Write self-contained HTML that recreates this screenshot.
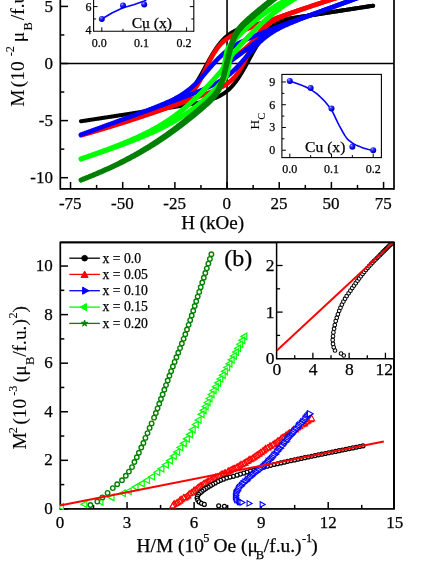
<!DOCTYPE html>
<html><head><meta charset="utf-8"><title>figure</title>
<style>
html,body{margin:0;padding:0;background:#fff;}
body{width:436px;height:564px;overflow:hidden;}
svg{display:block;will-change:transform;font-family:"Liberation Serif",serif;}
text{stroke:#000;stroke-width:0.25px;}
.rot text{stroke-width:0.08px;}
</style></head><body>
<svg width="436" height="564" viewBox="0 0 436 564">
<rect x="0" y="0" width="436" height="564" fill="#fff"/>
<defs>
<clipPath id="clipTop"><rect x="60.3" y="-5" width="333.7" height="193.9"/></clipPath>
<clipPath id="clipBot"><rect x="59.45" y="242.4" width="334.55" height="267.35"/></clipPath>
<clipPath id="clipIns"><rect x="276.6" y="242.4" width="117.4" height="116.3"/></clipPath>
<radialGradient id="sph" cx="0.35" cy="0.3" r="0.75"><stop offset="0" stop-color="#b8b8ff"/><stop offset="0.25" stop-color="#3a3aff"/><stop offset="0.7" stop-color="#0000e0"/><stop offset="1" stop-color="#000090"/></radialGradient>
</defs>
<line x1="60.3" y1="63.5" x2="394" y2="63.5" stroke="#000" stroke-width="1.6" />
<line x1="227.05" y1="-2" x2="227.05" y2="188.9" stroke="#000" stroke-width="1.6" />
<g clip-path="url(#clipTop)">
<path d="M227.05 63.5 L227.57 63.1 L228.09 62.7 L228.62 62.3 L229.14 61.9 L229.66 61.5 L230.18 61.1 L230.7 60.7 L231.22 60.3 L231.75 59.9 L232.27 59.5 L232.79 59.1 L233.31 58.7 L233.83 58.3 L234.35 57.9 L234.88 57.5 L235.4 57.1 L235.92 56.7 L236.44 56.31 L236.96 55.91 L237.49 55.51 L238.01 55.11 L238.53 54.71 L239.05 54.31 L239.57 53.91 L240.09 53.51 L240.62 53.11 L241.14 52.71 L241.66 52.31 L242.18 51.91 L242.7 51.51 L243.22 51.11 L243.75 50.71 L244.27 50.3 L244.79 49.9 L245.31 49.5 L245.83 49.1 L246.35 48.7 L246.88 48.3 L247.4 47.9 L247.92 47.49 L248.44 47.09 L248.96 46.68 L249.49 46.28 L250.01 45.87 L250.53 45.46 L251.05 45.05 L251.57 44.64 L252.09 44.22 L252.62 43.8 L253.14 43.38 L253.66 42.96 L254.18 42.52 L254.7 42.09 L255.22 41.65 L255.75 41.2 L256.27 40.75 L256.79 40.29 L257.31 39.83 L257.83 39.36 L258.36 38.88 L258.88 38.4 L259.4 37.91 L259.92 37.42 L260.44 36.92 L260.96 36.42 L261.49 35.92 L262.01 35.41 L262.53 34.91 L263.05 34.4 L263.57 33.9 L264.09 33.4 L264.62 32.9 L265.14 32.41 L265.66 31.92 L266.18 31.44 L266.7 30.97 L267.22 30.5 L267.75 30.04 L268.27 29.58 L268.79 29.14 L269.31 28.7 L269.83 28.27 L270.36 27.84 L270.88 27.43 L271.4 27.02 L271.92 26.62 L272.44 26.23 L272.96 25.85 L273.49 25.47 L274.01 25.1 L274.53 24.73 L275.05 24.37 L275.57 24.02 L276.09 23.67 L276.62 23.32 L277.14 22.98 L277.66 22.64 L278.18 22.31 L278.7 21.98 L279.23 21.65 L279.75 21.32 L280.27 20.99 L280.79 20.67 L281.31 20.34 L281.83 20.02 L282.36 19.7 L282.88 19.59 L283.4 19.5 L283.92 19.42 L284.44 19.34 L284.96 19.26 L285.49 19.18 L286.01 19.1 L286.53 19.01 L287.05 18.93 L287.57 18.85 L288.09 18.77 L288.62 18.69 L289.14 18.61 L289.66 18.53 L290.18 18.45 L290.7 18.37 L291.23 18.28 L291.75 18.2 L292.27 18.12 L292.79 18.04 L293.31 17.96 L293.83 17.88 L294.36 17.8 L294.88 17.72 L295.4 17.64 L295.92 17.56 L296.44 17.48 L296.96 17.4 L297.49 17.32 L298.01 17.24 L298.53 17.16 L299.05 17.08 L299.57 16.99 L300.1 16.91 L300.62 16.83 L301.14 16.75 L301.66 16.67 L302.18 16.59 L302.7 16.51 L303.23 16.43 L303.75 16.35 L304.27 16.27 L304.79 16.19 L305.31 16.11 L305.83 16.03 L306.36 15.95 L306.88 15.87 L307.4 15.79 L307.92 15.71 L308.44 15.63 L308.96 15.55 L309.49 15.47 L310.01 15.39 L310.53 15.31 L311.05 15.23 L311.57 15.15 L312.1 15.07 L312.62 14.99 L313.14 14.91 L313.66 14.83 L314.18 14.75 L314.7 14.67 L315.23 14.59 L315.75 14.51 L316.27 14.43 L316.79 14.35 L317.31 14.27 L317.83 14.19 L318.36 14.11 L318.88 14.03 L319.4 13.95 L319.92 13.87 L320.44 13.79 L320.97 13.71 L321.49 13.63 L322.01 13.55 L322.53 13.47 L323.05 13.39 L323.57 13.31 L324.1 13.23 L324.62 13.15 L325.14 13.07 L325.66 12.99 L326.18 12.91 L326.7 12.83 L327.23 12.75 L327.75 12.67 L328.27 12.59 L328.79 12.51 L329.31 12.43 L329.83 12.35 L330.36 12.27 L330.88 12.19 L331.4 12.11 L331.92 12.03 L332.44 11.95 L332.97 11.87 L333.49 11.79 L334.01 11.71 L334.53 11.63 L335.05 11.55 L335.57 11.47 L336.1 11.39 L336.62 11.31 L337.14 11.23 L337.66 11.15 L338.18 11.07 L338.7 10.99 L339.23 10.91 L339.75 10.83 L340.27 10.75 L340.79 10.67 L341.31 10.59 L341.84 10.51 L342.36 10.43 L342.88 10.35 L343.4 10.27 L343.92 10.19 L344.44 10.11 L344.97 10.03 L345.49 9.95 L346.01 9.87 L346.53 9.79 L347.05 9.71 L347.57 9.63 L348.1 9.55 L348.62 9.47 L349.14 9.39 L349.66 9.31 L350.18 9.23 L350.7 9.15 L351.23 9.07 L351.75 8.99 L352.27 8.91 L352.79 8.83 L353.31 8.75 L353.84 8.67 L354.36 8.59 L354.88 8.51 L355.4 8.43 L355.92 8.35 L356.44 8.27 L356.97 8.19 L357.49 8.11 L358.01 8.03 L358.53 7.95 L359.05 7.87 L359.57 7.79 L360.1 7.71 L360.62 7.63 L361.14 7.55 L361.66 7.47 L362.18 7.39 L362.71 7.31 L363.23 7.23 L363.75 7.15 L364.27 7.07 L364.79 6.99 L365.31 6.91 L365.84 6.83 L366.36 6.75 L366.88 6.67 L367.4 6.59 L367.92 6.51 L368.44 6.43 L368.97 6.35 L369.49 6.27 L370.01 6.19 L370.53 6.11 L371.05 6.03 L371.57 5.95 L372.1 5.87 L372.62 5.79 L373.14 5.71" fill="none" stroke="#000000" stroke-width="4" stroke-linejoin="round" stroke-linecap="round"/>
<path d="M80.96 121.28 L81.48 121.2 L82 121.12 L82.53 121.04 L83.05 120.96 L83.57 120.88 L84.09 120.8 L84.61 120.72 L85.13 120.64 L85.66 120.57 L86.18 120.49 L86.7 120.41 L87.22 120.33 L87.74 120.25 L88.26 120.17 L88.79 120.09 L89.31 120.01 L89.83 119.93 L90.35 119.85 L90.87 119.77 L91.4 119.69 L91.92 119.61 L92.44 119.53 L92.96 119.45 L93.48 119.37 L94 119.29 L94.53 119.21 L95.05 119.13 L95.57 119.04 L96.09 118.96 L96.61 118.88 L97.13 118.8 L97.66 118.72 L98.18 118.64 L98.7 118.56 L99.22 118.48 L99.74 118.4 L100.26 118.32 L100.79 118.24 L101.31 118.16 L101.83 118.08 L102.35 118 L102.87 117.92 L103.4 117.84 L103.92 117.76 L104.44 117.68 L104.96 117.6 L105.48 117.52 L106 117.44 L106.53 117.36 L107.05 117.28 L107.57 117.2 L108.09 117.12 L108.61 117.04 L109.13 116.96 L109.66 116.88 L110.18 116.8 L110.7 116.72 L111.22 116.64 L111.74 116.56 L112.27 116.48 L112.79 116.4 L113.31 116.32 L113.83 116.24 L114.35 116.16 L114.87 116.08 L115.4 116 L115.92 115.92 L116.44 115.84 L116.96 115.75 L117.48 115.67 L118 115.59 L118.53 115.51 L119.05 115.43 L119.57 115.35 L120.09 115.27 L120.61 115.19 L121.13 115.11 L121.66 115.03 L122.18 114.95 L122.7 114.86 L123.22 114.78 L123.74 114.7 L124.27 114.62 L124.79 114.54 L125.31 114.46 L125.83 114.38 L126.35 114.29 L126.87 114.21 L127.4 114.13 L127.92 114.05 L128.44 113.97 L128.96 113.88 L129.48 113.8 L130 113.72 L130.53 113.64 L131.05 113.55 L131.57 113.47 L132.09 113.39 L132.61 113.3 L133.13 113.22 L133.66 113.14 L134.18 113.05 L134.7 112.97 L135.22 112.89 L135.74 112.8 L136.27 112.72 L136.79 112.63 L137.31 112.55 L137.83 112.46 L138.35 112.38 L138.87 112.29 L139.4 112.2 L139.92 112.12 L140.44 112.03 L140.96 111.94 L141.48 111.86 L142 111.77 L142.53 111.68 L143.05 111.59 L143.57 111.5 L144.09 111.41 L144.61 111.32 L145.14 111.23 L145.66 111.14 L146.18 111.05 L146.7 110.96 L147.22 110.86 L147.74 110.77 L148.27 110.68 L148.79 110.58 L149.31 110.49 L149.83 110.39 L150.35 110.29 L150.87 110.19 L151.4 110.09 L151.92 109.99 L152.44 109.89 L152.96 109.79 L153.48 109.69 L154 109.58 L154.53 109.47 L155.05 109.37 L155.57 109.26 L156.09 109.15 L156.61 109.04 L157.14 108.92 L157.66 108.81 L158.18 108.69 L158.7 108.57 L159.22 108.45 L159.74 108.33 L160.27 108.2 L160.79 108.08 L161.31 107.95 L161.83 107.82 L162.35 107.68 L162.87 107.55 L163.4 107.41 L163.92 107.26 L164.44 107.12 L164.96 106.97 L165.48 106.82 L166.01 106.66 L166.53 106.5 L167.05 106.34 L167.57 106.17 L168.09 106 L168.61 105.82 L169.14 105.64 L169.66 105.45 L170.18 105.26 L170.7 105.07 L171.22 104.86 L171.74 104.66 L172.27 104.44 L172.79 104.22 L173.31 103.99 L173.83 103.76 L174.35 103.52 L174.88 103.27 L175.4 103.02 L175.92 102.75 L176.44 102.48 L176.96 102.2 L177.48 101.91 L178.01 101.61 L178.53 101.3 L179.05 100.98 L179.57 100.65 L180.09 100.31 L180.61 99.96 L181.14 99.6 L181.66 99.23 L182.18 98.84 L182.7 98.44 L183.22 98.03 L183.74 97.6 L184.27 97.16 L184.79 96.71 L185.31 96.24 L185.83 95.76 L186.35 95.26 L186.88 94.75 L187.4 94.22 L187.92 93.68 L188.44 93.12 L188.96 92.54 L189.48 91.95 L190.01 91.34 L190.53 90.71 L191.05 90.07 L191.57 89.41 L192.09 88.73 L192.61 88.04 L193.14 87.33 L193.66 86.6 L194.18 85.85 L194.7 85.09 L195.22 84.32 L195.75 83.52 L196.27 82.71 L196.79 81.89 L197.31 81.05 L197.83 80.2 L198.35 79.33 L198.88 78.45 L199.4 77.56 L199.92 76.66 L200.44 75.75 L200.96 74.82 L201.48 73.89 L202.01 72.95 L202.53 72.01 L203.05 71.06 L203.57 70.1 L204.09 69.14 L204.61 68.18 L205.14 67.21 L205.66 66.25 L206.18 65.28 L206.7 64.32 L207.22 63.36 L207.75 62.4 L208.27 61.45 L208.79 60.51 L209.31 59.57 L209.83 58.64 L210.35 57.72 L210.88 56.81 L211.4 55.91 L211.92 55.02 L212.44 54.14 L212.96 53.28 L213.48 52.43 L214.01 51.6 L214.53 50.77 L215.05 49.97 L215.57 49.18 L216.09 48.4 L216.62 47.65 L217.14 46.9 L217.66 46.18 L218.18 45.47 L218.7 44.78 L219.22 44.11 L219.75 43.45 L220.27 42.81 L220.79 42.19 L221.31 41.58 L221.83 40.99 L222.35 40.42 L222.88 39.86 L223.4 39.32 L223.92 38.79 L224.44 38.29 L224.96 37.79 L225.48 37.31 L226.01 36.85 L226.53 36.4 L227.05 35.96 L227.57 35.54 L228.09 35.13 L228.62 34.73 L229.14 34.35 L229.66 33.98 L230.18 33.62 L230.7 33.27 L231.22 32.93 L231.75 32.6 L232.27 32.29 L232.79 31.98 L233.31 31.68 L233.83 31.39 L234.35 31.11 L234.88 30.84 L235.4 30.58 L235.92 30.33 L236.44 30.08 L236.96 29.84 L237.49 29.61 L238.01 29.38 L238.53 29.17 L239.05 28.95 L239.57 28.75 L240.09 28.55 L240.62 28.35 L241.14 28.16 L241.66 27.98 L242.18 27.8 L242.7 27.62 L243.22 27.45 L243.75 27.28 L244.27 27.12 L244.79 26.96 L245.31 26.8 L245.83 26.65 L246.35 26.5 L246.88 26.36 L247.4 26.22 L247.92 26.08 L248.44 25.94 L248.96 25.81 L249.49 25.68 L250.01 25.55 L250.53 25.42 L251.05 25.3 L251.57 25.17 L252.09 25.05 L252.62 24.94 L253.14 24.82 L253.66 24.71 L254.18 24.59 L254.7 24.48 L255.22 24.37 L255.75 24.26 L256.27 24.16 L256.79 24.05 L257.31 23.94 L257.83 23.84 L258.36 23.74 L258.88 23.64 L259.4 23.54 L259.92 23.44 L260.44 23.34 L260.96 23.24 L261.49 23.15 L262.01 23.05 L262.53 22.96 L263.05 22.86 L263.57 22.77 L264.09 22.68 L264.62 22.58 L265.14 22.49 L265.66 22.4 L266.18 22.31 L266.7 22.22 L267.22 22.13 L267.75 22.04 L268.27 21.95 L268.79 21.86 L269.31 21.78 L269.83 21.69 L270.36 21.6 L270.88 21.52 L271.4 21.43 L271.92 21.34 L272.44 21.26 L272.96 21.17 L273.49 21.09 L274.01 21 L274.53 20.92 L275.05 20.83 L275.57 20.75 L276.09 20.66 L276.62 20.58 L277.14 20.5 L277.66 20.41 L278.18 20.33 L278.7 20.25 L279.23 20.16 L279.75 20.08 L280.27 20 L280.79 19.92 L281.31 19.83 L281.83 19.75 L282.36 19.67 L282.88 19.59 L283.4 19.5 L283.92 19.42 L284.44 19.34 L284.96 19.26 L285.49 19.18 L286.01 19.1 L286.53 19.01 L287.05 18.93 L287.57 18.85 L288.09 18.77 L288.62 18.69 L289.14 18.61 L289.66 18.53 L290.18 18.45 L290.7 18.37 L291.23 18.28 L291.75 18.2 L292.27 18.12 L292.79 18.04 L293.31 17.96 L293.83 17.88 L294.36 17.8 L294.88 17.72 L295.4 17.64 L295.92 17.56 L296.44 17.48 L296.96 17.4 L297.49 17.32 L298.01 17.24 L298.53 17.16 L299.05 17.08 L299.57 16.99 L300.1 16.91 L300.62 16.83 L301.14 16.75 L301.66 16.67 L302.18 16.59 L302.7 16.51 L303.23 16.43 L303.75 16.35 L304.27 16.27 L304.79 16.19 L305.31 16.11 L305.83 16.03 L306.36 15.95 L306.88 15.87 L307.4 15.79 L307.92 15.71 L308.44 15.63 L308.96 15.55 L309.49 15.47 L310.01 15.39 L310.53 15.31 L311.05 15.23 L311.57 15.15 L312.1 15.07 L312.62 14.99 L313.14 14.91 L313.66 14.83 L314.18 14.75 L314.7 14.67 L315.23 14.59 L315.75 14.51 L316.27 14.43 L316.79 14.35 L317.31 14.27 L317.83 14.19 L318.36 14.11 L318.88 14.03 L319.4 13.95 L319.92 13.87 L320.44 13.79 L320.97 13.71 L321.49 13.63 L322.01 13.55 L322.53 13.47 L323.05 13.39 L323.57 13.31 L324.1 13.23 L324.62 13.15 L325.14 13.07 L325.66 12.99 L326.18 12.91 L326.7 12.83 L327.23 12.75 L327.75 12.67 L328.27 12.59 L328.79 12.51 L329.31 12.43 L329.83 12.35 L330.36 12.27 L330.88 12.19 L331.4 12.11 L331.92 12.03 L332.44 11.95 L332.97 11.87 L333.49 11.79 L334.01 11.71 L334.53 11.63 L335.05 11.55 L335.57 11.47 L336.1 11.39 L336.62 11.31 L337.14 11.23 L337.66 11.15 L338.18 11.07 L338.7 10.99 L339.23 10.91 L339.75 10.83 L340.27 10.75 L340.79 10.67 L341.31 10.59 L341.84 10.51 L342.36 10.43 L342.88 10.35 L343.4 10.27 L343.92 10.19 L344.44 10.11 L344.97 10.03 L345.49 9.95 L346.01 9.87 L346.53 9.79 L347.05 9.71 L347.57 9.63 L348.1 9.55 L348.62 9.47 L349.14 9.39 L349.66 9.31 L350.18 9.23 L350.7 9.15 L351.23 9.07 L351.75 8.99 L352.27 8.91 L352.79 8.83 L353.31 8.75 L353.84 8.67 L354.36 8.59 L354.88 8.51 L355.4 8.43 L355.92 8.35 L356.44 8.27 L356.97 8.19 L357.49 8.11 L358.01 8.03 L358.53 7.95 L359.05 7.87 L359.57 7.79 L360.1 7.71 L360.62 7.63 L361.14 7.55 L361.66 7.47 L362.18 7.39 L362.71 7.31 L363.23 7.23 L363.75 7.15 L364.27 7.07 L364.79 6.99 L365.31 6.91 L365.84 6.83 L366.36 6.75 L366.88 6.67 L367.4 6.59 L367.92 6.51 L368.44 6.43 L368.97 6.35 L369.49 6.27 L370.01 6.19 L370.53 6.11 L371.05 6.03 L371.57 5.95 L372.1 5.87 L372.62 5.79 L373.14 5.71 L373.14 5.72 L372.62 5.8 L372.1 5.88 L371.57 5.96 L371.05 6.04 L370.53 6.12 L370.01 6.2 L369.49 6.28 L368.97 6.36 L368.44 6.43 L367.92 6.51 L367.4 6.59 L366.88 6.67 L366.36 6.75 L365.84 6.83 L365.31 6.91 L364.79 6.99 L364.27 7.07 L363.75 7.15 L363.23 7.23 L362.71 7.31 L362.18 7.39 L361.66 7.47 L361.14 7.55 L360.62 7.63 L360.1 7.71 L359.57 7.79 L359.05 7.87 L358.53 7.96 L358.01 8.04 L357.49 8.12 L356.97 8.2 L356.44 8.28 L355.92 8.36 L355.4 8.44 L354.88 8.52 L354.36 8.6 L353.84 8.68 L353.31 8.76 L352.79 8.84 L352.27 8.92 L351.75 9 L351.23 9.08 L350.7 9.16 L350.18 9.24 L349.66 9.32 L349.14 9.4 L348.62 9.48 L348.1 9.56 L347.57 9.64 L347.05 9.72 L346.53 9.8 L346.01 9.88 L345.49 9.96 L344.97 10.04 L344.44 10.12 L343.92 10.2 L343.4 10.28 L342.88 10.36 L342.36 10.44 L341.84 10.52 L341.31 10.6 L340.79 10.68 L340.27 10.76 L339.75 10.84 L339.23 10.92 L338.7 11 L338.18 11.08 L337.66 11.16 L337.14 11.25 L336.62 11.33 L336.1 11.41 L335.57 11.49 L335.05 11.57 L334.53 11.65 L334.01 11.73 L333.49 11.81 L332.97 11.89 L332.44 11.97 L331.92 12.05 L331.4 12.14 L330.88 12.22 L330.36 12.3 L329.83 12.38 L329.31 12.46 L328.79 12.54 L328.27 12.62 L327.75 12.71 L327.23 12.79 L326.7 12.87 L326.18 12.95 L325.66 13.03 L325.14 13.12 L324.62 13.2 L324.1 13.28 L323.57 13.36 L323.05 13.45 L322.53 13.53 L322.01 13.61 L321.49 13.7 L320.97 13.78 L320.44 13.86 L319.92 13.95 L319.4 14.03 L318.88 14.11 L318.36 14.2 L317.83 14.28 L317.31 14.37 L316.79 14.45 L316.27 14.54 L315.75 14.62 L315.23 14.71 L314.7 14.8 L314.18 14.88 L313.66 14.97 L313.14 15.06 L312.62 15.14 L312.1 15.23 L311.57 15.32 L311.05 15.41 L310.53 15.5 L310.01 15.59 L309.49 15.68 L308.96 15.77 L308.44 15.86 L307.92 15.95 L307.4 16.04 L306.88 16.14 L306.36 16.23 L305.83 16.32 L305.31 16.42 L304.79 16.51 L304.27 16.61 L303.75 16.71 L303.23 16.81 L302.7 16.91 L302.18 17.01 L301.66 17.11 L301.14 17.21 L300.62 17.31 L300.1 17.42 L299.57 17.53 L299.05 17.63 L298.53 17.74 L298.01 17.85 L297.49 17.96 L296.96 18.08 L296.44 18.19 L295.92 18.31 L295.4 18.43 L294.88 18.55 L294.36 18.67 L293.83 18.8 L293.31 18.92 L292.79 19.05 L292.27 19.18 L291.75 19.32 L291.23 19.45 L290.7 19.59 L290.18 19.74 L289.66 19.88 L289.14 20.03 L288.62 20.18 L288.09 20.34 L287.57 20.5 L287.05 20.66 L286.53 20.83 L286.01 21 L285.49 21.18 L284.96 21.36 L284.44 21.55 L283.92 21.74 L283.4 21.93 L282.88 22.14 L282.36 22.34 L281.83 22.56 L281.31 22.78 L280.79 23.01 L280.27 23.24 L279.75 23.48 L279.23 23.73 L278.7 23.98 L278.18 24.25 L277.66 24.52 L277.14 24.8 L276.62 25.09 L276.09 25.39 L275.57 25.7 L275.05 26.02 L274.53 26.35 L274.01 26.69 L273.49 27.04 L272.96 27.4 L272.44 27.77 L271.92 28.16 L271.4 28.56 L270.88 28.97 L270.36 29.4 L269.83 29.84 L269.31 30.29 L268.79 30.76 L268.27 31.24 L267.75 31.74 L267.22 32.25 L266.7 32.78 L266.18 33.32 L265.66 33.88 L265.14 34.46 L264.62 35.05 L264.09 35.66 L263.57 36.29 L263.05 36.93 L262.53 37.59 L262.01 38.27 L261.49 38.96 L260.96 39.67 L260.44 40.4 L259.92 41.15 L259.4 41.91 L258.88 42.68 L258.36 43.48 L257.83 44.29 L257.31 45.11 L256.79 45.95 L256.27 46.8 L255.75 47.67 L255.22 48.55 L254.7 49.44 L254.18 50.34 L253.66 51.25 L253.14 52.18 L252.62 53.11 L252.09 54.05 L251.57 54.99 L251.05 55.94 L250.53 56.9 L250.01 57.86 L249.49 58.82 L248.96 59.79 L248.44 60.75 L247.92 61.72 L247.4 62.68 L246.88 63.64 L246.35 64.6 L245.83 65.55 L245.31 66.49 L244.79 67.43 L244.27 68.36 L243.75 69.28 L243.22 70.19 L242.7 71.09 L242.18 71.98 L241.66 72.86 L241.14 73.72 L240.62 74.57 L240.09 75.4 L239.57 76.23 L239.05 77.03 L238.53 77.82 L238.01 78.6 L237.49 79.35 L236.96 80.1 L236.44 80.82 L235.92 81.53 L235.4 82.22 L234.88 82.89 L234.35 83.55 L233.83 84.19 L233.31 84.81 L232.79 85.42 L232.27 86.01 L231.75 86.58 L231.22 87.14 L230.7 87.68 L230.18 88.21 L229.66 88.71 L229.14 89.21 L228.62 89.69 L228.09 90.15 L227.57 90.6 L227.05 91.04 L226.53 91.46 L226.01 91.87 L225.48 92.27 L224.96 92.65 L224.44 93.02 L223.92 93.38 L223.4 93.73 L222.88 94.07 L222.35 94.4 L221.83 94.71 L221.31 95.02 L220.79 95.32 L220.27 95.61 L219.75 95.89 L219.22 96.16 L218.7 96.42 L218.18 96.67 L217.66 96.92 L217.14 97.16 L216.62 97.39 L216.09 97.62 L215.57 97.83 L215.05 98.05 L214.53 98.25 L214.01 98.45 L213.48 98.65 L212.96 98.84 L212.44 99.02 L211.92 99.2 L211.4 99.38 L210.88 99.55 L210.35 99.72 L209.83 99.88 L209.31 100.04 L208.79 100.2 L208.27 100.35 L207.75 100.5 L207.22 100.64 L206.7 100.78 L206.18 100.92 L205.66 101.06 L205.14 101.19 L204.61 101.32 L204.09 101.45 L203.57 101.58 L203.05 101.7 L202.53 101.83 L202.01 101.95 L201.48 102.06 L200.96 102.18 L200.44 102.29 L199.92 102.41 L199.4 102.52 L198.88 102.63 L198.35 102.74 L197.83 102.84 L197.31 102.95 L196.79 103.06 L196.27 103.16 L195.75 103.26 L195.22 103.36 L194.7 103.46 L194.18 103.56 L193.66 103.66 L193.14 103.76 L192.61 103.85 L192.09 103.95 L191.57 104.04 L191.05 104.14 L190.53 104.23 L190.01 104.32 L189.48 104.42 L188.96 104.51 L188.44 104.6 L187.92 104.69 L187.4 104.78 L186.88 104.87 L186.35 104.96 L185.83 105.05 L185.31 105.14 L184.79 105.22 L184.27 105.31 L183.74 105.4 L183.22 105.48 L182.7 105.57 L182.18 105.66 L181.66 105.74 L181.14 105.83 L180.61 105.91 L180.09 106 L179.57 106.08 L179.05 106.17 L178.53 106.25 L178.01 106.34 L177.48 106.42 L176.96 106.5 L176.44 106.59 L175.92 106.67 L175.4 106.75 L174.88 106.84 L174.35 106.92 L173.83 107 L173.31 107.08 L172.79 107.17 L172.27 107.25 L171.74 107.33 L171.22 107.41 L170.7 107.5 L170.18 107.58 L169.66 107.66 L169.14 107.74 L168.61 107.82 L168.09 107.9 L167.57 107.99 L167.05 108.07 L166.53 108.15 L166.01 108.23 L165.48 108.31 L164.96 108.39 L164.44 108.47 L163.92 108.55 L163.4 108.63 L162.87 108.72 L162.35 108.8 L161.83 108.88 L161.31 108.96 L160.79 109.04 L160.27 109.12 L159.74 109.2 L159.22 109.28 L158.7 109.36 L158.18 109.44 L157.66 109.52 L157.14 109.6 L156.61 109.68 L156.09 109.76 L155.57 109.84 L155.05 109.92 L154.53 110.01 L154 110.09 L153.48 110.17 L152.96 110.25 L152.44 110.33 L151.92 110.41 L151.4 110.49 L150.87 110.57 L150.35 110.65 L149.83 110.73 L149.31 110.81 L148.79 110.89 L148.27 110.97 L147.74 111.05 L147.22 111.13 L146.7 111.21 L146.18 111.29 L145.66 111.37 L145.14 111.45 L144.61 111.53 L144.09 111.61 L143.57 111.69 L143.05 111.77 L142.53 111.85 L142 111.93 L141.48 112.01 L140.96 112.09 L140.44 112.17 L139.92 112.25 L139.4 112.33 L138.87 112.41 L138.35 112.49 L137.83 112.57 L137.31 112.65 L136.79 112.73 L136.27 112.81 L135.74 112.89 L135.22 112.97 L134.7 113.05 L134.18 113.13 L133.66 113.21 L133.13 113.29 L132.61 113.37 L132.09 113.45 L131.57 113.53 L131.05 113.61 L130.53 113.69 L130 113.77 L129.48 113.85 L128.96 113.93 L128.44 114.01 L127.92 114.09 L127.4 114.17 L126.87 114.25 L126.35 114.33 L125.83 114.41 L125.31 114.49 L124.79 114.57 L124.27 114.65 L123.74 114.73 L123.22 114.81 L122.7 114.89 L122.18 114.97 L121.66 115.05 L121.13 115.13 L120.61 115.21 L120.09 115.29 L119.57 115.37 L119.05 115.45 L118.53 115.53 L118 115.61 L117.48 115.69 L116.96 115.77 L116.44 115.85 L115.92 115.93 L115.4 116.01 L114.87 116.09 L114.35 116.17 L113.83 116.25 L113.31 116.33 L112.79 116.41 L112.27 116.49 L111.74 116.57 L111.22 116.65 L110.7 116.73 L110.18 116.81 L109.66 116.89 L109.13 116.97 L108.61 117.05 L108.09 117.13 L107.57 117.21 L107.05 117.29 L106.53 117.37 L106 117.45 L105.48 117.53 L104.96 117.61 L104.44 117.69 L103.92 117.77 L103.4 117.85 L102.87 117.93 L102.35 118.01 L101.83 118.09 L101.31 118.17 L100.79 118.25 L100.26 118.33 L99.74 118.41 L99.22 118.49 L98.7 118.57 L98.18 118.65 L97.66 118.73 L97.13 118.81 L96.61 118.89 L96.09 118.97 L95.57 119.05 L95.05 119.13 L94.53 119.21 L94 119.29 L93.48 119.37 L92.96 119.45 L92.44 119.53 L91.92 119.61 L91.4 119.69 L90.87 119.77 L90.35 119.85 L89.83 119.93 L89.31 120.01 L88.79 120.09 L88.26 120.17 L87.74 120.25 L87.22 120.33 L86.7 120.41 L86.18 120.49 L85.66 120.57 L85.13 120.65 L84.61 120.73 L84.09 120.81 L83.57 120.89 L83.05 120.97 L82.53 121.05 L82 121.13 L81.48 121.21 L80.96 121.29" fill="none" stroke="#000000" stroke-width="4" stroke-linejoin="round" stroke-linecap="round"/>
<path d="M227.05 63.5 L227.57 63.07 L228.09 62.64 L228.62 62.22 L229.14 61.79 L229.66 61.36 L230.18 60.93 L230.7 60.5 L231.22 60.07 L231.75 59.65 L232.27 59.22 L232.79 58.79 L233.31 58.36 L233.83 57.93 L234.35 57.5 L234.88 57.08 L235.4 56.65 L235.92 56.22 L236.44 55.79 L236.96 55.36 L237.49 54.93 L238.01 54.5 L238.53 54.08 L239.05 53.65 L239.57 53.22 L240.09 52.79 L240.62 52.36 L241.14 51.93 L241.66 51.5 L242.18 51.07 L242.7 50.64 L243.22 50.2 L243.75 49.77 L244.27 49.33 L244.79 48.9 L245.31 48.46 L245.83 48.02 L246.35 47.57 L246.88 47.12 L247.4 46.67 L247.92 46.21 L248.44 45.74 L248.96 45.26 L249.49 44.77 L250.01 44.26 L250.53 43.74 L251.05 43.2 L251.57 42.64 L252.09 42.07 L252.62 41.47 L253.14 40.85 L253.66 40.21 L254.18 39.55 L254.7 38.88 L255.22 38.19 L255.75 37.5 L256.27 36.8 L256.79 36.1 L257.31 35.4 L257.83 34.71 L258.36 34.02 L258.88 33.35 L259.4 32.68 L259.92 32.03 L260.44 31.4 L260.96 30.78 L261.49 30.18 L262.01 29.59 L262.53 29.02 L263.05 28.47 L263.57 27.93 L264.09 27.41 L264.62 26.91 L265.14 26.42 L265.66 25.95 L266.18 25.49 L266.7 25.04 L267.22 24.61 L267.75 24.2 L268.27 23.79 L268.79 23.4 L269.31 23.01 L269.83 22.64 L270.36 22.28 L270.88 21.92 L271.4 21.57 L271.92 21.23 L272.44 20.9 L272.96 20.58 L273.49 20.26 L274.01 19.94 L274.53 19.63 L275.05 19.33 L275.57 19.03 L276.09 18.73 L276.62 18.43 L277.14 18.14 L277.66 17.85 L278.18 17.56 L278.7 17.35 L279.23 17.16 L279.75 16.98 L280.27 16.79 L280.79 16.61 L281.31 16.42 L281.83 16.24 L282.36 16.06 L282.88 15.87 L283.4 15.69 L283.92 15.51 L284.44 15.32 L284.96 15.14 L285.49 14.96 L286.01 14.77 L286.53 14.59 L287.05 14.41 L287.57 14.23 L288.09 14.04 L288.62 13.86 L289.14 13.68 L289.66 13.5 L290.18 13.32 L290.7 13.14 L291.23 12.95 L291.75 12.77 L292.27 12.59 L292.79 12.41 L293.31 12.23 L293.83 12.05 L294.36 11.87 L294.88 11.69 L295.4 11.51 L295.92 11.33 L296.44 11.15 L296.96 10.97 L297.49 10.79 L298.01 10.61 L298.53 10.44 L299.05 10.26 L299.57 10.08 L300.1 9.9 L300.62 9.72 L301.14 9.55 L301.66 9.37 L302.18 9.19 L302.7 9.01 L303.23 8.84 L303.75 8.66 L304.27 8.48 L304.79 8.31 L305.31 8.13 L305.83 7.95 L306.36 7.78 L306.88 7.6 L307.4 7.43 L307.92 7.25 L308.44 7.08 L308.96 6.9 L309.49 6.73 L310.01 6.55 L310.53 6.38 L311.05 6.2 L311.57 6.03 L312.1 5.85 L312.62 5.68 L313.14 5.51 L313.66 5.33 L314.18 5.16 L314.7 4.99 L315.23 4.82 L315.75 4.64 L316.27 4.47 L316.79 4.3 L317.31 4.13 L317.83 3.96 L318.36 3.79 L318.88 3.61 L319.4 3.44 L319.92 3.27 L320.44 3.1 L320.97 2.93 L321.49 2.76 L322.01 2.59 L322.53 2.42 L323.05 2.25 L323.57 2.08 L324.1 1.91 L324.62 1.75 L325.14 1.58 L325.66 1.41 L326.18 1.24 L326.7 1.07 L327.23 0.91 L327.75 0.74 L328.27 0.57 L328.79 0.4 L329.31 0.24 L329.83 0.07 L330.36 -0.1 L330.88 -0.26 L331.4 -0.43 L331.92 -0.59 L332.44 -0.76 L332.97 -0.92 L333.49 -1.09 L334.01 -1.25 L334.53 -1.42 L335.05 -1.58 L335.57 -1.75 L336.1 -1.91 L336.62 -2.07 L337.14 -2.24 L337.66 -2.4 L338.18 -2.56 L338.7 -2.73 L339.23 -2.89 L339.75 -3.05 L340.27 -3.21 L340.79 -3.37 L341.31 -3.54 L341.84 -3.7 L342.36 -3.86 L342.88 -4.02 L343.4 -4.18 L343.92 -4.34 L344.44 -4.5 L344.97 -4.66 L345.49 -4.82 L346.01 -4.98 L346.53 -5.14 L347.05 -5.3 L347.57 -5.46 L348.1 -5.61 L348.62 -5.77 L349.14 -5.93 L349.66 -6.09 L350.18 -6.24 L350.7 -6.4 L351.23 -6.56 L351.75 -6.72 L352.27 -6.87 L352.79 -7.03 L353.31 -7.18 L353.84 -7.34 L354.36 -7.5 L354.88 -7.65 L355.4 -7.81 L355.92 -7.96 L356.44 -8.12 L356.97 -8.27 L357.49 -8.42 L358.01 -8.58 L358.53 -8.73 L359.05 -8.89 L359.57 -9.04 L360.1 -9.19 L360.62 -9.34 L361.14 -9.5 L361.66 -9.65 L362.18 -9.8 L362.71 -9.95 L363.23 -10.1 L363.75 -10.26 L364.27 -10.41 L364.79 -10.56 L365.31 -10.71 L365.84 -10.86 L366.36 -11.01 L366.88 -11.16 L367.4 -11.31 L367.92 -11.46 L368.44 -11.6 L368.97 -11.75 L369.49 -11.9 L370.01 -12.05 L370.53 -12.2 L371.05 -12.35 L371.57 -12.49 L372.1 -12.64 L372.62 -12.79 L373.14 -12.93" fill="none" stroke="#ff0000" stroke-width="4.6" stroke-linejoin="round" stroke-linecap="round"/>
<path d="M80.96 135.37 L81.48 135.22 L82 135.07 L82.53 134.93 L83.05 134.78 L83.57 134.63 L84.09 134.48 L84.61 134.33 L85.13 134.19 L85.66 134.04 L86.18 133.89 L86.7 133.74 L87.22 133.59 L87.74 133.44 L88.26 133.29 L88.79 133.14 L89.31 132.99 L89.83 132.84 L90.35 132.69 L90.87 132.54 L91.4 132.38 L91.92 132.23 L92.44 132.08 L92.96 131.93 L93.48 131.78 L94 131.62 L94.53 131.47 L95.05 131.32 L95.57 131.16 L96.09 131.01 L96.61 130.86 L97.13 130.7 L97.66 130.55 L98.18 130.39 L98.7 130.24 L99.22 130.08 L99.74 129.93 L100.26 129.77 L100.79 129.62 L101.31 129.46 L101.83 129.3 L102.35 129.15 L102.87 128.99 L103.4 128.83 L103.92 128.68 L104.44 128.52 L104.96 128.36 L105.48 128.2 L106 128.05 L106.53 127.89 L107.05 127.73 L107.57 127.57 L108.09 127.41 L108.61 127.25 L109.13 127.09 L109.66 126.93 L110.18 126.77 L110.7 126.61 L111.22 126.45 L111.74 126.29 L112.27 126.13 L112.79 125.97 L113.31 125.81 L113.83 125.64 L114.35 125.48 L114.87 125.32 L115.4 125.16 L115.92 124.99 L116.44 124.83 L116.96 124.67 L117.48 124.51 L118 124.34 L118.53 124.18 L119.05 124.01 L119.57 123.85 L120.09 123.68 L120.61 123.52 L121.13 123.36 L121.66 123.19 L122.18 123.02 L122.7 122.86 L123.22 122.69 L123.74 122.53 L124.27 122.36 L124.79 122.19 L125.31 122.03 L125.83 121.86 L126.35 121.69 L126.87 121.53 L127.4 121.36 L127.92 121.19 L128.44 121.02 L128.96 120.85 L129.48 120.68 L130 120.52 L130.53 120.35 L131.05 120.18 L131.57 120.01 L132.09 119.84 L132.61 119.67 L133.13 119.5 L133.66 119.33 L134.18 119.16 L134.7 118.99 L135.22 118.81 L135.74 118.64 L136.27 118.47 L136.79 118.3 L137.31 118.13 L137.83 117.96 L138.35 117.78 L138.87 117.61 L139.4 117.44 L139.92 117.26 L140.44 117.09 L140.96 116.92 L141.48 116.74 L142 116.57 L142.53 116.39 L143.05 116.22 L143.57 116.05 L144.09 115.87 L144.61 115.69 L145.14 115.52 L145.66 115.34 L146.18 115.17 L146.7 114.99 L147.22 114.81 L147.74 114.64 L148.27 114.46 L148.79 114.28 L149.31 114.1 L149.83 113.93 L150.35 113.75 L150.87 113.57 L151.4 113.39 L151.92 113.21 L152.44 113.03 L152.96 112.85 L153.48 112.67 L154 112.49 L154.53 112.31 L155.05 112.13 L155.57 111.94 L156.09 111.76 L156.61 111.58 L157.14 111.39 L157.66 111.21 L158.18 111.03 L158.7 110.84 L159.22 110.65 L159.74 110.47 L160.27 110.28 L160.79 110.09 L161.31 109.91 L161.83 109.72 L162.35 109.53 L162.87 109.34 L163.4 109.14 L163.92 108.95 L164.44 108.76 L164.96 108.56 L165.48 108.37 L166.01 108.17 L166.53 107.97 L167.05 107.77 L167.57 107.57 L168.09 107.37 L168.61 107.16 L169.14 106.96 L169.66 106.75 L170.18 106.54 L170.7 106.33 L171.22 106.12 L171.74 105.9 L172.27 105.68 L172.79 105.46 L173.31 105.23 L173.83 105.01 L174.35 104.78 L174.88 104.54 L175.4 104.3 L175.92 104.06 L176.44 103.82 L176.96 103.57 L177.48 103.31 L178.01 103.05 L178.53 102.79 L179.05 102.51 L179.57 102.24 L180.09 101.95 L180.61 101.66 L181.14 101.36 L181.66 101.06 L182.18 100.74 L182.7 100.42 L183.22 100.08 L183.74 99.74 L184.27 99.39 L184.79 99.02 L185.31 98.64 L185.83 98.25 L186.35 97.85 L186.88 97.44 L187.4 97 L187.92 96.56 L188.44 96.1 L188.96 95.62 L189.48 95.12 L190.01 94.6 L190.53 94.07 L191.05 93.52 L191.57 92.94 L192.09 92.35 L192.61 91.73 L193.14 91.09 L193.66 90.42 L194.18 89.74 L194.7 89.03 L195.22 88.29 L195.75 87.53 L196.27 86.75 L196.79 85.94 L197.31 85.1 L197.83 84.24 L198.35 83.36 L198.88 82.45 L199.4 81.53 L199.92 80.58 L200.44 79.6 L200.96 78.61 L201.48 77.61 L202.01 76.58 L202.53 75.54 L203.05 74.49 L203.57 73.42 L204.09 72.35 L204.61 71.27 L205.14 70.18 L205.66 69.1 L206.18 68.01 L206.7 66.92 L207.22 65.84 L207.75 64.77 L208.27 63.7 L208.79 62.65 L209.31 61.61 L209.83 60.58 L210.35 59.57 L210.88 58.58 L211.4 57.6 L211.92 56.65 L212.44 55.72 L212.96 54.81 L213.48 53.92 L214.01 53.06 L214.53 52.22 L215.05 51.41 L215.57 50.62 L216.09 49.85 L216.62 49.11 L217.14 48.4 L217.66 47.71 L218.18 47.04 L218.7 46.39 L219.22 45.77 L219.75 45.17 L220.27 44.59 L220.79 44.03 L221.31 43.49 L221.83 42.97 L222.35 42.47 L222.88 41.98 L223.4 41.52 L223.92 41.06 L224.44 40.63 L224.96 40.21 L225.48 39.8 L226.01 39.4 L226.53 39.02 L227.05 38.65 L227.57 38.29 L228.09 37.94 L228.62 37.6 L229.14 37.27 L229.66 36.95 L230.18 36.64 L230.7 36.33 L231.22 36.03 L231.75 35.74 L232.27 35.46 L232.79 35.18 L233.31 34.91 L233.83 34.64 L234.35 34.38 L234.88 34.12 L235.4 33.87 L235.92 33.62 L236.44 33.38 L236.96 33.13 L237.49 32.9 L238.01 32.66 L238.53 32.43 L239.05 32.2 L239.57 31.97 L240.09 31.75 L240.62 31.53 L241.14 31.31 L241.66 31.09 L242.18 30.87 L242.7 30.66 L243.22 30.45 L243.75 30.24 L244.27 30.03 L244.79 29.82 L245.31 29.61 L245.83 29.41 L246.35 29.2 L246.88 29 L247.4 28.79 L247.92 28.59 L248.44 28.39 L248.96 28.19 L249.49 27.99 L250.01 27.79 L250.53 27.59 L251.05 27.4 L251.57 27.2 L252.09 27 L252.62 26.81 L253.14 26.61 L253.66 26.42 L254.18 26.22 L254.7 26.03 L255.22 25.83 L255.75 25.64 L256.27 25.45 L256.79 25.25 L257.31 25.06 L257.83 24.87 L258.36 24.68 L258.88 24.48 L259.4 24.29 L259.92 24.1 L260.44 23.91 L260.96 23.72 L261.49 23.53 L262.01 23.34 L262.53 23.15 L263.05 22.96 L263.57 22.77 L264.09 22.58 L264.62 22.39 L265.14 22.2 L265.66 22.01 L266.18 21.83 L266.7 21.64 L267.22 21.45 L267.75 21.26 L268.27 21.07 L268.79 20.89 L269.31 20.7 L269.83 20.51 L270.36 20.32 L270.88 20.14 L271.4 19.95 L271.92 19.76 L272.44 19.58 L272.96 19.39 L273.49 19.2 L274.01 19.02 L274.53 18.83 L275.05 18.64 L275.57 18.46 L276.09 18.27 L276.62 18.09 L277.14 17.9 L277.66 17.72 L278.18 17.53 L278.7 17.35 L279.23 17.16 L279.75 16.98 L280.27 16.79 L280.79 16.61 L281.31 16.42 L281.83 16.24 L282.36 16.06 L282.88 15.87 L283.4 15.69 L283.92 15.51 L284.44 15.32 L284.96 15.14 L285.49 14.96 L286.01 14.77 L286.53 14.59 L287.05 14.41 L287.57 14.23 L288.09 14.04 L288.62 13.86 L289.14 13.68 L289.66 13.5 L290.18 13.32 L290.7 13.14 L291.23 12.95 L291.75 12.77 L292.27 12.59 L292.79 12.41 L293.31 12.23 L293.83 12.05 L294.36 11.87 L294.88 11.69 L295.4 11.51 L295.92 11.33 L296.44 11.15 L296.96 10.97 L297.49 10.79 L298.01 10.61 L298.53 10.44 L299.05 10.26 L299.57 10.08 L300.1 9.9 L300.62 9.72 L301.14 9.55 L301.66 9.37 L302.18 9.19 L302.7 9.01 L303.23 8.84 L303.75 8.66 L304.27 8.48 L304.79 8.31 L305.31 8.13 L305.83 7.95 L306.36 7.78 L306.88 7.6 L307.4 7.43 L307.92 7.25 L308.44 7.08 L308.96 6.9 L309.49 6.73 L310.01 6.55 L310.53 6.38 L311.05 6.2 L311.57 6.03 L312.1 5.85 L312.62 5.68 L313.14 5.51 L313.66 5.33 L314.18 5.16 L314.7 4.99 L315.23 4.82 L315.75 4.64 L316.27 4.47 L316.79 4.3 L317.31 4.13 L317.83 3.96 L318.36 3.79 L318.88 3.61 L319.4 3.44 L319.92 3.27 L320.44 3.1 L320.97 2.93 L321.49 2.76 L322.01 2.59 L322.53 2.42 L323.05 2.25 L323.57 2.08 L324.1 1.91 L324.62 1.75 L325.14 1.58 L325.66 1.41 L326.18 1.24 L326.7 1.07 L327.23 0.91 L327.75 0.74 L328.27 0.57 L328.79 0.4 L329.31 0.24 L329.83 0.07 L330.36 -0.1 L330.88 -0.26 L331.4 -0.43 L331.92 -0.59 L332.44 -0.76 L332.97 -0.92 L333.49 -1.09 L334.01 -1.25 L334.53 -1.42 L335.05 -1.58 L335.57 -1.75 L336.1 -1.91 L336.62 -2.07 L337.14 -2.24 L337.66 -2.4 L338.18 -2.56 L338.7 -2.73 L339.23 -2.89 L339.75 -3.05 L340.27 -3.21 L340.79 -3.37 L341.31 -3.54 L341.84 -3.7 L342.36 -3.86 L342.88 -4.02 L343.4 -4.18 L343.92 -4.34 L344.44 -4.5 L344.97 -4.66 L345.49 -4.82 L346.01 -4.98 L346.53 -5.14 L347.05 -5.3 L347.57 -5.46 L348.1 -5.61 L348.62 -5.77 L349.14 -5.93 L349.66 -6.09 L350.18 -6.24 L350.7 -6.4 L351.23 -6.56 L351.75 -6.72 L352.27 -6.87 L352.79 -7.03 L353.31 -7.18 L353.84 -7.34 L354.36 -7.5 L354.88 -7.65 L355.4 -7.81 L355.92 -7.96 L356.44 -8.12 L356.97 -8.27 L357.49 -8.42 L358.01 -8.58 L358.53 -8.73 L359.05 -8.89 L359.57 -9.04 L360.1 -9.19 L360.62 -9.34 L361.14 -9.5 L361.66 -9.65 L362.18 -9.8 L362.71 -9.95 L363.23 -10.1 L363.75 -10.26 L364.27 -10.41 L364.79 -10.56 L365.31 -10.71 L365.84 -10.86 L366.36 -11.01 L366.88 -11.16 L367.4 -11.31 L367.92 -11.46 L368.44 -11.6 L368.97 -11.75 L369.49 -11.9 L370.01 -12.05 L370.53 -12.2 L371.05 -12.35 L371.57 -12.49 L372.1 -12.64 L372.62 -12.79 L373.14 -12.93 L373.14 -12.93 L372.62 -12.79 L372.1 -12.64 L371.57 -12.49 L371.05 -12.35 L370.53 -12.2 L370.01 -12.05 L369.49 -11.9 L368.97 -11.75 L368.44 -11.6 L367.92 -11.46 L367.4 -11.31 L366.88 -11.16 L366.36 -11.01 L365.84 -10.86 L365.31 -10.71 L364.79 -10.56 L364.27 -10.41 L363.75 -10.25 L363.23 -10.1 L362.71 -9.95 L362.18 -9.8 L361.66 -9.65 L361.14 -9.5 L360.62 -9.34 L360.1 -9.19 L359.57 -9.04 L359.05 -8.89 L358.53 -8.73 L358.01 -8.58 L357.49 -8.42 L356.97 -8.27 L356.44 -8.12 L355.92 -7.96 L355.4 -7.81 L354.88 -7.65 L354.36 -7.5 L353.84 -7.34 L353.31 -7.18 L352.79 -7.03 L352.27 -6.87 L351.75 -6.72 L351.23 -6.56 L350.7 -6.4 L350.18 -6.24 L349.66 -6.09 L349.14 -5.93 L348.62 -5.77 L348.1 -5.61 L347.57 -5.46 L347.05 -5.3 L346.53 -5.14 L346.01 -4.98 L345.49 -4.82 L344.97 -4.66 L344.44 -4.5 L343.92 -4.34 L343.4 -4.18 L342.88 -4.02 L342.36 -3.86 L341.84 -3.7 L341.31 -3.54 L340.79 -3.37 L340.27 -3.21 L339.75 -3.05 L339.23 -2.89 L338.7 -2.73 L338.18 -2.56 L337.66 -2.4 L337.14 -2.24 L336.62 -2.07 L336.1 -1.91 L335.57 -1.75 L335.05 -1.58 L334.53 -1.42 L334.01 -1.25 L333.49 -1.09 L332.97 -0.92 L332.44 -0.76 L331.92 -0.59 L331.4 -0.43 L330.88 -0.26 L330.36 -0.09 L329.83 0.07 L329.31 0.24 L328.79 0.4 L328.27 0.57 L327.75 0.74 L327.23 0.91 L326.7 1.07 L326.18 1.24 L325.66 1.41 L325.14 1.58 L324.62 1.75 L324.1 1.92 L323.57 2.09 L323.05 2.25 L322.53 2.42 L322.01 2.59 L321.49 2.76 L320.97 2.93 L320.44 3.1 L319.92 3.28 L319.4 3.45 L318.88 3.62 L318.36 3.79 L317.83 3.96 L317.31 4.13 L316.79 4.3 L316.27 4.48 L315.75 4.65 L315.23 4.82 L314.7 4.99 L314.18 5.17 L313.66 5.34 L313.14 5.51 L312.62 5.69 L312.1 5.86 L311.57 6.04 L311.05 6.21 L310.53 6.39 L310.01 6.56 L309.49 6.74 L308.96 6.91 L308.44 7.09 L307.92 7.26 L307.4 7.44 L306.88 7.62 L306.36 7.8 L305.83 7.97 L305.31 8.15 L304.79 8.33 L304.27 8.51 L303.75 8.68 L303.23 8.86 L302.7 9.04 L302.18 9.22 L301.66 9.4 L301.14 9.58 L300.62 9.76 L300.1 9.94 L299.57 10.12 L299.05 10.31 L298.53 10.49 L298.01 10.67 L297.49 10.85 L296.96 11.04 L296.44 11.22 L295.92 11.41 L295.4 11.59 L294.88 11.78 L294.36 11.96 L293.83 12.15 L293.31 12.34 L292.79 12.53 L292.27 12.72 L291.75 12.91 L291.23 13.1 L290.7 13.29 L290.18 13.48 L289.66 13.67 L289.14 13.87 L288.62 14.07 L288.09 14.26 L287.57 14.46 L287.05 14.66 L286.53 14.86 L286.01 15.06 L285.49 15.27 L284.96 15.47 L284.44 15.68 L283.92 15.89 L283.4 16.1 L282.88 16.32 L282.36 16.53 L281.83 16.75 L281.31 16.97 L280.79 17.2 L280.27 17.42 L279.75 17.66 L279.23 17.89 L278.7 18.13 L278.18 18.37 L277.66 18.61 L277.14 18.87 L276.62 19.12 L276.09 19.38 L275.57 19.65 L275.05 19.92 L274.53 20.2 L274.01 20.48 L273.49 20.77 L272.96 21.07 L272.44 21.38 L271.92 21.69 L271.4 22.02 L270.88 22.35 L270.36 22.69 L269.83 23.05 L269.31 23.41 L268.79 23.79 L268.27 24.18 L267.75 24.58 L267.22 25 L266.7 25.43 L266.18 25.87 L265.66 26.34 L265.14 26.82 L264.62 27.31 L264.09 27.83 L263.57 28.36 L263.05 28.92 L262.53 29.49 L262.01 30.09 L261.49 30.7 L260.96 31.34 L260.44 32.01 L259.92 32.7 L259.4 33.41 L258.88 34.14 L258.36 34.9 L257.83 35.69 L257.31 36.5 L256.79 37.33 L256.27 38.19 L255.75 39.07 L255.22 39.98 L254.7 40.91 L254.18 41.86 L253.66 42.83 L253.14 43.82 L252.62 44.83 L252.09 45.85 L251.57 46.89 L251.05 47.94 L250.53 49.01 L250.01 50.08 L249.49 51.16 L248.96 52.25 L248.44 53.33 L247.92 54.42 L247.4 55.51 L246.88 56.59 L246.35 57.66 L245.83 58.73 L245.31 59.78 L244.79 60.83 L244.27 61.85 L243.75 62.86 L243.22 63.86 L242.7 64.83 L242.18 65.78 L241.66 66.72 L241.14 67.63 L240.62 68.51 L240.09 69.37 L239.57 70.21 L239.05 71.03 L238.53 71.81 L238.01 72.58 L237.49 73.32 L236.96 74.03 L236.44 74.73 L235.92 75.39 L235.4 76.04 L234.88 76.66 L234.35 77.26 L233.83 77.84 L233.31 78.4 L232.79 78.94 L232.27 79.46 L231.75 79.96 L231.22 80.45 L230.7 80.92 L230.18 81.37 L229.66 81.8 L229.14 82.23 L228.62 82.63 L228.09 83.03 L227.57 83.41 L227.05 83.78 L226.53 84.14 L226.01 84.49 L225.48 84.83 L224.96 85.16 L224.44 85.48 L223.92 85.79 L223.4 86.1 L222.88 86.4 L222.35 86.69 L221.83 86.97 L221.31 87.25 L220.79 87.52 L220.27 87.79 L219.75 88.05 L219.22 88.31 L218.7 88.56 L218.18 88.81 L217.66 89.06 L217.14 89.3 L216.62 89.54 L216.09 89.77 L215.57 90 L215.05 90.23 L214.53 90.46 L214.01 90.68 L213.48 90.9 L212.96 91.12 L212.44 91.34 L211.92 91.56 L211.4 91.77 L210.88 91.98 L210.35 92.2 L209.83 92.41 L209.31 92.61 L208.79 92.82 L208.27 93.03 L207.75 93.23 L207.22 93.44 L206.7 93.64 L206.18 93.84 L205.66 94.04 L205.14 94.24 L204.61 94.44 L204.09 94.64 L203.57 94.84 L203.05 95.04 L202.53 95.23 L202.01 95.43 L201.48 95.63 L200.96 95.82 L200.44 96.02 L199.92 96.21 L199.4 96.41 L198.88 96.6 L198.35 96.79 L197.83 96.99 L197.31 97.18 L196.79 97.37 L196.27 97.56 L195.75 97.76 L195.22 97.95 L194.7 98.14 L194.18 98.33 L193.66 98.52 L193.14 98.71 L192.61 98.9 L192.09 99.09 L191.57 99.28 L191.05 99.47 L190.53 99.66 L190.01 99.85 L189.48 100.04 L188.96 100.23 L188.44 100.42 L187.92 100.61 L187.4 100.79 L186.88 100.98 L186.35 101.17 L185.83 101.36 L185.31 101.55 L184.79 101.73 L184.27 101.92 L183.74 102.11 L183.22 102.3 L182.7 102.48 L182.18 102.67 L181.66 102.86 L181.14 103.04 L180.61 103.23 L180.09 103.42 L179.57 103.6 L179.05 103.79 L178.53 103.97 L178.01 104.16 L177.48 104.35 L176.96 104.53 L176.44 104.72 L175.92 104.9 L175.4 105.09 L174.88 105.27 L174.35 105.46 L173.83 105.64 L173.31 105.82 L172.79 106.01 L172.27 106.19 L171.74 106.38 L171.22 106.56 L170.7 106.74 L170.18 106.93 L169.66 107.11 L169.14 107.29 L168.61 107.48 L168.09 107.66 L167.57 107.84 L167.05 108.02 L166.53 108.21 L166.01 108.39 L165.48 108.57 L164.96 108.75 L164.44 108.93 L163.92 109.12 L163.4 109.3 L162.87 109.48 L162.35 109.66 L161.83 109.84 L161.31 110.02 L160.79 110.2 L160.27 110.38 L159.74 110.56 L159.22 110.74 L158.7 110.92 L158.18 111.1 L157.66 111.28 L157.14 111.46 L156.61 111.64 L156.09 111.82 L155.57 112 L155.05 112.17 L154.53 112.35 L154 112.53 L153.48 112.71 L152.96 112.89 L152.44 113.06 L151.92 113.24 L151.4 113.42 L150.87 113.6 L150.35 113.77 L149.83 113.95 L149.31 114.13 L148.79 114.3 L148.27 114.48 L147.74 114.65 L147.22 114.83 L146.7 115.01 L146.18 115.18 L145.66 115.36 L145.14 115.53 L144.61 115.71 L144.09 115.88 L143.57 116.06 L143.05 116.23 L142.53 116.4 L142 116.58 L141.48 116.75 L140.96 116.92 L140.44 117.1 L139.92 117.27 L139.4 117.44 L138.87 117.62 L138.35 117.79 L137.83 117.96 L137.31 118.13 L136.79 118.3 L136.27 118.48 L135.74 118.65 L135.22 118.82 L134.7 118.99 L134.18 119.16 L133.66 119.33 L133.13 119.5 L132.61 119.67 L132.09 119.84 L131.57 120.01 L131.05 120.18 L130.53 120.35 L130 120.52 L129.48 120.69 L128.96 120.85 L128.44 121.02 L127.92 121.19 L127.4 121.36 L126.87 121.53 L126.35 121.69 L125.83 121.86 L125.31 122.03 L124.79 122.19 L124.27 122.36 L123.74 122.53 L123.22 122.69 L122.7 122.86 L122.18 123.03 L121.66 123.19 L121.13 123.36 L120.61 123.52 L120.09 123.69 L119.57 123.85 L119.05 124.01 L118.53 124.18 L118 124.34 L117.48 124.51 L116.96 124.67 L116.44 124.83 L115.92 124.99 L115.4 125.16 L114.87 125.32 L114.35 125.48 L113.83 125.64 L113.31 125.81 L112.79 125.97 L112.27 126.13 L111.74 126.29 L111.22 126.45 L110.7 126.61 L110.18 126.77 L109.66 126.93 L109.13 127.09 L108.61 127.25 L108.09 127.41 L107.57 127.57 L107.05 127.73 L106.53 127.89 L106 128.05 L105.48 128.2 L104.96 128.36 L104.44 128.52 L103.92 128.68 L103.4 128.83 L102.87 128.99 L102.35 129.15 L101.83 129.3 L101.31 129.46 L100.79 129.62 L100.26 129.77 L99.74 129.93 L99.22 130.08 L98.7 130.24 L98.18 130.39 L97.66 130.55 L97.13 130.7 L96.61 130.86 L96.09 131.01 L95.57 131.16 L95.05 131.32 L94.53 131.47 L94 131.62 L93.48 131.78 L92.96 131.93 L92.44 132.08 L91.92 132.23 L91.4 132.38 L90.87 132.54 L90.35 132.69 L89.83 132.84 L89.31 132.99 L88.79 133.14 L88.26 133.29 L87.74 133.44 L87.22 133.59 L86.7 133.74 L86.18 133.89 L85.66 134.04 L85.13 134.19 L84.61 134.33 L84.09 134.48 L83.57 134.63 L83.05 134.78 L82.53 134.93 L82 135.07 L81.48 135.22 L80.96 135.37" fill="none" stroke="#ff0000" stroke-width="4.6" stroke-linejoin="round" stroke-linecap="round"/>
<path d="M227.05 63.5 L227.57 63.13 L228.09 62.76 L228.62 62.39 L229.14 62.01 L229.66 61.64 L230.18 61.27 L230.7 60.9 L231.22 60.52 L231.75 60.15 L232.27 59.78 L232.79 59.41 L233.31 59.03 L233.83 58.66 L234.35 58.29 L234.88 57.91 L235.4 57.54 L235.92 57.17 L236.44 56.79 L236.96 56.42 L237.49 56.04 L238.01 55.67 L238.53 55.29 L239.05 54.91 L239.57 54.54 L240.09 54.16 L240.62 53.78 L241.14 53.4 L241.66 53.02 L242.18 52.64 L242.7 52.26 L243.22 51.88 L243.75 51.5 L244.27 51.11 L244.79 50.73 L245.31 50.34 L245.83 49.95 L246.35 49.56 L246.88 49.17 L247.4 48.78 L247.92 48.38 L248.44 47.99 L248.96 47.59 L249.49 47.19 L250.01 46.79 L250.53 46.38 L251.05 45.98 L251.57 45.57 L252.09 45.16 L252.62 44.75 L253.14 44.34 L253.66 43.93 L254.18 43.52 L254.7 43.1 L255.22 42.68 L255.75 42.27 L256.27 41.85 L256.79 41.43 L257.31 41.02 L257.83 40.6 L258.36 40.18 L258.88 39.77 L259.4 39.35 L259.92 38.94 L260.44 38.53 L260.96 38.11 L261.49 37.71 L262.01 37.3 L262.53 36.89 L263.05 36.49 L263.57 36.09 L264.09 35.7 L264.62 35.3 L265.14 34.91 L265.66 34.52 L266.18 34.14 L266.7 33.75 L267.22 33.37 L267.75 32.99 L268.27 32.62 L268.79 32.25 L269.31 31.88 L269.83 31.51 L270.36 31.15 L270.88 30.79 L271.4 30.43 L271.92 30.07 L272.44 29.72 L272.96 29.36 L273.49 29.01 L274.01 28.67 L274.53 28.32 L275.05 28.07 L275.57 27.88 L276.09 27.69 L276.62 27.49 L277.14 27.3 L277.66 27.11 L278.18 26.91 L278.7 26.72 L279.23 26.53 L279.75 26.34 L280.27 26.14 L280.79 25.95 L281.31 25.76 L281.83 25.57 L282.36 25.38 L282.88 25.18 L283.4 24.99 L283.92 24.8 L284.44 24.61 L284.96 24.42 L285.49 24.23 L286.01 24.03 L286.53 23.84 L287.05 23.65 L287.57 23.46 L288.09 23.27 L288.62 23.08 L289.14 22.89 L289.66 22.7 L290.18 22.51 L290.7 22.31 L291.23 22.12 L291.75 21.93 L292.27 21.74 L292.79 21.55 L293.31 21.36 L293.83 21.17 L294.36 20.98 L294.88 20.79 L295.4 20.6 L295.92 20.41 L296.44 20.22 L296.96 20.03 L297.49 19.84 L298.01 19.65 L298.53 19.46 L299.05 19.27 L299.57 19.08 L300.1 18.89 L300.62 18.7 L301.14 18.5 L301.66 18.31 L302.18 18.12 L302.7 17.93 L303.23 17.74 L303.75 17.55 L304.27 17.36 L304.79 17.17 L305.31 16.98 L305.83 16.79 L306.36 16.6 L306.88 16.41 L307.4 16.22 L307.92 16.03 L308.44 15.84 L308.96 15.65 L309.49 15.46 L310.01 15.27 L310.53 15.08 L311.05 14.89 L311.57 14.7 L312.1 14.51 L312.62 14.32 L313.14 14.13 L313.66 13.94 L314.18 13.75 L314.7 13.56 L315.23 13.37 L315.75 13.18 L316.27 12.99 L316.79 12.8 L317.31 12.61 L317.83 12.42 L318.36 12.23 L318.88 12.04 L319.4 11.85 L319.92 11.66 L320.44 11.47 L320.97 11.28 L321.49 11.09 L322.01 10.9 L322.53 10.71 L323.05 10.52 L323.57 10.33 L324.1 10.14 L324.62 9.95 L325.14 9.76 L325.66 9.57 L326.18 9.38 L326.7 9.19 L327.23 9 L327.75 8.81 L328.27 8.62 L328.79 8.43 L329.31 8.24 L329.83 8.06 L330.36 7.87 L330.88 7.68 L331.4 7.49 L331.92 7.3 L332.44 7.11 L332.97 6.92 L333.49 6.73 L334.01 6.54 L334.53 6.35 L335.05 6.16 L335.57 5.97 L336.1 5.78 L336.62 5.59 L337.14 5.4 L337.66 5.21 L338.18 5.02 L338.7 4.83 L339.23 4.64 L339.75 4.45 L340.27 4.26 L340.79 4.07 L341.31 3.88 L341.84 3.69 L342.36 3.5 L342.88 3.31 L343.4 3.12 L343.92 2.93 L344.44 2.74 L344.97 2.55 L345.49 2.36 L346.01 2.17 L346.53 1.98 L347.05 1.79 L347.57 1.6 L348.1 1.41 L348.62 1.22 L349.14 1.03 L349.66 0.84 L350.18 0.65 L350.7 0.46 L351.23 0.27 L351.75 0.08 L352.27 -0.11 L352.79 -0.3 L353.31 -0.49 L353.84 -0.68 L354.36 -0.87 L354.88 -1.06 L355.4 -1.25 L355.92 -1.44 L356.44 -1.63 L356.97 -1.82 L357.49 -2.01 L358.01 -2.2 L358.53 -2.39 L359.05 -2.58 L359.57 -2.77 L360.1 -2.96 L360.62 -3.15 L361.14 -3.34 L361.66 -3.53 L362.18 -3.72 L362.71 -3.91 L363.23 -4.1 L363.75 -4.29 L364.27 -4.48 L364.79 -4.67 L365.31 -4.86 L365.84 -5.05 L366.36 -5.24 L366.88 -5.43 L367.4 -5.62 L367.92 -5.81 L368.44 -5.99 L368.97 -6.18 L369.49 -6.37 L370.01 -6.56 L370.53 -6.75 L371.05 -6.94 L371.57 -7.13 L372.1 -7.32 L372.62 -7.51 L373.14 -7.7" fill="none" stroke="#0000ff" stroke-width="4.6" stroke-linejoin="round" stroke-linecap="round"/>
<path d="M80.96 134.7 L81.48 134.51 L82 134.32 L82.53 134.13 L83.05 133.94 L83.57 133.75 L84.09 133.56 L84.61 133.37 L85.13 133.18 L85.66 132.99 L86.18 132.8 L86.7 132.61 L87.22 132.42 L87.74 132.23 L88.26 132.04 L88.79 131.85 L89.31 131.67 L89.83 131.48 L90.35 131.29 L90.87 131.1 L91.4 130.91 L91.92 130.72 L92.44 130.53 L92.96 130.34 L93.48 130.15 L94 129.96 L94.53 129.77 L95.05 129.58 L95.57 129.39 L96.09 129.2 L96.61 129.01 L97.13 128.82 L97.66 128.63 L98.18 128.44 L98.7 128.25 L99.22 128.06 L99.74 127.87 L100.26 127.68 L100.79 127.49 L101.31 127.3 L101.83 127.11 L102.35 126.92 L102.87 126.73 L103.4 126.54 L103.92 126.35 L104.44 126.16 L104.96 125.97 L105.48 125.78 L106 125.59 L106.53 125.4 L107.05 125.21 L107.57 125.02 L108.09 124.83 L108.61 124.64 L109.13 124.45 L109.66 124.26 L110.18 124.07 L110.7 123.88 L111.22 123.69 L111.74 123.5 L112.27 123.31 L112.79 123.11 L113.31 122.92 L113.83 122.73 L114.35 122.54 L114.87 122.35 L115.4 122.16 L115.92 121.97 L116.44 121.78 L116.96 121.59 L117.48 121.4 L118 121.21 L118.53 121.02 L119.05 120.83 L119.57 120.64 L120.09 120.45 L120.61 120.26 L121.13 120.07 L121.66 119.88 L122.18 119.69 L122.7 119.5 L123.22 119.31 L123.74 119.12 L124.27 118.92 L124.79 118.73 L125.31 118.54 L125.83 118.35 L126.35 118.16 L126.87 117.97 L127.4 117.78 L127.92 117.59 L128.44 117.4 L128.96 117.2 L129.48 117.01 L130 116.82 L130.53 116.63 L131.05 116.44 L131.57 116.25 L132.09 116.06 L132.61 115.86 L133.13 115.67 L133.66 115.48 L134.18 115.29 L134.7 115.09 L135.22 114.9 L135.74 114.71 L136.27 114.52 L136.79 114.32 L137.31 114.13 L137.83 113.94 L138.35 113.75 L138.87 113.55 L139.4 113.36 L139.92 113.16 L140.44 112.97 L140.96 112.78 L141.48 112.58 L142 112.39 L142.53 112.19 L143.05 112 L143.57 111.8 L144.09 111.61 L144.61 111.41 L145.14 111.22 L145.66 111.02 L146.18 110.82 L146.7 110.63 L147.22 110.43 L147.74 110.23 L148.27 110.03 L148.79 109.83 L149.31 109.64 L149.83 109.44 L150.35 109.24 L150.87 109.04 L151.4 108.84 L151.92 108.63 L152.44 108.43 L152.96 108.23 L153.48 108.03 L154 107.82 L154.53 107.62 L155.05 107.42 L155.57 107.21 L156.09 107 L156.61 106.8 L157.14 106.59 L157.66 106.38 L158.18 106.17 L158.7 105.96 L159.22 105.75 L159.74 105.54 L160.27 105.32 L160.79 105.11 L161.31 104.89 L161.83 104.68 L162.35 104.46 L162.87 104.24 L163.4 104.02 L163.92 103.8 L164.44 103.57 L164.96 103.35 L165.48 103.12 L166.01 102.89 L166.53 102.66 L167.05 102.43 L167.57 102.2 L168.09 101.96 L168.61 101.73 L169.14 101.49 L169.66 101.24 L170.18 101 L170.7 100.75 L171.22 100.5 L171.74 100.25 L172.27 100 L172.79 99.74 L173.31 99.48 L173.83 99.21 L174.35 98.95 L174.88 98.68 L175.4 98.4 L175.92 98.12 L176.44 97.84 L176.96 97.56 L177.48 97.27 L178.01 96.98 L178.53 96.68 L179.05 96.38 L179.57 96.07 L180.09 95.76 L180.61 95.44 L181.14 95.12 L181.66 94.8 L182.18 94.47 L182.7 94.13 L183.22 93.79 L183.74 93.44 L184.27 93.09 L184.79 92.73 L185.31 92.36 L185.83 91.99 L186.35 91.61 L186.88 91.22 L187.4 90.83 L187.92 90.43 L188.44 90.02 L188.96 89.61 L189.48 89.19 L190.01 88.76 L190.53 88.33 L191.05 87.88 L191.57 87.43 L192.09 86.97 L192.61 86.51 L193.14 86.04 L193.66 85.56 L194.18 85.07 L194.7 84.57 L195.22 84.07 L195.75 83.56 L196.27 83.04 L196.79 82.51 L197.31 81.98 L197.83 81.44 L198.35 80.9 L198.88 80.35 L199.4 79.79 L199.92 79.22 L200.44 78.65 L200.96 78.08 L201.48 77.5 L202.01 76.91 L202.53 76.32 L203.05 75.73 L203.57 75.13 L204.09 74.53 L204.61 73.93 L205.14 73.32 L205.66 72.71 L206.18 72.11 L206.7 71.49 L207.22 70.88 L207.75 70.27 L208.27 69.66 L208.79 69.05 L209.31 68.44 L209.83 67.83 L210.35 67.23 L210.88 66.63 L211.4 66.02 L211.92 65.43 L212.44 64.84 L212.96 64.25 L213.48 63.66 L214.01 63.08 L214.53 62.51 L215.05 61.94 L215.57 61.38 L216.09 60.82 L216.62 60.27 L217.14 59.72 L217.66 59.19 L218.18 58.66 L218.7 58.13 L219.22 57.62 L219.75 57.11 L220.27 56.61 L220.79 56.11 L221.31 55.63 L221.83 55.15 L222.35 54.67 L222.88 54.21 L223.4 53.75 L223.92 53.31 L224.44 52.86 L224.96 52.43 L225.48 52 L226.01 51.58 L226.53 51.17 L227.05 50.77 L227.57 50.37 L228.09 49.98 L228.62 49.59 L229.14 49.22 L229.66 48.84 L230.18 48.48 L230.7 48.12 L231.22 47.77 L231.75 47.42 L232.27 47.08 L232.79 46.74 L233.31 46.41 L233.83 46.09 L234.35 45.77 L234.88 45.45 L235.4 45.14 L235.92 44.84 L236.44 44.54 L236.96 44.24 L237.49 43.95 L238.01 43.66 L238.53 43.38 L239.05 43.1 L239.57 42.82 L240.09 42.55 L240.62 42.28 L241.14 42.01 L241.66 41.75 L242.18 41.49 L242.7 41.23 L243.22 40.98 L243.75 40.72 L244.27 40.48 L244.79 40.23 L245.31 39.99 L245.83 39.74 L246.35 39.5 L246.88 39.27 L247.4 39.03 L247.92 38.8 L248.44 38.57 L248.96 38.34 L249.49 38.11 L250.01 37.88 L250.53 37.66 L251.05 37.43 L251.57 37.21 L252.09 36.99 L252.62 36.77 L253.14 36.56 L253.66 36.34 L254.18 36.12 L254.7 35.91 L255.22 35.7 L255.75 35.48 L256.27 35.27 L256.79 35.06 L257.31 34.85 L257.83 34.65 L258.36 34.44 L258.88 34.23 L259.4 34.03 L259.92 33.82 L260.44 33.62 L260.96 33.41 L261.49 33.21 L262.01 33.01 L262.53 32.8 L263.05 32.6 L263.57 32.4 L264.09 32.2 L264.62 32 L265.14 31.8 L265.66 31.6 L266.18 31.4 L266.7 31.2 L267.22 31.01 L267.75 30.81 L268.27 30.61 L268.79 30.42 L269.31 30.22 L269.83 30.02 L270.36 29.83 L270.88 29.63 L271.4 29.44 L271.92 29.24 L272.44 29.05 L272.96 28.85 L273.49 28.66 L274.01 28.46 L274.53 28.27 L275.05 28.07 L275.57 27.88 L276.09 27.69 L276.62 27.49 L277.14 27.3 L277.66 27.11 L278.18 26.91 L278.7 26.72 L279.23 26.53 L279.75 26.34 L280.27 26.14 L280.79 25.95 L281.31 25.76 L281.83 25.57 L282.36 25.38 L282.88 25.18 L283.4 24.99 L283.92 24.8 L284.44 24.61 L284.96 24.42 L285.49 24.23 L286.01 24.03 L286.53 23.84 L287.05 23.65 L287.57 23.46 L288.09 23.27 L288.62 23.08 L289.14 22.89 L289.66 22.7 L290.18 22.51 L290.7 22.31 L291.23 22.12 L291.75 21.93 L292.27 21.74 L292.79 21.55 L293.31 21.36 L293.83 21.17 L294.36 20.98 L294.88 20.79 L295.4 20.6 L295.92 20.41 L296.44 20.22 L296.96 20.03 L297.49 19.84 L298.01 19.65 L298.53 19.46 L299.05 19.27 L299.57 19.08 L300.1 18.89 L300.62 18.7 L301.14 18.5 L301.66 18.31 L302.18 18.12 L302.7 17.93 L303.23 17.74 L303.75 17.55 L304.27 17.36 L304.79 17.17 L305.31 16.98 L305.83 16.79 L306.36 16.6 L306.88 16.41 L307.4 16.22 L307.92 16.03 L308.44 15.84 L308.96 15.65 L309.49 15.46 L310.01 15.27 L310.53 15.08 L311.05 14.89 L311.57 14.7 L312.1 14.51 L312.62 14.32 L313.14 14.13 L313.66 13.94 L314.18 13.75 L314.7 13.56 L315.23 13.37 L315.75 13.18 L316.27 12.99 L316.79 12.8 L317.31 12.61 L317.83 12.42 L318.36 12.23 L318.88 12.04 L319.4 11.85 L319.92 11.66 L320.44 11.47 L320.97 11.28 L321.49 11.09 L322.01 10.9 L322.53 10.71 L323.05 10.52 L323.57 10.33 L324.1 10.14 L324.62 9.95 L325.14 9.76 L325.66 9.57 L326.18 9.38 L326.7 9.19 L327.23 9 L327.75 8.81 L328.27 8.62 L328.79 8.43 L329.31 8.24 L329.83 8.06 L330.36 7.87 L330.88 7.68 L331.4 7.49 L331.92 7.3 L332.44 7.11 L332.97 6.92 L333.49 6.73 L334.01 6.54 L334.53 6.35 L335.05 6.16 L335.57 5.97 L336.1 5.78 L336.62 5.59 L337.14 5.4 L337.66 5.21 L338.18 5.02 L338.7 4.83 L339.23 4.64 L339.75 4.45 L340.27 4.26 L340.79 4.07 L341.31 3.88 L341.84 3.69 L342.36 3.5 L342.88 3.31 L343.4 3.12 L343.92 2.93 L344.44 2.74 L344.97 2.55 L345.49 2.36 L346.01 2.17 L346.53 1.98 L347.05 1.79 L347.57 1.6 L348.1 1.41 L348.62 1.22 L349.14 1.03 L349.66 0.84 L350.18 0.65 L350.7 0.46 L351.23 0.27 L351.75 0.08 L352.27 -0.11 L352.79 -0.3 L353.31 -0.49 L353.84 -0.68 L354.36 -0.87 L354.88 -1.06 L355.4 -1.25 L355.92 -1.44 L356.44 -1.63 L356.97 -1.82 L357.49 -2.01 L358.01 -2.2 L358.53 -2.39 L359.05 -2.58 L359.57 -2.77 L360.1 -2.96 L360.62 -3.15 L361.14 -3.34 L361.66 -3.53 L362.18 -3.72 L362.71 -3.91 L363.23 -4.1 L363.75 -4.29 L364.27 -4.48 L364.79 -4.67 L365.31 -4.86 L365.84 -5.05 L366.36 -5.24 L366.88 -5.43 L367.4 -5.62 L367.92 -5.81 L368.44 -5.99 L368.97 -6.18 L369.49 -6.37 L370.01 -6.56 L370.53 -6.75 L371.05 -6.94 L371.57 -7.13 L372.1 -7.32 L372.62 -7.51 L373.14 -7.7 L373.14 -7.7 L372.62 -7.51 L372.1 -7.32 L371.57 -7.13 L371.05 -6.94 L370.53 -6.75 L370.01 -6.56 L369.49 -6.37 L368.97 -6.18 L368.44 -5.99 L367.92 -5.8 L367.4 -5.61 L366.88 -5.42 L366.36 -5.23 L365.84 -5.04 L365.31 -4.85 L364.79 -4.67 L364.27 -4.48 L363.75 -4.29 L363.23 -4.1 L362.71 -3.91 L362.18 -3.72 L361.66 -3.53 L361.14 -3.34 L360.62 -3.15 L360.1 -2.96 L359.57 -2.77 L359.05 -2.58 L358.53 -2.39 L358.01 -2.2 L357.49 -2.01 L356.97 -1.82 L356.44 -1.63 L355.92 -1.44 L355.4 -1.25 L354.88 -1.06 L354.36 -0.87 L353.84 -0.68 L353.31 -0.49 L352.79 -0.3 L352.27 -0.11 L351.75 0.08 L351.23 0.27 L350.7 0.46 L350.18 0.65 L349.66 0.84 L349.14 1.03 L348.62 1.22 L348.1 1.41 L347.57 1.6 L347.05 1.79 L346.53 1.98 L346.01 2.17 L345.49 2.36 L344.97 2.55 L344.44 2.74 L343.92 2.93 L343.4 3.12 L342.88 3.31 L342.36 3.5 L341.84 3.69 L341.31 3.89 L340.79 4.08 L340.27 4.27 L339.75 4.46 L339.23 4.65 L338.7 4.84 L338.18 5.03 L337.66 5.22 L337.14 5.41 L336.62 5.6 L336.1 5.79 L335.57 5.98 L335.05 6.17 L334.53 6.36 L334.01 6.55 L333.49 6.74 L332.97 6.93 L332.44 7.12 L331.92 7.31 L331.4 7.5 L330.88 7.69 L330.36 7.88 L329.83 8.08 L329.31 8.27 L328.79 8.46 L328.27 8.65 L327.75 8.84 L327.23 9.03 L326.7 9.22 L326.18 9.41 L325.66 9.6 L325.14 9.8 L324.62 9.99 L324.1 10.18 L323.57 10.37 L323.05 10.56 L322.53 10.75 L322.01 10.94 L321.49 11.14 L320.97 11.33 L320.44 11.52 L319.92 11.71 L319.4 11.91 L318.88 12.1 L318.36 12.29 L317.83 12.48 L317.31 12.68 L316.79 12.87 L316.27 13.06 L315.75 13.25 L315.23 13.45 L314.7 13.64 L314.18 13.84 L313.66 14.03 L313.14 14.22 L312.62 14.42 L312.1 14.61 L311.57 14.81 L311.05 15 L310.53 15.2 L310.01 15.39 L309.49 15.59 L308.96 15.78 L308.44 15.98 L307.92 16.18 L307.4 16.37 L306.88 16.57 L306.36 16.77 L305.83 16.97 L305.31 17.17 L304.79 17.36 L304.27 17.56 L303.75 17.76 L303.23 17.96 L302.7 18.16 L302.18 18.37 L301.66 18.57 L301.14 18.77 L300.62 18.97 L300.1 19.18 L299.57 19.38 L299.05 19.58 L298.53 19.79 L298.01 20 L297.49 20.2 L296.96 20.41 L296.44 20.62 L295.92 20.83 L295.4 21.04 L294.88 21.25 L294.36 21.46 L293.83 21.68 L293.31 21.89 L292.79 22.11 L292.27 22.32 L291.75 22.54 L291.23 22.76 L290.7 22.98 L290.18 23.2 L289.66 23.43 L289.14 23.65 L288.62 23.88 L288.09 24.11 L287.57 24.34 L287.05 24.57 L286.53 24.8 L286.01 25.04 L285.49 25.27 L284.96 25.51 L284.44 25.76 L283.92 26 L283.4 26.25 L282.88 26.5 L282.36 26.75 L281.83 27 L281.31 27.26 L280.79 27.52 L280.27 27.79 L279.75 28.05 L279.23 28.32 L278.7 28.6 L278.18 28.88 L277.66 29.16 L277.14 29.44 L276.62 29.73 L276.09 30.02 L275.57 30.32 L275.05 30.62 L274.53 30.93 L274.01 31.24 L273.49 31.56 L272.96 31.88 L272.44 32.2 L271.92 32.53 L271.4 32.87 L270.88 33.21 L270.36 33.56 L269.83 33.91 L269.31 34.27 L268.79 34.64 L268.27 35.01 L267.75 35.39 L267.22 35.78 L266.7 36.17 L266.18 36.57 L265.66 36.98 L265.14 37.39 L264.62 37.81 L264.09 38.24 L263.57 38.67 L263.05 39.12 L262.53 39.57 L262.01 40.03 L261.49 40.49 L260.96 40.96 L260.44 41.44 L259.92 41.93 L259.4 42.43 L258.88 42.93 L258.36 43.44 L257.83 43.96 L257.31 44.49 L256.79 45.02 L256.27 45.56 L255.75 46.1 L255.22 46.65 L254.7 47.21 L254.18 47.78 L253.66 48.35 L253.14 48.92 L252.62 49.5 L252.09 50.09 L251.57 50.68 L251.05 51.27 L250.53 51.87 L250.01 52.47 L249.49 53.07 L248.96 53.68 L248.44 54.29 L247.92 54.89 L247.4 55.51 L246.88 56.12 L246.35 56.73 L245.83 57.34 L245.31 57.95 L244.79 58.56 L244.27 59.17 L243.75 59.77 L243.22 60.37 L242.7 60.98 L242.18 61.57 L241.66 62.16 L241.14 62.75 L240.62 63.34 L240.09 63.92 L239.57 64.49 L239.05 65.06 L238.53 65.62 L238.01 66.18 L237.49 66.73 L236.96 67.28 L236.44 67.81 L235.92 68.34 L235.4 68.87 L234.88 69.38 L234.35 69.89 L233.83 70.39 L233.31 70.89 L232.79 71.37 L232.27 71.85 L231.75 72.33 L231.22 72.79 L230.7 73.25 L230.18 73.69 L229.66 74.14 L229.14 74.57 L228.62 75 L228.09 75.42 L227.57 75.83 L227.05 76.23 L226.53 76.63 L226.01 77.02 L225.48 77.41 L224.96 77.78 L224.44 78.16 L223.92 78.52 L223.4 78.88 L222.88 79.23 L222.35 79.58 L221.83 79.92 L221.31 80.26 L220.79 80.59 L220.27 80.91 L219.75 81.23 L219.22 81.55 L218.7 81.86 L218.18 82.16 L217.66 82.46 L217.14 82.76 L216.62 83.05 L216.09 83.34 L215.57 83.62 L215.05 83.9 L214.53 84.18 L214.01 84.45 L213.48 84.72 L212.96 84.99 L212.44 85.25 L211.92 85.51 L211.4 85.77 L210.88 86.02 L210.35 86.28 L209.83 86.52 L209.31 86.77 L208.79 87.01 L208.27 87.26 L207.75 87.5 L207.22 87.73 L206.7 87.97 L206.18 88.2 L205.66 88.43 L205.14 88.66 L204.61 88.89 L204.09 89.12 L203.57 89.34 L203.05 89.57 L202.53 89.79 L202.01 90.01 L201.48 90.23 L200.96 90.44 L200.44 90.66 L199.92 90.88 L199.4 91.09 L198.88 91.3 L198.35 91.52 L197.83 91.73 L197.31 91.94 L196.79 92.15 L196.27 92.35 L195.75 92.56 L195.22 92.77 L194.7 92.97 L194.18 93.18 L193.66 93.38 L193.14 93.59 L192.61 93.79 L192.09 93.99 L191.57 94.2 L191.05 94.4 L190.53 94.6 L190.01 94.8 L189.48 95 L188.96 95.2 L188.44 95.4 L187.92 95.6 L187.4 95.8 L186.88 95.99 L186.35 96.19 L185.83 96.39 L185.31 96.58 L184.79 96.78 L184.27 96.98 L183.74 97.17 L183.22 97.37 L182.7 97.56 L182.18 97.76 L181.66 97.95 L181.14 98.15 L180.61 98.34 L180.09 98.54 L179.57 98.73 L179.05 98.93 L178.53 99.12 L178.01 99.31 L177.48 99.51 L176.96 99.7 L176.44 99.89 L175.92 100.09 L175.4 100.28 L174.88 100.47 L174.35 100.66 L173.83 100.86 L173.31 101.05 L172.79 101.24 L172.27 101.43 L171.74 101.62 L171.22 101.82 L170.7 102.01 L170.18 102.2 L169.66 102.39 L169.14 102.58 L168.61 102.77 L168.09 102.97 L167.57 103.16 L167.05 103.35 L166.53 103.54 L166.01 103.73 L165.48 103.92 L164.96 104.11 L164.44 104.3 L163.92 104.49 L163.4 104.69 L162.87 104.88 L162.35 105.07 L161.83 105.26 L161.31 105.45 L160.79 105.64 L160.27 105.83 L159.74 106.02 L159.22 106.21 L158.7 106.4 L158.18 106.59 L157.66 106.78 L157.14 106.97 L156.61 107.16 L156.09 107.35 L155.57 107.54 L155.05 107.73 L154.53 107.92 L154 108.11 L153.48 108.3 L152.96 108.5 L152.44 108.69 L151.92 108.88 L151.4 109.07 L150.87 109.26 L150.35 109.45 L149.83 109.64 L149.31 109.83 L148.79 110.02 L148.27 110.21 L147.74 110.4 L147.22 110.59 L146.7 110.78 L146.18 110.97 L145.66 111.16 L145.14 111.35 L144.61 111.54 L144.09 111.73 L143.57 111.92 L143.05 112.11 L142.53 112.3 L142 112.49 L141.48 112.68 L140.96 112.87 L140.44 113.06 L139.92 113.25 L139.4 113.44 L138.87 113.63 L138.35 113.82 L137.83 114.01 L137.31 114.2 L136.79 114.39 L136.27 114.58 L135.74 114.77 L135.22 114.96 L134.7 115.15 L134.18 115.34 L133.66 115.53 L133.13 115.72 L132.61 115.91 L132.09 116.1 L131.57 116.29 L131.05 116.48 L130.53 116.67 L130 116.86 L129.48 117.05 L128.96 117.24 L128.44 117.43 L127.92 117.62 L127.4 117.81 L126.87 118 L126.35 118.19 L125.83 118.38 L125.31 118.57 L124.79 118.76 L124.27 118.94 L123.74 119.13 L123.22 119.32 L122.7 119.51 L122.18 119.7 L121.66 119.89 L121.13 120.08 L120.61 120.27 L120.09 120.46 L119.57 120.65 L119.05 120.84 L118.53 121.03 L118 121.22 L117.48 121.41 L116.96 121.6 L116.44 121.79 L115.92 121.98 L115.4 122.17 L114.87 122.36 L114.35 122.55 L113.83 122.74 L113.31 122.93 L112.79 123.12 L112.27 123.31 L111.74 123.5 L111.22 123.69 L110.7 123.88 L110.18 124.07 L109.66 124.26 L109.13 124.45 L108.61 124.64 L108.09 124.83 L107.57 125.02 L107.05 125.21 L106.53 125.4 L106 125.59 L105.48 125.78 L104.96 125.97 L104.44 126.16 L103.92 126.35 L103.4 126.54 L102.87 126.73 L102.35 126.92 L101.83 127.11 L101.31 127.3 L100.79 127.49 L100.26 127.68 L99.74 127.87 L99.22 128.06 L98.7 128.25 L98.18 128.44 L97.66 128.63 L97.13 128.82 L96.61 129.01 L96.09 129.2 L95.57 129.39 L95.05 129.58 L94.53 129.77 L94 129.96 L93.48 130.15 L92.96 130.34 L92.44 130.53 L91.92 130.72 L91.4 130.91 L90.87 131.1 L90.35 131.29 L89.83 131.48 L89.31 131.67 L88.79 131.86 L88.26 132.05 L87.74 132.24 L87.22 132.43 L86.7 132.62 L86.18 132.81 L85.66 132.99 L85.13 133.18 L84.61 133.37 L84.09 133.56 L83.57 133.75 L83.05 133.94 L82.53 134.13 L82 134.32 L81.48 134.51 L80.96 134.7" fill="none" stroke="#0000ff" stroke-width="4.6" stroke-linejoin="round" stroke-linecap="round"/>
<path d="M80.96 158.86 L81.48 158.68 L82 158.5 L82.53 158.32 L83.05 158.14 L83.57 157.96 L84.09 157.78 L84.61 157.6 L85.13 157.42 L85.66 157.23 L86.18 157.05 L86.7 156.87 L87.22 156.69 L87.74 156.51 L88.26 156.32 L88.79 156.14 L89.31 155.96 L89.83 155.77 L90.35 155.59 L90.87 155.41 L91.4 155.22 L91.92 155.04 L92.44 154.85 L92.96 154.67 L93.48 154.48 L94 154.3 L94.53 154.11 L95.05 153.93 L95.57 153.74 L96.09 153.55 L96.61 153.37 L97.13 153.18 L97.66 152.99 L98.18 152.81 L98.7 152.62 L99.22 152.43 L99.74 152.24 L100.26 152.05 L100.79 151.86 L101.31 151.67 L101.83 151.48 L102.35 151.29 L102.87 151.1 L103.4 150.91 L103.92 150.72 L104.44 150.53 L104.96 150.34 L105.48 150.14 L106 149.95 L106.53 149.76 L107.05 149.56 L107.57 149.37 L108.09 149.17 L108.61 148.98 L109.13 148.78 L109.66 148.59 L110.18 148.39 L110.7 148.19 L111.22 147.99 L111.74 147.8 L112.27 147.6 L112.79 147.4 L113.31 147.2 L113.83 147 L114.35 146.8 L114.87 146.6 L115.4 146.4 L115.92 146.19 L116.44 145.99 L116.96 145.79 L117.48 145.58 L118 145.38 L118.53 145.17 L119.05 144.97 L119.57 144.76 L120.09 144.55 L120.61 144.34 L121.13 144.13 L121.66 143.92 L122.18 143.71 L122.7 143.5 L123.22 143.29 L123.74 143.08 L124.27 142.87 L124.79 142.65 L125.31 142.44 L125.83 142.22 L126.35 142 L126.87 141.79 L127.4 141.57 L127.92 141.35 L128.44 141.13 L128.96 140.91 L129.48 140.69 L130 140.46 L130.53 140.24 L131.05 140.02 L131.57 139.79 L132.09 139.56 L132.61 139.34 L133.13 139.11 L133.66 138.88 L134.18 138.65 L134.7 138.42 L135.22 138.18 L135.74 137.95 L136.27 137.72 L136.79 137.48 L137.31 137.24 L137.83 137 L138.35 136.76 L138.87 136.52 L139.4 136.28 L139.92 136.04 L140.44 135.79 L140.96 135.55 L141.48 135.3 L142 135.05 L142.53 134.8 L143.05 134.55 L143.57 134.3 L144.09 134.04 L144.61 133.79 L145.14 133.53 L145.66 133.27 L146.18 133.01 L146.7 132.75 L147.22 132.48 L147.74 132.22 L148.27 131.95 L148.79 131.68 L149.31 131.41 L149.83 131.14 L150.35 130.87 L150.87 130.59 L151.4 130.32 L151.92 130.04 L152.44 129.76 L152.96 129.48 L153.48 129.19 L154 128.91 L154.53 128.62 L155.05 128.33 L155.57 128.04 L156.09 127.75 L156.61 127.45 L157.14 127.15 L157.66 126.85 L158.18 126.55 L158.7 126.25 L159.22 125.94 L159.74 125.63 L160.27 125.32 L160.79 125.01 L161.31 124.7 L161.83 124.38 L162.35 124.06 L162.87 123.74 L163.4 123.42 L163.92 123.09 L164.44 122.76 L164.96 122.43 L165.48 122.1 L166.01 121.76 L166.53 121.43 L167.05 121.09 L167.57 120.74 L168.09 120.4 L168.61 120.05 L169.14 119.7 L169.66 119.35 L170.18 118.99 L170.7 118.63 L171.22 118.27 L171.74 117.91 L172.27 117.54 L172.79 117.17 L173.31 116.8 L173.83 116.42 L174.35 116.05 L174.88 115.67 L175.4 115.28 L175.92 114.9 L176.44 114.51 L176.96 114.12 L177.48 113.73 L178.01 113.33 L178.53 112.93 L179.05 112.53 L179.57 112.12 L180.09 111.71 L180.61 111.3 L181.14 110.88 L181.66 110.47 L182.18 110.05 L182.7 109.62 L183.22 109.2 L183.74 108.77 L184.27 108.34 L184.79 107.9 L185.31 107.46 L185.83 107.02 L186.35 106.58 L186.88 106.13 L187.4 105.68 L187.92 105.23 L188.44 104.77 L188.96 104.32 L189.48 103.85 L190.01 103.39 L190.53 102.92 L191.05 102.45 L191.57 101.98 L192.09 101.5 L192.61 101.02 L193.14 100.54 L193.66 100.06 L194.18 99.57 L194.7 99.08 L195.22 98.59 L195.75 98.09 L196.27 97.59 L196.79 97.09 L197.31 96.59 L197.83 96.08 L198.35 95.58 L198.88 95.06 L199.4 94.55 L199.92 94.03 L200.44 93.52 L200.96 92.99 L201.48 92.47 L202.01 91.94 L202.53 91.41 L203.05 90.88 L203.57 90.35 L204.09 89.81 L204.61 89.28 L205.14 88.74 L205.66 88.19 L206.18 87.65 L206.7 87.1 L207.22 86.55 L207.75 86 L208.27 85.45 L208.79 84.89 L209.31 84.33 L209.83 83.77 L210.35 83.21 L210.88 82.65 L211.4 82.08 L211.92 81.51 L212.44 80.94 L212.96 80.37 L213.48 79.8 L214.01 79.22 L214.53 78.65 L215.05 78.07 L215.57 77.48 L216.09 76.9 L216.62 76.31 L217.14 75.73 L217.66 75.14 L218.18 74.55 L218.7 73.95 L219.22 73.36 L219.75 72.76 L220.27 72.15 L220.79 71.53 L221.31 70.9 L221.83 70.23 L222.35 69.49 L222.88 68.63 L223.4 67.54 L223.92 66.09 L224.44 64.07 L224.96 61.41 L225.48 58.27 L226.01 55.14 L226.53 52.48 L227.05 50.47 L227.57 49.01 L228.09 47.93 L228.62 47.08 L229.14 46.34 L229.66 45.68 L230.18 45.05 L230.7 44.44 L231.22 43.85 L231.75 43.26 L232.27 42.68 L232.79 42.1 L233.31 41.52 L233.83 40.95 L234.35 40.38 L234.88 39.82 L235.4 39.26 L235.92 38.7 L236.44 38.15 L236.96 37.6 L237.49 37.05 L238.01 36.51 L238.53 35.97 L239.05 35.43 L239.57 34.9 L240.09 34.37 L240.62 33.85 L241.14 33.33 L241.66 32.81 L242.18 32.3 L242.7 31.79 L243.22 31.28 L243.75 30.78 L244.27 30.28 L244.79 29.79 L245.31 29.3 L245.83 28.81 L246.35 28.32 L246.88 27.84 L247.4 27.36 L247.92 26.89 L248.44 26.41 L248.96 25.95 L249.49 25.48 L250.01 25.02 L250.53 24.56 L251.05 24.11 L251.57 23.65 L252.09 23.2 L252.62 22.76 L253.14 22.32 L253.66 21.88 L254.18 21.44 L254.7 21.01 L255.22 20.58 L255.75 20.15 L256.27 19.73 L256.79 19.31 L257.31 18.89 L257.83 18.47 L258.36 18.06 L258.88 17.65 L259.4 17.25 L259.92 16.85 L260.44 16.45 L260.96 16.05 L261.49 15.66 L262.01 15.27 L262.53 14.88 L263.05 14.49 L263.57 14.11 L264.09 13.73 L264.62 13.35 L265.14 12.98 L265.66 12.61 L266.18 12.24 L266.7 11.87 L267.22 11.51 L267.75 11.15 L268.27 10.79 L268.79 10.44 L269.31 10.09 L269.83 9.74 L270.36 9.39 L270.88 9.05 L271.4 8.7 L271.92 8.36 L272.44 8.03 L272.96 7.69 L273.49 7.36 L274.01 7.03 L274.53 6.7 L275.05 6.38 L275.57 6.05 L276.09 5.73 L276.62 5.42 L277.14 5.1 L277.66 4.79 L278.18 4.48 L278.7 4.17 L279.23 3.86 L279.75 3.55 L280.27 3.25 L280.79 2.95 L281.31 2.65 L281.83 2.36 L282.36 2.06 L282.88 1.77 L283.4 1.48 L283.92 1.19 L284.44 0.9 L284.96 0.62 L285.49 0.33 L286.01 0.05 L286.53 -0.23 L287.05 -0.51 L287.57 -0.78 L288.09 -1.06 L288.62 -1.33 L289.14 -1.6 L289.66 -1.87 L290.18 -2.14 L290.7 -2.4 L291.23 -2.67 L291.75 -2.93 L292.27 -3.19 L292.79 -3.45 L293.31 -3.71 L293.83 -3.96 L294.36 -4.22 L294.88 -4.47 L295.4 -4.73 L295.92 -4.98 L296.44 -5.23 L296.96 -5.47 L297.49 -5.72 L298.01 -5.97 L298.53 -6.21 L299.05 -6.45 L299.57 -6.7 L300.1 -6.94 L300.62 -7.18 L301.14 -7.41 L301.66 -7.65 L302.18 -7.89 L302.7 -8.12 L303.23 -8.35 L303.75 -8.59 L304.27 -8.82 L304.79 -9.05 L305.31 -9.28 L305.83 -9.5 L306.36 -9.73 L306.88 -9.96 L307.4 -10.18 L307.92 -10.41 L308.44 -10.63 L308.96 -10.85 L309.49 -11.07 L310.01 -11.29 L310.53 -11.51 L311.05 -11.73 L311.57 -11.95 L312.1 -12.17 L312.62 -12.38 L313.14 -12.6 L313.66 -12.81 L314.18 -13.03 L314.7 -13.24 L315.23 -13.45 L315.75 -13.66 L316.27 -13.87 L316.79 -14.08 L317.31 -14.29 L317.83 -14.5 L318.36 -14.71 L318.88 -14.92 L319.4 -15.12 L319.92 -15.33 L320.44 -15.54 L320.97 -15.74 L321.49 -15.94 L322.01 -16.15 L322.53 -16.35 L323.05 -16.55 L323.57 -16.75 L324.1 -16.96 L324.62 -17.16 L325.14 -17.36 L325.66 -17.56 L326.18 -17.75 L326.7 -17.95 L327.23 -18.15 L327.75 -18.35 L328.27 -18.54 L328.79 -18.74 L329.31 -18.94 L329.83 -19.13 L330.36 -19.33 L330.88 -19.52 L331.4 -19.72 L331.92 -19.91 L332.44 -20.1 L332.97 -20.3 L333.49 -20.49 L334.01 -20.68 L334.53 -20.87 L335.05 -21.06 L335.57 -21.25 L336.1 -21.45 L336.62 -21.64 L337.14 -21.83 L337.66 -22.02 L338.18 -22.2 L338.7 -22.39 L339.23 -22.58 L339.75 -22.77 L340.27 -22.96 L340.79 -23.15 L341.31 -23.33 L341.84 -23.52 L342.36 -23.71 L342.88 -23.89 L343.4 -24.08 L343.92 -24.26 L344.44 -24.45 L344.97 -24.63 L345.49 -24.82 L346.01 -25 L346.53 -25.19 L347.05 -25.37 L347.57 -25.56 L348.1 -25.74 L348.62 -25.92 L349.14 -26.11 L349.66 -26.29 L350.18 -26.47 L350.7 -26.66 L351.23 -26.84 L351.75 -27.02 L352.27 -27.2 L352.79 -27.38 L353.31 -27.57 L353.84 -27.75 L354.36 -27.93 L354.88 -28.11 L355.4 -28.29 L355.92 -28.47 L356.44 -28.65 L356.97 -28.83 L357.49 -29.01 L358.01 -29.19 L358.53 -29.37 L359.05 -29.55 L359.57 -29.73 L360.1 -29.91 L360.62 -30.09 L361.14 -30.27 L361.66 -30.45 L362.18 -30.62 L362.71 -30.8 L363.23 -30.98 L363.75 -31.16 L364.27 -31.34 L364.79 -31.52 L365.31 -31.69 L365.84 -31.87 L366.36 -32.05 L366.88 -32.23 L367.4 -32.4 L367.92 -32.58 L368.44 -32.76 L368.97 -32.94 L369.49 -33.11 L370.01 -33.29 L370.53 -33.47 L371.05 -33.64 L371.57 -33.82 L372.1 -34 L372.62 -34.17 L373.14 -34.35 L373.14 -34.15 L372.62 -33.97 L372.1 -33.79 L371.57 -33.61 L371.05 -33.43 L370.53 -33.24 L370.01 -33.06 L369.49 -32.88 L368.97 -32.7 L368.44 -32.52 L367.92 -32.34 L367.4 -32.16 L366.88 -31.97 L366.36 -31.79 L365.84 -31.61 L365.31 -31.42 L364.79 -31.24 L364.27 -31.06 L363.75 -30.87 L363.23 -30.69 L362.71 -30.51 L362.18 -30.32 L361.66 -30.14 L361.14 -29.95 L360.62 -29.77 L360.1 -29.58 L359.57 -29.4 L359.05 -29.21 L358.53 -29.03 L358.01 -28.84 L357.49 -28.65 L356.97 -28.47 L356.44 -28.28 L355.92 -28.09 L355.4 -27.9 L354.88 -27.71 L354.36 -27.53 L353.84 -27.34 L353.31 -27.15 L352.79 -26.96 L352.27 -26.77 L351.75 -26.58 L351.23 -26.39 L350.7 -26.2 L350.18 -26 L349.66 -25.81 L349.14 -25.62 L348.62 -25.43 L348.1 -25.23 L347.57 -25.04 L347.05 -24.85 L346.53 -24.65 L346.01 -24.46 L345.49 -24.26 L344.97 -24.07 L344.44 -23.87 L343.92 -23.67 L343.4 -23.48 L342.88 -23.28 L342.36 -23.08 L341.84 -22.88 L341.31 -22.68 L340.79 -22.48 L340.27 -22.28 L339.75 -22.08 L339.23 -21.88 L338.7 -21.68 L338.18 -21.48 L337.66 -21.27 L337.14 -21.07 L336.62 -20.87 L336.1 -20.66 L335.57 -20.46 L335.05 -20.25 L334.53 -20.04 L334.01 -19.83 L333.49 -19.63 L332.97 -19.42 L332.44 -19.21 L331.92 -19 L331.4 -18.79 L330.88 -18.58 L330.36 -18.36 L329.83 -18.15 L329.31 -17.94 L328.79 -17.72 L328.27 -17.5 L327.75 -17.29 L327.23 -17.07 L326.7 -16.85 L326.18 -16.63 L325.66 -16.41 L325.14 -16.19 L324.62 -15.97 L324.1 -15.75 L323.57 -15.53 L323.05 -15.3 L322.53 -15.08 L322.01 -14.85 L321.49 -14.62 L320.97 -14.39 L320.44 -14.16 L319.92 -13.93 L319.4 -13.7 L318.88 -13.47 L318.36 -13.23 L317.83 -13 L317.31 -12.76 L316.79 -12.53 L316.27 -12.29 L315.75 -12.05 L315.23 -11.81 L314.7 -11.56 L314.18 -11.32 L313.66 -11.08 L313.14 -10.83 L312.62 -10.58 L312.1 -10.33 L311.57 -10.08 L311.05 -9.83 L310.53 -9.58 L310.01 -9.32 L309.49 -9.07 L308.96 -8.81 L308.44 -8.55 L307.92 -8.29 L307.4 -8.03 L306.88 -7.77 L306.36 -7.5 L305.83 -7.24 L305.31 -6.97 L304.79 -6.7 L304.27 -6.43 L303.75 -6.15 L303.23 -5.88 L302.7 -5.6 L302.18 -5.32 L301.66 -5.04 L301.14 -4.76 L300.62 -4.48 L300.1 -4.19 L299.57 -3.9 L299.05 -3.61 L298.53 -3.32 L298.01 -3.03 L297.49 -2.73 L296.96 -2.44 L296.44 -2.14 L295.92 -1.84 L295.4 -1.53 L294.88 -1.23 L294.36 -0.92 L293.83 -0.61 L293.31 -0.3 L292.79 0.02 L292.27 0.33 L291.75 0.65 L291.23 0.98 L290.7 1.3 L290.18 1.62 L289.66 1.95 L289.14 2.28 L288.62 2.62 L288.09 2.95 L287.57 3.29 L287.05 3.63 L286.53 3.97 L286.01 4.32 L285.49 4.67 L284.96 5.02 L284.44 5.37 L283.92 5.73 L283.4 6.08 L282.88 6.45 L282.36 6.81 L281.83 7.18 L281.31 7.54 L280.79 7.92 L280.27 8.29 L279.75 8.67 L279.23 9.05 L278.7 9.43 L278.18 9.82 L277.66 10.21 L277.14 10.6 L276.62 10.99 L276.09 11.39 L275.57 11.79 L275.05 12.19 L274.53 12.6 L274.01 13.01 L273.49 13.42 L272.96 13.83 L272.44 14.25 L271.92 14.67 L271.4 15.09 L270.88 15.52 L270.36 15.95 L269.83 16.38 L269.31 16.81 L268.79 17.25 L268.27 17.69 L267.75 18.14 L267.22 18.58 L266.7 19.03 L266.18 19.49 L265.66 19.94 L265.14 20.4 L264.62 20.86 L264.09 21.33 L263.57 21.79 L263.05 22.26 L262.53 22.74 L262.01 23.21 L261.49 23.69 L260.96 24.17 L260.44 24.66 L259.92 25.14 L259.4 25.63 L258.88 26.13 L258.36 26.62 L257.83 27.12 L257.31 27.62 L256.79 28.13 L256.27 28.63 L255.75 29.14 L255.22 29.65 L254.7 30.17 L254.18 30.68 L253.66 31.2 L253.14 31.72 L252.62 32.25 L252.09 32.77 L251.57 33.3 L251.05 33.83 L250.53 34.37 L250.01 34.9 L249.49 35.44 L248.96 35.98 L248.44 36.52 L247.92 37.07 L247.4 37.61 L246.88 38.16 L246.35 38.72 L245.83 39.27 L245.31 39.82 L244.79 40.38 L244.27 40.94 L243.75 41.5 L243.22 42.07 L242.7 42.63 L242.18 43.2 L241.66 43.77 L241.14 44.34 L240.62 44.92 L240.09 45.49 L239.57 46.07 L239.05 46.65 L238.53 47.23 L238.01 47.82 L237.49 48.4 L236.96 48.99 L236.44 49.58 L235.92 50.17 L235.4 50.76 L234.88 51.36 L234.35 51.96 L233.83 52.57 L233.31 53.18 L232.79 53.82 L232.27 54.49 L231.75 55.23 L231.22 56.09 L230.7 57.17 L230.18 58.63 L229.66 60.64 L229.14 63.31 L228.62 66.44 L228.09 69.58 L227.57 72.24 L227.05 74.25 L226.53 75.7 L226.01 76.78 L225.48 77.64 L224.96 78.37 L224.44 79.04 L223.92 79.67 L223.4 80.27 L222.88 80.87 L222.35 81.46 L221.83 82.04 L221.31 82.62 L220.79 83.19 L220.27 83.77 L219.75 84.33 L219.22 84.9 L218.7 85.46 L218.18 86.02 L217.66 86.57 L217.14 87.12 L216.62 87.67 L216.09 88.21 L215.57 88.75 L215.05 89.28 L214.53 89.81 L214.01 90.34 L213.48 90.87 L212.96 91.39 L212.44 91.9 L211.92 92.42 L211.4 92.93 L210.88 93.43 L210.35 93.93 L209.83 94.43 L209.31 94.93 L208.79 95.42 L208.27 95.91 L207.75 96.39 L207.22 96.88 L206.7 97.35 L206.18 97.83 L205.66 98.3 L205.14 98.77 L204.61 99.23 L204.09 99.7 L203.57 100.16 L203.05 100.61 L202.53 101.06 L202.01 101.51 L201.48 101.96 L200.96 102.4 L200.44 102.84 L199.92 103.28 L199.4 103.71 L198.88 104.14 L198.35 104.56 L197.83 104.99 L197.31 105.41 L196.79 105.83 L196.27 106.24 L195.75 106.65 L195.22 107.06 L194.7 107.47 L194.18 107.87 L193.66 108.27 L193.14 108.67 L192.61 109.06 L192.09 109.45 L191.57 109.84 L191.05 110.22 L190.53 110.61 L190.01 110.99 L189.48 111.36 L188.96 111.74 L188.44 112.11 L187.92 112.48 L187.4 112.84 L186.88 113.2 L186.35 113.56 L185.83 113.92 L185.31 114.28 L184.79 114.63 L184.27 114.98 L183.74 115.33 L183.22 115.67 L182.7 116.01 L182.18 116.35 L181.66 116.69 L181.14 117.02 L180.61 117.36 L180.09 117.69 L179.57 118.01 L179.05 118.34 L178.53 118.66 L178.01 118.98 L177.48 119.3 L176.96 119.62 L176.44 119.93 L175.92 120.24 L175.4 120.55 L174.88 120.86 L174.35 121.16 L173.83 121.46 L173.31 121.77 L172.79 122.06 L172.27 122.36 L171.74 122.66 L171.22 122.95 L170.7 123.24 L170.18 123.53 L169.66 123.81 L169.14 124.1 L168.61 124.38 L168.09 124.66 L167.57 124.94 L167.05 125.22 L166.53 125.5 L166.01 125.77 L165.48 126.04 L164.96 126.32 L164.44 126.58 L163.92 126.85 L163.4 127.12 L162.87 127.38 L162.35 127.64 L161.83 127.91 L161.31 128.17 L160.79 128.42 L160.27 128.68 L159.74 128.94 L159.22 129.19 L158.7 129.44 L158.18 129.69 L157.66 129.94 L157.14 130.19 L156.61 130.44 L156.09 130.68 L155.57 130.93 L155.05 131.17 L154.53 131.41 L154 131.65 L153.48 131.89 L152.96 132.13 L152.44 132.37 L151.92 132.6 L151.4 132.84 L150.87 133.07 L150.35 133.3 L149.83 133.53 L149.31 133.76 L148.79 133.99 L148.27 134.22 L147.74 134.45 L147.22 134.67 L146.7 134.9 L146.18 135.12 L145.66 135.35 L145.14 135.57 L144.61 135.79 L144.09 136.01 L143.57 136.23 L143.05 136.45 L142.53 136.67 L142 136.88 L141.48 137.1 L140.96 137.32 L140.44 137.53 L139.92 137.74 L139.4 137.96 L138.87 138.17 L138.35 138.38 L137.83 138.59 L137.31 138.8 L136.79 139.01 L136.27 139.22 L135.74 139.43 L135.22 139.63 L134.7 139.84 L134.18 140.05 L133.66 140.25 L133.13 140.46 L132.61 140.66 L132.09 140.86 L131.57 141.07 L131.05 141.27 L130.53 141.47 L130 141.67 L129.48 141.87 L128.96 142.07 L128.44 142.27 L127.92 142.47 L127.4 142.67 L126.87 142.87 L126.35 143.06 L125.83 143.26 L125.31 143.46 L124.79 143.65 L124.27 143.85 L123.74 144.04 L123.22 144.24 L122.7 144.43 L122.18 144.63 L121.66 144.82 L121.13 145.01 L120.61 145.2 L120.09 145.4 L119.57 145.59 L119.05 145.78 L118.53 145.97 L118 146.16 L117.48 146.35 L116.96 146.54 L116.44 146.73 L115.92 146.92 L115.4 147.11 L114.87 147.3 L114.35 147.49 L113.83 147.67 L113.31 147.86 L112.79 148.05 L112.27 148.24 L111.74 148.42 L111.22 148.61 L110.7 148.79 L110.18 148.98 L109.66 149.17 L109.13 149.35 L108.61 149.54 L108.09 149.72 L107.57 149.9 L107.05 150.09 L106.53 150.27 L106 150.46 L105.48 150.64 L104.96 150.82 L104.44 151.01 L103.92 151.19 L103.4 151.37 L102.87 151.55 L102.35 151.74 L101.83 151.92 L101.31 152.1 L100.79 152.28 L100.26 152.46 L99.74 152.64 L99.22 152.83 L98.7 153.01 L98.18 153.19 L97.66 153.37 L97.13 153.55 L96.61 153.73 L96.09 153.91 L95.57 154.09 L95.05 154.27 L94.53 154.45 L94 154.63 L93.48 154.8 L92.96 154.98 L92.44 155.16 L91.92 155.34 L91.4 155.52 L90.87 155.7 L90.35 155.88 L89.83 156.05 L89.31 156.23 L88.79 156.41 L88.26 156.59 L87.74 156.77 L87.22 156.94 L86.7 157.12 L86.18 157.3 L85.66 157.47 L85.13 157.65 L84.61 157.83 L84.09 158.01 L83.57 158.18 L83.05 158.36 L82.53 158.54 L82 158.71 L81.48 158.89 L80.96 159.06" fill="none" stroke="#00ff00" stroke-width="5" stroke-linejoin="round" stroke-linecap="round"/>
<path d="M80.96 179.81 L81.48 179.6 L82 179.39 L82.53 179.19 L83.05 178.98 L83.57 178.77 L84.09 178.57 L84.61 178.36 L85.13 178.15 L85.66 177.94 L86.18 177.73 L86.7 177.52 L87.22 177.31 L87.74 177.09 L88.26 176.88 L88.79 176.67 L89.31 176.45 L89.83 176.24 L90.35 176.02 L90.87 175.81 L91.4 175.59 L91.92 175.37 L92.44 175.15 L92.96 174.94 L93.48 174.72 L94 174.5 L94.53 174.28 L95.05 174.05 L95.57 173.83 L96.09 173.61 L96.61 173.38 L97.13 173.16 L97.66 172.93 L98.18 172.71 L98.7 172.48 L99.22 172.25 L99.74 172.03 L100.26 171.8 L100.79 171.57 L101.31 171.34 L101.83 171.1 L102.35 170.87 L102.87 170.64 L103.4 170.41 L103.92 170.17 L104.44 169.94 L104.96 169.7 L105.48 169.46 L106 169.22 L106.53 168.99 L107.05 168.75 L107.57 168.51 L108.09 168.26 L108.61 168.02 L109.13 167.78 L109.66 167.54 L110.18 167.29 L110.7 167.04 L111.22 166.8 L111.74 166.55 L112.27 166.3 L112.79 166.05 L113.31 165.8 L113.83 165.55 L114.35 165.3 L114.87 165.05 L115.4 164.79 L115.92 164.54 L116.44 164.28 L116.96 164.03 L117.48 163.77 L118 163.51 L118.53 163.25 L119.05 162.99 L119.57 162.73 L120.09 162.46 L120.61 162.2 L121.13 161.94 L121.66 161.67 L122.18 161.4 L122.7 161.14 L123.22 160.87 L123.74 160.6 L124.27 160.33 L124.79 160.05 L125.31 159.78 L125.83 159.51 L126.35 159.23 L126.87 158.96 L127.4 158.68 L127.92 158.4 L128.44 158.12 L128.96 157.84 L129.48 157.56 L130 157.28 L130.53 156.99 L131.05 156.71 L131.57 156.42 L132.09 156.13 L132.61 155.84 L133.13 155.55 L133.66 155.26 L134.18 154.97 L134.7 154.68 L135.22 154.39 L135.74 154.09 L136.27 153.79 L136.79 153.5 L137.31 153.2 L137.83 152.9 L138.35 152.6 L138.87 152.29 L139.4 151.99 L139.92 151.68 L140.44 151.38 L140.96 151.07 L141.48 150.76 L142 150.45 L142.53 150.14 L143.05 149.83 L143.57 149.52 L144.09 149.2 L144.61 148.89 L145.14 148.57 L145.66 148.25 L146.18 147.93 L146.7 147.61 L147.22 147.29 L147.74 146.96 L148.27 146.64 L148.79 146.31 L149.31 145.99 L149.83 145.66 L150.35 145.33 L150.87 145 L151.4 144.66 L151.92 144.33 L152.44 144 L152.96 143.66 L153.48 143.32 L154 142.98 L154.53 142.64 L155.05 142.3 L155.57 141.96 L156.09 141.61 L156.61 141.27 L157.14 140.92 L157.66 140.57 L158.18 140.23 L158.7 139.87 L159.22 139.52 L159.74 139.17 L160.27 138.81 L160.79 138.46 L161.31 138.1 L161.83 137.74 L162.35 137.38 L162.87 137.02 L163.4 136.66 L163.92 136.3 L164.44 135.93 L164.96 135.56 L165.48 135.2 L166.01 134.83 L166.53 134.46 L167.05 134.09 L167.57 133.71 L168.09 133.34 L168.61 132.96 L169.14 132.59 L169.66 132.21 L170.18 131.83 L170.7 131.45 L171.22 131.07 L171.74 130.68 L172.27 130.3 L172.79 129.91 L173.31 129.53 L173.83 129.14 L174.35 128.75 L174.88 128.36 L175.4 127.96 L175.92 127.57 L176.44 127.18 L176.96 126.78 L177.48 126.38 L178.01 125.98 L178.53 125.58 L179.05 125.18 L179.57 124.78 L180.09 124.38 L180.61 123.97 L181.14 123.57 L181.66 123.16 L182.18 122.75 L182.7 122.34 L183.22 121.93 L183.74 121.52 L184.27 121.11 L184.79 120.69 L185.31 120.28 L185.83 119.86 L186.35 119.45 L186.88 119.03 L187.4 118.61 L187.92 118.19 L188.44 117.76 L188.96 117.34 L189.48 116.92 L190.01 116.49 L190.53 116.07 L191.05 115.64 L191.57 115.21 L192.09 114.78 L192.61 114.35 L193.14 113.92 L193.66 113.48 L194.18 113.05 L194.7 112.61 L195.22 112.18 L195.75 111.74 L196.27 111.3 L196.79 110.86 L197.31 110.42 L197.83 109.98 L198.35 109.53 L198.88 109.09 L199.4 108.64 L199.92 108.2 L200.44 107.75 L200.96 107.3 L201.48 106.85 L202.01 106.39 L202.53 105.94 L203.05 105.48 L203.57 105.02 L204.09 104.56 L204.61 104.1 L205.14 103.63 L205.66 103.16 L206.18 102.69 L206.7 102.21 L207.22 101.74 L207.75 101.25 L208.27 100.76 L208.79 100.27 L209.31 99.77 L209.83 99.26 L210.35 98.75 L210.88 98.22 L211.4 97.69 L211.92 97.14 L212.44 96.58 L212.96 96 L213.48 95.41 L214.01 94.8 L214.53 94.16 L215.05 93.5 L215.57 92.8 L216.09 92.07 L216.62 91.3 L217.14 90.49 L217.66 89.63 L218.18 88.71 L218.7 87.73 L219.22 86.68 L219.75 85.55 L220.27 84.34 L220.79 83.04 L221.31 81.64 L221.83 80.14 L222.35 78.54 L222.88 76.83 L223.4 75.01 L223.92 73.1 L224.44 71.09 L224.96 68.99 L225.48 66.83 L226.01 64.62 L226.53 62.37 L227.05 60.11 L227.57 57.85 L228.09 55.63 L228.62 53.46 L229.14 51.35 L229.66 49.32 L230.18 47.39 L230.7 45.55 L231.22 43.82 L231.75 42.2 L232.27 40.68 L232.79 39.26 L233.31 37.94 L233.83 36.71 L234.35 35.57 L234.88 34.5 L235.4 33.51 L235.92 32.58 L236.44 31.7 L236.96 30.88 L237.49 30.11 L238.01 29.37 L238.53 28.67 L239.05 28 L239.57 27.36 L240.09 26.75 L240.62 26.15 L241.14 25.57 L241.66 25.01 L242.18 24.47 L242.7 23.93 L243.22 23.41 L243.75 22.9 L244.27 22.39 L244.79 21.89 L245.31 21.4 L245.83 20.92 L246.35 20.43 L246.88 19.96 L247.4 19.49 L247.92 19.02 L248.44 18.55 L248.96 18.09 L249.49 17.63 L250.01 17.18 L250.53 16.72 L251.05 16.27 L251.57 15.82 L252.09 15.37 L252.62 14.93 L253.14 14.48 L253.66 14.04 L254.18 13.6 L254.7 13.16 L255.22 12.72 L255.75 12.28 L256.27 11.84 L256.79 11.41 L257.31 10.98 L257.83 10.54 L258.36 10.11 L258.88 9.68 L259.4 9.25 L259.92 8.83 L260.44 8.4 L260.96 7.98 L261.49 7.55 L262.01 7.13 L262.53 6.71 L263.05 6.29 L263.57 5.87 L264.09 5.45 L264.62 5.03 L265.14 4.62 L265.66 4.2 L266.18 3.79 L266.7 3.38 L267.22 2.97 L267.75 2.56 L268.27 2.15 L268.79 1.74 L269.31 1.34 L269.83 0.93 L270.36 0.53 L270.88 0.13 L271.4 -0.27 L271.92 -0.67 L272.44 -1.07 L272.96 -1.47 L273.49 -1.87 L274.01 -2.26 L274.53 -2.65 L275.05 -3.05 L275.57 -3.44 L276.09 -3.83 L276.62 -4.21 L277.14 -4.6 L277.66 -4.99 L278.18 -5.37 L278.7 -5.76 L279.23 -6.14 L279.75 -6.52 L280.27 -6.9 L280.79 -7.28 L281.31 -7.65 L281.83 -8.03 L282.36 -8.4 L282.88 -8.78 L283.4 -9.15 L283.92 -9.52 L284.44 -9.89 L284.96 -10.25 L285.49 -10.62 L286.01 -10.99 L286.53 -11.35 L287.05 -11.71 L287.57 -12.07 L288.09 -12.43 L288.62 -12.79 L289.14 -13.15 L289.66 -13.5 L290.18 -13.86 L290.7 -14.21 L291.23 -14.56 L291.75 -14.92 L292.27 -15.26 L292.79 -15.61 L293.31 -15.96 L293.83 -16.3 L294.36 -16.65 L294.88 -16.99 L295.4 -17.33 L295.92 -17.67 L296.44 -18.01 L296.96 -18.35 L297.49 -18.69 L298.01 -19.02 L298.53 -19.35 L299.05 -19.69 L299.57 -20.02 L300.1 -20.35 L300.62 -20.68 L301.14 -21 L301.66 -21.33 L302.18 -21.65 L302.7 -21.98 L303.23 -22.3 L303.75 -22.62 L304.27 -22.94 L304.79 -23.26 L305.31 -23.58 L305.83 -23.89 L306.36 -24.21 L306.88 -24.52 L307.4 -24.83 L307.92 -25.14 L308.44 -25.45 L308.96 -25.76 L309.49 -26.07 L310.01 -26.37 L310.53 -26.68 L311.05 -26.98 L311.57 -27.29 L312.1 -27.59 L312.62 -27.89 L313.14 -28.19 L313.66 -28.48 L314.18 -28.78 L314.7 -29.08 L315.23 -29.37 L315.75 -29.66 L316.27 -29.95 L316.79 -30.25 L317.31 -30.53 L317.83 -30.82 L318.36 -31.11 L318.88 -31.4 L319.4 -31.68 L319.92 -31.97 L320.44 -32.25 L320.97 -32.53 L321.49 -32.81 L322.01 -33.09 L322.53 -33.37 L323.05 -33.65 L323.57 -33.92 L324.1 -34.2 L324.62 -34.47 L325.14 -34.74 L325.66 -35.02 L326.18 -35.29 L326.7 -35.56 L327.23 -35.83 L327.75 -36.09 L328.27 -36.36 L328.79 -36.63 L329.31 -36.89 L329.83 -37.15 L330.36 -37.42 L330.88 -37.68 L331.4 -37.94 L331.92 -38.2 L332.44 -38.46 L332.97 -38.72 L333.49 -38.97 L334.01 -39.23 L334.53 -39.48 L335.05 -39.74 L335.57 -39.99 L336.1 -40.24 L336.62 -40.49 L337.14 -40.74 L337.66 -40.99 L338.18 -41.24 L338.7 -41.49 L339.23 -41.73 L339.75 -41.98 L340.27 -42.23 L340.79 -42.47 L341.31 -42.71 L341.84 -42.95 L342.36 -43.2 L342.88 -43.44 L343.4 -43.68 L343.92 -43.91 L344.44 -44.15 L344.97 -44.39 L345.49 -44.63 L346.01 -44.86 L346.53 -45.1 L347.05 -45.33 L347.57 -45.56 L348.1 -45.79 L348.62 -46.03 L349.14 -46.26 L349.66 -46.49 L350.18 -46.72 L350.7 -46.94 L351.23 -47.17 L351.75 -47.4 L352.27 -47.62 L352.79 -47.85 L353.31 -48.07 L353.84 -48.3 L354.36 -48.52 L354.88 -48.74 L355.4 -48.97 L355.92 -49.19 L356.44 -49.41 L356.97 -49.63 L357.49 -49.84 L358.01 -50.06 L358.53 -50.28 L359.05 -50.5 L359.57 -50.71 L360.1 -50.93 L360.62 -51.14 L361.14 -51.36 L361.66 -51.57 L362.18 -51.78 L362.71 -52 L363.23 -52.21 L363.75 -52.42 L364.27 -52.63 L364.79 -52.84 L365.31 -53.05 L365.84 -53.26 L366.36 -53.46 L366.88 -53.67 L367.4 -53.88 L367.92 -54.08 L368.44 -54.29 L368.97 -54.5 L369.49 -54.7 L370.01 -54.9 L370.53 -55.11 L371.05 -55.31 L371.57 -55.51 L372.1 -55.71 L372.62 -55.91 L373.14 -56.11 L373.14 -55.66 L372.62 -55.46 L372.1 -55.25 L371.57 -55.04 L371.05 -54.84 L370.53 -54.63 L370.01 -54.42 L369.49 -54.21 L368.97 -54 L368.44 -53.79 L367.92 -53.58 L367.4 -53.37 L366.88 -53.16 L366.36 -52.95 L365.84 -52.74 L365.31 -52.52 L364.79 -52.31 L364.27 -52.09 L363.75 -51.88 L363.23 -51.66 L362.71 -51.45 L362.18 -51.23 L361.66 -51.01 L361.14 -50.79 L360.62 -50.57 L360.1 -50.35 L359.57 -50.13 L359.05 -49.91 L358.53 -49.69 L358.01 -49.46 L357.49 -49.24 L356.97 -49.01 L356.44 -48.79 L355.92 -48.56 L355.4 -48.34 L354.88 -48.11 L354.36 -47.88 L353.84 -47.65 L353.31 -47.42 L352.79 -47.19 L352.27 -46.96 L351.75 -46.73 L351.23 -46.49 L350.7 -46.26 L350.18 -46.03 L349.66 -45.79 L349.14 -45.55 L348.62 -45.32 L348.1 -45.08 L347.57 -44.84 L347.05 -44.6 L346.53 -44.36 L346.01 -44.12 L345.49 -43.88 L344.97 -43.63 L344.44 -43.39 L343.92 -43.15 L343.4 -42.9 L342.88 -42.65 L342.36 -42.41 L341.84 -42.16 L341.31 -41.91 L340.79 -41.66 L340.27 -41.41 L339.75 -41.15 L339.23 -40.9 L338.7 -40.65 L338.18 -40.39 L337.66 -40.14 L337.14 -39.88 L336.62 -39.62 L336.1 -39.36 L335.57 -39.1 L335.05 -38.84 L334.53 -38.58 L334.01 -38.32 L333.49 -38.06 L332.97 -37.79 L332.44 -37.52 L331.92 -37.26 L331.4 -36.99 L330.88 -36.72 L330.36 -36.45 L329.83 -36.18 L329.31 -35.91 L328.79 -35.64 L328.27 -35.36 L327.75 -35.09 L327.23 -34.81 L326.7 -34.53 L326.18 -34.25 L325.66 -33.98 L325.14 -33.69 L324.62 -33.41 L324.1 -33.13 L323.57 -32.85 L323.05 -32.56 L322.53 -32.28 L322.01 -31.99 L321.49 -31.7 L320.97 -31.41 L320.44 -31.12 L319.92 -30.83 L319.4 -30.53 L318.88 -30.24 L318.36 -29.94 L317.83 -29.65 L317.31 -29.35 L316.79 -29.05 L316.27 -28.75 L315.75 -28.45 L315.23 -28.15 L314.7 -27.84 L314.18 -27.54 L313.66 -27.23 L313.14 -26.93 L312.62 -26.62 L312.1 -26.31 L311.57 -26 L311.05 -25.68 L310.53 -25.37 L310.01 -25.06 L309.49 -24.74 L308.96 -24.42 L308.44 -24.11 L307.92 -23.79 L307.4 -23.46 L306.88 -23.14 L306.36 -22.82 L305.83 -22.49 L305.31 -22.17 L304.79 -21.84 L304.27 -21.51 L303.75 -21.18 L303.23 -20.85 L302.7 -20.52 L302.18 -20.19 L301.66 -19.85 L301.14 -19.51 L300.62 -19.18 L300.1 -18.84 L299.57 -18.5 L299.05 -18.16 L298.53 -17.81 L298.01 -17.47 L297.49 -17.12 L296.96 -16.78 L296.44 -16.43 L295.92 -16.08 L295.4 -15.73 L294.88 -15.38 L294.36 -15.02 L293.83 -14.67 L293.31 -14.31 L292.79 -13.96 L292.27 -13.6 L291.75 -13.24 L291.23 -12.88 L290.7 -12.51 L290.18 -12.15 L289.66 -11.79 L289.14 -11.42 L288.62 -11.05 L288.09 -10.68 L287.57 -10.31 L287.05 -9.94 L286.53 -9.57 L286.01 -9.19 L285.49 -8.82 L284.96 -8.44 L284.44 -8.06 L283.92 -7.68 L283.4 -7.3 L282.88 -6.92 L282.36 -6.54 L281.83 -6.15 L281.31 -5.77 L280.79 -5.38 L280.27 -4.99 L279.75 -4.6 L279.23 -4.21 L278.7 -3.82 L278.18 -3.43 L277.66 -3.03 L277.14 -2.63 L276.62 -2.24 L276.09 -1.84 L275.57 -1.44 L275.05 -1.04 L274.53 -0.64 L274.01 -0.23 L273.49 0.17 L272.96 0.58 L272.44 0.98 L271.92 1.39 L271.4 1.8 L270.88 2.21 L270.36 2.62 L269.83 3.04 L269.31 3.45 L268.79 3.87 L268.27 4.28 L267.75 4.7 L267.22 5.12 L266.7 5.54 L266.18 5.96 L265.66 6.38 L265.14 6.8 L264.62 7.23 L264.09 7.65 L263.57 8.08 L263.05 8.51 L262.53 8.94 L262.01 9.37 L261.49 9.8 L260.96 10.23 L260.44 10.66 L259.92 11.1 L259.4 11.53 L258.88 11.97 L258.36 12.41 L257.83 12.84 L257.31 13.28 L256.79 13.72 L256.27 14.17 L255.75 14.61 L255.22 15.06 L254.7 15.5 L254.18 15.95 L253.66 16.4 L253.14 16.85 L252.62 17.3 L252.09 17.75 L251.57 18.21 L251.05 18.66 L250.53 19.12 L250.01 19.58 L249.49 20.05 L248.96 20.51 L248.44 20.98 L247.92 21.45 L247.4 21.93 L246.88 22.41 L246.35 22.89 L245.83 23.38 L245.31 23.88 L244.79 24.38 L244.27 24.88 L243.75 25.4 L243.22 25.92 L242.7 26.46 L242.18 27 L241.66 27.56 L241.14 28.14 L240.62 28.73 L240.09 29.35 L239.57 29.99 L239.05 30.65 L238.53 31.34 L238.01 32.07 L237.49 32.84 L236.96 33.65 L236.44 34.52 L235.92 35.44 L235.4 36.42 L234.88 37.47 L234.35 38.6 L233.83 39.81 L233.31 41.11 L232.79 42.51 L232.27 44.01 L231.75 45.61 L231.22 47.32 L230.7 49.13 L230.18 51.05 L229.66 53.06 L229.14 55.15 L228.62 57.31 L228.09 59.53 L227.57 61.78 L227.05 64.04 L226.53 66.29 L226.01 68.51 L225.48 70.69 L224.96 72.8 L224.44 74.82 L223.92 76.76 L223.4 78.59 L222.88 80.32 L222.35 81.95 L221.83 83.47 L221.31 84.89 L220.79 86.21 L220.27 87.44 L219.75 88.58 L219.22 89.64 L218.7 90.64 L218.18 91.57 L217.66 92.44 L217.14 93.26 L216.62 94.04 L216.09 94.77 L215.57 95.47 L215.05 96.14 L214.53 96.78 L214.01 97.4 L213.48 97.99 L212.96 98.57 L212.44 99.13 L211.92 99.68 L211.4 100.21 L210.88 100.74 L210.35 101.25 L209.83 101.75 L209.31 102.25 L208.79 102.74 L208.27 103.23 L207.75 103.71 L207.22 104.19 L206.7 104.66 L206.18 105.13 L205.66 105.59 L205.14 106.05 L204.61 106.51 L204.09 106.97 L203.57 107.42 L203.05 107.87 L202.53 108.32 L202.01 108.77 L201.48 109.22 L200.96 109.66 L200.44 110.11 L199.92 110.55 L199.4 110.99 L198.88 111.43 L198.35 111.86 L197.83 112.3 L197.31 112.74 L196.79 113.17 L196.27 113.6 L195.75 114.03 L195.22 114.46 L194.7 114.89 L194.18 115.32 L193.66 115.74 L193.14 116.17 L192.61 116.59 L192.09 117.02 L191.57 117.44 L191.05 117.86 L190.53 118.28 L190.01 118.69 L189.48 119.11 L188.96 119.53 L188.44 119.94 L187.92 120.35 L187.4 120.77 L186.88 121.18 L186.35 121.59 L185.83 121.99 L185.31 122.4 L184.79 122.81 L184.27 123.21 L183.74 123.62 L183.22 124.02 L182.7 124.42 L182.18 124.82 L181.66 125.22 L181.14 125.61 L180.61 126.01 L180.09 126.4 L179.57 126.8 L179.05 127.19 L178.53 127.58 L178.01 127.97 L177.48 128.36 L176.96 128.75 L176.44 129.13 L175.92 129.52 L175.4 129.9 L174.88 130.28 L174.35 130.66 L173.83 131.04 L173.31 131.42 L172.79 131.8 L172.27 132.17 L171.74 132.55 L171.22 132.92 L170.7 133.29 L170.18 133.66 L169.66 134.03 L169.14 134.4 L168.61 134.77 L168.09 135.13 L167.57 135.49 L167.05 135.86 L166.53 136.22 L166.01 136.58 L165.48 136.94 L164.96 137.29 L164.44 137.65 L163.92 138 L163.4 138.36 L162.87 138.71 L162.35 139.06 L161.83 139.41 L161.31 139.76 L160.79 140.1 L160.27 140.45 L159.74 140.79 L159.22 141.14 L158.7 141.48 L158.18 141.82 L157.66 142.16 L157.14 142.49 L156.61 142.83 L156.09 143.17 L155.57 143.5 L155.05 143.83 L154.53 144.16 L154 144.49 L153.48 144.82 L152.96 145.15 L152.44 145.47 L151.92 145.8 L151.4 146.12 L150.87 146.45 L150.35 146.77 L149.83 147.09 L149.31 147.4 L148.79 147.72 L148.27 148.04 L147.74 148.35 L147.22 148.67 L146.7 148.98 L146.18 149.29 L145.66 149.6 L145.14 149.91 L144.61 150.21 L144.09 150.52 L143.57 150.82 L143.05 151.13 L142.53 151.43 L142 151.73 L141.48 152.03 L140.96 152.33 L140.44 152.63 L139.92 152.93 L139.4 153.22 L138.87 153.51 L138.35 153.81 L137.83 154.1 L137.31 154.39 L136.79 154.68 L136.27 154.97 L135.74 155.26 L135.22 155.54 L134.7 155.83 L134.18 156.11 L133.66 156.39 L133.13 156.67 L132.61 156.96 L132.09 157.23 L131.57 157.51 L131.05 157.79 L130.53 158.07 L130 158.34 L129.48 158.62 L128.96 158.89 L128.44 159.16 L127.92 159.43 L127.4 159.7 L126.87 159.97 L126.35 160.24 L125.83 160.5 L125.31 160.77 L124.79 161.04 L124.27 161.3 L123.74 161.56 L123.22 161.82 L122.7 162.08 L122.18 162.34 L121.66 162.6 L121.13 162.86 L120.61 163.12 L120.09 163.37 L119.57 163.63 L119.05 163.88 L118.53 164.13 L118 164.39 L117.48 164.64 L116.96 164.89 L116.44 165.14 L115.92 165.39 L115.4 165.63 L114.87 165.88 L114.35 166.13 L113.83 166.37 L113.31 166.61 L112.79 166.86 L112.27 167.1 L111.74 167.34 L111.22 167.58 L110.7 167.82 L110.18 168.06 L109.66 168.3 L109.13 168.53 L108.61 168.77 L108.09 169.01 L107.57 169.24 L107.05 169.47 L106.53 169.71 L106 169.94 L105.48 170.17 L104.96 170.4 L104.44 170.63 L103.92 170.86 L103.4 171.09 L102.87 171.32 L102.35 171.54 L101.83 171.77 L101.31 171.99 L100.79 172.22 L100.26 172.44 L99.74 172.67 L99.22 172.89 L98.7 173.11 L98.18 173.33 L97.66 173.55 L97.13 173.77 L96.61 173.99 L96.09 174.21 L95.57 174.43 L95.05 174.64 L94.53 174.86 L94 175.07 L93.48 175.29 L92.96 175.5 L92.44 175.72 L91.92 175.93 L91.4 176.14 L90.87 176.35 L90.35 176.56 L89.83 176.77 L89.31 176.98 L88.79 177.19 L88.26 177.4 L87.74 177.61 L87.22 177.82 L86.7 178.02 L86.18 178.23 L85.66 178.44 L85.13 178.64 L84.61 178.84 L84.09 179.05 L83.57 179.25 L83.05 179.45 L82.53 179.66 L82 179.86 L81.48 180.06 L80.96 180.26" fill="none" stroke="#008000" stroke-width="4.7" stroke-linejoin="round" stroke-linecap="round"/>
</g>
<line x1="60.3" y1="-2" x2="60.3" y2="189.7" stroke="#000" stroke-width="1.7" />
<line x1="394" y1="-2" x2="394" y2="189.7" stroke="#000" stroke-width="1.7" />
<line x1="60.3" y1="188.9" x2="394" y2="188.9" stroke="#000" stroke-width="1.7" />
<line x1="60.3" y1="6.4" x2="68" y2="6.4" stroke="#000" stroke-width="1.5" />
<text x="52.9" y="11.5" font-size="17" text-anchor="end" fill="#000" >5</text>
<line x1="60.3" y1="63.5" x2="68" y2="63.5" stroke="#000" stroke-width="1.5" />
<text x="52.9" y="68.6" font-size="17" text-anchor="end" fill="#000" >0</text>
<line x1="60.3" y1="120.6" x2="68" y2="120.6" stroke="#000" stroke-width="1.5" />
<text x="52.9" y="125.7" font-size="17" text-anchor="end" fill="#000" >-5</text>
<line x1="60.3" y1="177.7" x2="68" y2="177.7" stroke="#000" stroke-width="1.5" />
<text x="52.9" y="182.8" font-size="17" text-anchor="end" fill="#000" >-10</text>
<line x1="60.3" y1="34.95" x2="64.3" y2="34.95" stroke="#000" stroke-width="1.5" />
<line x1="60.3" y1="92.05" x2="64.3" y2="92.05" stroke="#000" stroke-width="1.5" />
<line x1="60.3" y1="149.15" x2="64.3" y2="149.15" stroke="#000" stroke-width="1.5" />
<line x1="70.53" y1="188.9" x2="70.53" y2="181.9" stroke="#000" stroke-width="1.5" />
<text x="70.23" y="209.4" font-size="17" text-anchor="middle" fill="#000" >-75</text>
<line x1="122.7" y1="188.9" x2="122.7" y2="181.9" stroke="#000" stroke-width="1.5" />
<text x="122.4" y="209.4" font-size="17" text-anchor="middle" fill="#000" >-50</text>
<line x1="174.88" y1="188.9" x2="174.88" y2="181.9" stroke="#000" stroke-width="1.5" />
<text x="174.57" y="209.4" font-size="17" text-anchor="middle" fill="#000" >-25</text>
<line x1="227.05" y1="188.9" x2="227.05" y2="181.9" stroke="#000" stroke-width="1.5" />
<text x="226.75" y="209.4" font-size="17" text-anchor="middle" fill="#000" >0</text>
<line x1="279.23" y1="188.9" x2="279.23" y2="181.9" stroke="#000" stroke-width="1.5" />
<text x="278.93" y="209.4" font-size="17" text-anchor="middle" fill="#000" >25</text>
<line x1="331.4" y1="188.9" x2="331.4" y2="181.9" stroke="#000" stroke-width="1.5" />
<text x="331.1" y="209.4" font-size="17" text-anchor="middle" fill="#000" >50</text>
<line x1="383.58" y1="188.9" x2="383.58" y2="181.9" stroke="#000" stroke-width="1.5" />
<text x="383.28" y="209.4" font-size="17" text-anchor="middle" fill="#000" >75</text>
<line x1="96.61" y1="188.9" x2="96.61" y2="184.9" stroke="#000" stroke-width="1.5" />
<line x1="148.79" y1="188.9" x2="148.79" y2="184.9" stroke="#000" stroke-width="1.5" />
<line x1="200.96" y1="188.9" x2="200.96" y2="184.9" stroke="#000" stroke-width="1.5" />
<line x1="253.14" y1="188.9" x2="253.14" y2="184.9" stroke="#000" stroke-width="1.5" />
<line x1="305.31" y1="188.9" x2="305.31" y2="184.9" stroke="#000" stroke-width="1.5" />
<line x1="357.49" y1="188.9" x2="357.49" y2="184.9" stroke="#000" stroke-width="1.5" />
<text x="181.2" y="229" font-size="19" text-anchor="start" fill="#000" >H (kOe)</text>
<g transform="translate(23.8,106.4) rotate(-90)" class="rot">
<text x="-0.3" y="0" font-size="19.4" text-anchor="start">M</text>
<text x="19.2" y="0" font-size="19.4" text-anchor="start">(10</text>
<text x="50.2" y="-9.7" font-size="12.2" text-anchor="start">-2</text>
<text x="64.2" y="0" font-size="19.4" text-anchor="start">μ</text>
<text x="76" y="7.7" font-size="12.5" text-anchor="start">B</text>
<text x="86.2" y="0" font-size="19.4" text-anchor="start">/f.u.)</text>
</g>
<line x1="93.6" y1="-2" x2="93.6" y2="31.8" stroke="#000" stroke-width="1.1" />
<line x1="193.8" y1="-2" x2="193.8" y2="31.8" stroke="#000" stroke-width="1.1" />
<line x1="93.6" y1="31.3" x2="193.8" y2="31.3" stroke="#000" stroke-width="1.1" />
<line x1="101.8" y1="31.3" x2="101.8" y2="27.3" stroke="#000" stroke-width="1" />
<text x="99.2" y="47" font-size="12" text-anchor="middle" fill="#000" >0.0</text>
<line x1="144.2" y1="31.3" x2="144.2" y2="27.3" stroke="#000" stroke-width="1" />
<text x="141.6" y="47" font-size="12" text-anchor="middle" fill="#000" >0.1</text>
<line x1="186.6" y1="31.3" x2="186.6" y2="27.3" stroke="#000" stroke-width="1" />
<text x="184" y="47" font-size="12" text-anchor="middle" fill="#000" >0.2</text>
<line x1="123" y1="31.3" x2="123" y2="28.8" stroke="#000" stroke-width="1" />
<line x1="165.4" y1="31.3" x2="165.4" y2="28.8" stroke="#000" stroke-width="1" />
<line x1="93.6" y1="6.6" x2="97.6" y2="6.6" stroke="#000" stroke-width="1" />
<line x1="193.8" y1="6.6" x2="189.8" y2="6.6" stroke="#000" stroke-width="1" />
<line x1="93.6" y1="18.95" x2="96.1" y2="18.95" stroke="#000" stroke-width="1" />
<line x1="193.8" y1="18.95" x2="191.3" y2="18.95" stroke="#000" stroke-width="1" />
<text x="88.5" y="10.6" font-size="12" text-anchor="middle" fill="#000" >6</text>
<text x="88.5" y="34.1" font-size="12" text-anchor="middle" fill="#000" >4</text>
<path d="M101.8 18.95 L112.4 12.78 L123 7.83 L133.6 4.75 L144.2 1.04 L146.32 0.18" fill="none" stroke="#0000ff" stroke-width="1.6" stroke-linejoin="round"/>
<circle cx="101.8" cy="18.95" r="3" fill="url(#sph)"/>
<circle cx="123" cy="5.61" r="3" fill="url(#sph)"/>
<circle cx="144.2" cy="4.38" r="3" fill="url(#sph)"/>
<text x="151.8" y="28" font-size="15.6" text-anchor="middle" fill="#000" >Cu (x)</text>
<rect x="281.9" y="74.4" width="99.5" height="83.2" fill="#fff" stroke="#000" stroke-width="1.1"/>
<line x1="289.8" y1="157.6" x2="289.8" y2="153.6" stroke="#000" stroke-width="1" />
<text x="289.8" y="173.2" font-size="12" text-anchor="middle" fill="#000" >0.0</text>
<line x1="331.5" y1="157.6" x2="331.5" y2="153.6" stroke="#000" stroke-width="1" />
<text x="331.5" y="173.2" font-size="12" text-anchor="middle" fill="#000" >0.1</text>
<line x1="373.2" y1="157.6" x2="373.2" y2="153.6" stroke="#000" stroke-width="1" />
<text x="373.2" y="173.2" font-size="12" text-anchor="middle" fill="#000" >0.2</text>
<line x1="310.65" y1="157.6" x2="310.65" y2="155.1" stroke="#000" stroke-width="1" />
<line x1="352.35" y1="157.6" x2="352.35" y2="155.1" stroke="#000" stroke-width="1" />
<line x1="281.9" y1="150.2" x2="285.9" y2="150.2" stroke="#000" stroke-width="1" />
<text x="272.3" y="154.2" font-size="12" text-anchor="middle" fill="#000" >0</text>
<line x1="281.9" y1="127.46" x2="285.9" y2="127.46" stroke="#000" stroke-width="1" />
<text x="272.3" y="131.46" font-size="12" text-anchor="middle" fill="#000" >3</text>
<line x1="281.9" y1="104.72" x2="285.9" y2="104.72" stroke="#000" stroke-width="1" />
<text x="272.3" y="108.72" font-size="12" text-anchor="middle" fill="#000" >6</text>
<line x1="281.9" y1="81.98" x2="285.9" y2="81.98" stroke="#000" stroke-width="1" />
<text x="272.3" y="85.98" font-size="12" text-anchor="middle" fill="#000" >9</text>
<line x1="281.9" y1="138.83" x2="284.4" y2="138.83" stroke="#000" stroke-width="1" />
<line x1="281.9" y1="116.09" x2="284.4" y2="116.09" stroke="#000" stroke-width="1" />
<line x1="281.9" y1="93.35" x2="284.4" y2="93.35" stroke="#000" stroke-width="1" />
<path d="M289.8 81.22 L291.21 81.61 L292.63 82.03 L294.04 82.48 L295.45 82.95 L296.87 83.44 L298.28 83.96 L299.69 84.49 L301.11 85.05 L302.52 85.62 L303.94 86.22 L305.35 86.84 L306.76 87.51 L308.18 88.21 L309.59 88.96 L311 89.75 L312.42 90.62 L313.83 91.58 L315.24 92.61 L316.66 93.73 L318.07 94.92 L319.48 96.17 L320.9 97.47 L322.31 98.83 L323.73 100.27 L325.14 101.79 L326.55 103.41 L327.97 105.14 L329.38 106.99 L330.79 108.98 L332.21 111.17 L333.62 113.82 L335.03 116.79 L336.45 119.88 L337.86 122.88 L339.27 125.6 L340.69 128.16 L342.1 130.75 L343.52 133.27 L344.93 135.61 L346.34 137.66 L347.76 139.33 L349.17 140.61 L350.58 141.74 L352 142.74 L353.41 143.64 L354.82 144.44 L356.24 145.14 L357.65 145.75 L359.06 146.32 L360.48 146.88 L361.89 147.42 L363.31 147.93 L364.72 148.4 L366.13 148.84 L367.55 149.23 L368.96 149.57 L370.37 149.85 L371.79 150.06 L373.2 150.2" fill="none" stroke="#0000ff" stroke-width="1.6" stroke-linejoin="round"/>
<circle cx="289.8" cy="80.99" r="3" fill="url(#sph)"/>
<circle cx="310.65" cy="88.04" r="3" fill="url(#sph)"/>
<circle cx="331.5" cy="108.51" r="3" fill="url(#sph)"/>
<circle cx="352.35" cy="146.79" r="3" fill="url(#sph)"/>
<circle cx="373.2" cy="150.2" r="3" fill="url(#sph)"/>
<text x="325.2" y="151.5" font-size="15.6" text-anchor="middle" fill="#000" >Cu (x)</text>
<g transform="translate(258.9,129.6) rotate(-90)" class="rot">
<text x="0" y="0" font-size="13.2" text-anchor="start">H</text>
<text x="10" y="6.5" font-size="10" text-anchor="start">C</text>
</g>
<rect x="60.3" y="242.4" width="333.7" height="266.5" fill="none" stroke="#000" stroke-width="1.7"/>
<line x1="60.3" y1="508.9" x2="68" y2="508.9" stroke="#000" stroke-width="1.5" />
<text x="52.7" y="514" font-size="17" text-anchor="end" fill="#000" >0</text>
<line x1="60.3" y1="460.33" x2="68" y2="460.33" stroke="#000" stroke-width="1.5" />
<text x="52.7" y="465.43" font-size="17" text-anchor="end" fill="#000" >2</text>
<line x1="60.3" y1="411.76" x2="68" y2="411.76" stroke="#000" stroke-width="1.5" />
<text x="52.7" y="416.86" font-size="17" text-anchor="end" fill="#000" >4</text>
<line x1="60.3" y1="363.19" x2="68" y2="363.19" stroke="#000" stroke-width="1.5" />
<text x="52.7" y="368.29" font-size="17" text-anchor="end" fill="#000" >6</text>
<line x1="60.3" y1="314.62" x2="68" y2="314.62" stroke="#000" stroke-width="1.5" />
<text x="52.7" y="319.72" font-size="17" text-anchor="end" fill="#000" >8</text>
<line x1="60.3" y1="266.05" x2="68" y2="266.05" stroke="#000" stroke-width="1.5" />
<text x="52.7" y="271.15" font-size="17" text-anchor="end" fill="#000" >10</text>
<line x1="60.3" y1="484.61" x2="64.3" y2="484.61" stroke="#000" stroke-width="1.5" />
<line x1="60.3" y1="436.04" x2="64.3" y2="436.04" stroke="#000" stroke-width="1.5" />
<line x1="60.3" y1="387.47" x2="64.3" y2="387.47" stroke="#000" stroke-width="1.5" />
<line x1="60.3" y1="338.9" x2="64.3" y2="338.9" stroke="#000" stroke-width="1.5" />
<line x1="60.3" y1="290.33" x2="64.3" y2="290.33" stroke="#000" stroke-width="1.5" />
<text x="60" y="527.6" font-size="17" text-anchor="middle" fill="#000" >0</text>
<line x1="127.05" y1="508.9" x2="127.05" y2="501.9" stroke="#000" stroke-width="1.5" />
<text x="127.05" y="527.6" font-size="17" text-anchor="middle" fill="#000" >3</text>
<line x1="194.1" y1="508.9" x2="194.1" y2="501.9" stroke="#000" stroke-width="1.5" />
<text x="194.1" y="527.6" font-size="17" text-anchor="middle" fill="#000" >6</text>
<line x1="261.15" y1="508.9" x2="261.15" y2="501.9" stroke="#000" stroke-width="1.5" />
<text x="261.15" y="527.6" font-size="17" text-anchor="middle" fill="#000" >9</text>
<line x1="328.2" y1="508.9" x2="328.2" y2="501.9" stroke="#000" stroke-width="1.5" />
<text x="328.2" y="527.6" font-size="17" text-anchor="middle" fill="#000" >12</text>
<text x="394.65" y="527.6" font-size="17" text-anchor="middle" fill="#000" >15</text>
<line x1="93.53" y1="508.9" x2="93.53" y2="504.9" stroke="#000" stroke-width="1.5" />
<line x1="160.57" y1="508.9" x2="160.57" y2="504.9" stroke="#000" stroke-width="1.5" />
<line x1="227.62" y1="508.9" x2="227.62" y2="504.9" stroke="#000" stroke-width="1.5" />
<line x1="294.68" y1="508.9" x2="294.68" y2="504.9" stroke="#000" stroke-width="1.5" />
<line x1="361.73" y1="508.9" x2="361.73" y2="504.9" stroke="#000" stroke-width="1.5" />
<g clip-path="url(#clipBot)">
<polygon points="310.83,416.64 313.55,421.53 308.1,421.53" fill="#fff" stroke="#ff0000" stroke-width="1.2" stroke-linejoin="miter"/>
<polygon points="309.31,416.6 312.04,421.5 306.59,421.5" fill="#fff" stroke="#ff0000" stroke-width="1.2" stroke-linejoin="miter"/>
<polygon points="308.2,417.71 310.92,422.61 305.48,422.61" fill="#fff" stroke="#ff0000" stroke-width="1.2" stroke-linejoin="miter"/>
<polygon points="307.25,418.29 309.97,423.19 304.53,423.19" fill="#fff" stroke="#ff0000" stroke-width="1.2" stroke-linejoin="miter"/>
<polygon points="306.26,418.99 308.98,423.89 303.54,423.89" fill="#fff" stroke="#ff0000" stroke-width="1.2" stroke-linejoin="miter"/>
<polygon points="304.88,420.06 307.6,424.96 302.15,424.96" fill="#fff" stroke="#ff0000" stroke-width="1.2" stroke-linejoin="miter"/>
<polygon points="304.53,420.97 307.25,425.86 301.81,425.86" fill="#fff" stroke="#ff0000" stroke-width="1.2" stroke-linejoin="miter"/>
<polygon points="303.28,420.99 306,425.89 300.56,425.89" fill="#fff" stroke="#ff0000" stroke-width="1.2" stroke-linejoin="miter"/>
<polygon points="302.1,421.31 304.82,426.21 299.38,426.21" fill="#fff" stroke="#ff0000" stroke-width="1.2" stroke-linejoin="miter"/>
<polygon points="301.56,422.11 304.28,427 298.84,427" fill="#fff" stroke="#ff0000" stroke-width="1.2" stroke-linejoin="miter"/>
<polygon points="299.91,423.04 302.63,427.94 297.19,427.94" fill="#fff" stroke="#ff0000" stroke-width="1.2" stroke-linejoin="miter"/>
<polygon points="299.71,423.83 302.43,428.73 296.99,428.73" fill="#fff" stroke="#ff0000" stroke-width="1.2" stroke-linejoin="miter"/>
<polygon points="297.96,424.21 300.68,429.11 295.24,429.11" fill="#fff" stroke="#ff0000" stroke-width="1.2" stroke-linejoin="miter"/>
<polygon points="297.45,425.04 300.17,429.94 294.73,429.94" fill="#fff" stroke="#ff0000" stroke-width="1.2" stroke-linejoin="miter"/>
<polygon points="296.04,425.69 298.76,430.59 293.31,430.59" fill="#fff" stroke="#ff0000" stroke-width="1.2" stroke-linejoin="miter"/>
<polygon points="295.49,427.02 298.21,431.91 292.77,431.91" fill="#fff" stroke="#ff0000" stroke-width="1.2" stroke-linejoin="miter"/>
<polygon points="293.9,426.9 296.62,431.8 291.18,431.8" fill="#fff" stroke="#ff0000" stroke-width="1.2" stroke-linejoin="miter"/>
<polygon points="293.03,427.03 295.75,431.93 290.31,431.93" fill="#fff" stroke="#ff0000" stroke-width="1.2" stroke-linejoin="miter"/>
<polygon points="292,428.12 294.72,433.02 289.28,433.02" fill="#fff" stroke="#ff0000" stroke-width="1.2" stroke-linejoin="miter"/>
<polygon points="291.62,429.06 294.34,433.95 288.9,433.95" fill="#fff" stroke="#ff0000" stroke-width="1.2" stroke-linejoin="miter"/>
<polygon points="289.8,429.96 292.52,434.86 287.08,434.86" fill="#fff" stroke="#ff0000" stroke-width="1.2" stroke-linejoin="miter"/>
<polygon points="289.19,429.92 291.91,434.82 286.47,434.82" fill="#fff" stroke="#ff0000" stroke-width="1.2" stroke-linejoin="miter"/>
<polygon points="288.12,430.94 290.84,435.84 285.4,435.84" fill="#fff" stroke="#ff0000" stroke-width="1.2" stroke-linejoin="miter"/>
<polygon points="287.05,431.8 289.77,436.7 284.33,436.7" fill="#fff" stroke="#ff0000" stroke-width="1.2" stroke-linejoin="miter"/>
<polygon points="285.64,432.39 288.37,437.28 282.92,437.28" fill="#fff" stroke="#ff0000" stroke-width="1.2" stroke-linejoin="miter"/>
<polygon points="285.63,433.4 288.35,438.3 282.91,438.3" fill="#fff" stroke="#ff0000" stroke-width="1.2" stroke-linejoin="miter"/>
<polygon points="284.67,434.15 287.39,439.05 281.95,439.05" fill="#fff" stroke="#ff0000" stroke-width="1.2" stroke-linejoin="miter"/>
<polygon points="283.79,434.16 286.51,439.06 281.07,439.06" fill="#fff" stroke="#ff0000" stroke-width="1.2" stroke-linejoin="miter"/>
<polygon points="282.61,434.61 285.33,439.51 279.88,439.51" fill="#fff" stroke="#ff0000" stroke-width="1.2" stroke-linejoin="miter"/>
<polygon points="281.18,435.27 283.9,440.17 278.46,440.17" fill="#fff" stroke="#ff0000" stroke-width="1.2" stroke-linejoin="miter"/>
<polygon points="280.68,436.92 283.4,441.82 277.96,441.82" fill="#fff" stroke="#ff0000" stroke-width="1.2" stroke-linejoin="miter"/>
<polygon points="279.31,437.72 282.03,442.62 276.59,442.62" fill="#fff" stroke="#ff0000" stroke-width="1.2" stroke-linejoin="miter"/>
<polygon points="278.17,437.91 280.9,442.8 275.45,442.8" fill="#fff" stroke="#ff0000" stroke-width="1.2" stroke-linejoin="miter"/>
<polygon points="277.43,438.21 280.15,443.11 274.7,443.11" fill="#fff" stroke="#ff0000" stroke-width="1.2" stroke-linejoin="miter"/>
<polygon points="276.51,439.78 279.24,444.68 273.79,444.68" fill="#fff" stroke="#ff0000" stroke-width="1.2" stroke-linejoin="miter"/>
<polygon points="275.08,440.13 277.8,445.03 272.36,445.03" fill="#fff" stroke="#ff0000" stroke-width="1.2" stroke-linejoin="miter"/>
<polygon points="274.34,441.06 277.06,445.96 271.62,445.96" fill="#fff" stroke="#ff0000" stroke-width="1.2" stroke-linejoin="miter"/>
<polygon points="273.53,441.4 276.26,446.3 270.81,446.3" fill="#fff" stroke="#ff0000" stroke-width="1.2" stroke-linejoin="miter"/>
<polygon points="272.58,441.93 275.3,446.83 269.86,446.83" fill="#fff" stroke="#ff0000" stroke-width="1.2" stroke-linejoin="miter"/>
<polygon points="270.97,442.94 273.69,447.84 268.25,447.84" fill="#fff" stroke="#ff0000" stroke-width="1.2" stroke-linejoin="miter"/>
<polygon points="269.98,443.26 272.7,448.16 267.26,448.16" fill="#fff" stroke="#ff0000" stroke-width="1.2" stroke-linejoin="miter"/>
<polygon points="269.58,443.6 272.3,448.5 266.85,448.5" fill="#fff" stroke="#ff0000" stroke-width="1.2" stroke-linejoin="miter"/>
<polygon points="268.44,444.87 271.16,449.77 265.71,449.77" fill="#fff" stroke="#ff0000" stroke-width="1.2" stroke-linejoin="miter"/>
<polygon points="267.39,444.91 270.11,449.81 264.66,449.81" fill="#fff" stroke="#ff0000" stroke-width="1.2" stroke-linejoin="miter"/>
<polygon points="265.52,445.55 268.24,450.45 262.8,450.45" fill="#fff" stroke="#ff0000" stroke-width="1.2" stroke-linejoin="miter"/>
<polygon points="265.22,446.36 267.94,451.26 262.5,451.26" fill="#fff" stroke="#ff0000" stroke-width="1.2" stroke-linejoin="miter"/>
<polygon points="264.11,447.29 266.83,452.19 261.39,452.19" fill="#fff" stroke="#ff0000" stroke-width="1.2" stroke-linejoin="miter"/>
<polygon points="263.23,447.82 265.95,452.72 260.51,452.72" fill="#fff" stroke="#ff0000" stroke-width="1.2" stroke-linejoin="miter"/>
<polygon points="262.61,448.27 265.34,453.17 259.89,453.17" fill="#fff" stroke="#ff0000" stroke-width="1.2" stroke-linejoin="miter"/>
<polygon points="261.33,449.85 264.05,454.75 258.61,454.75" fill="#fff" stroke="#ff0000" stroke-width="1.2" stroke-linejoin="miter"/>
<polygon points="260.69,449.49 263.41,454.39 257.97,454.39" fill="#fff" stroke="#ff0000" stroke-width="1.2" stroke-linejoin="miter"/>
<polygon points="259.42,450.73 262.14,455.63 256.69,455.63" fill="#fff" stroke="#ff0000" stroke-width="1.2" stroke-linejoin="miter"/>
<polygon points="258.82,451.28 261.54,456.18 256.1,456.18" fill="#fff" stroke="#ff0000" stroke-width="1.2" stroke-linejoin="miter"/>
<polygon points="257.3,451.69 260.02,456.59 254.58,456.59" fill="#fff" stroke="#ff0000" stroke-width="1.2" stroke-linejoin="miter"/>
<polygon points="256.66,452.68 259.38,457.58 253.94,457.58" fill="#fff" stroke="#ff0000" stroke-width="1.2" stroke-linejoin="miter"/>
<polygon points="255.31,453.2 258.03,458.1 252.59,458.1" fill="#fff" stroke="#ff0000" stroke-width="1.2" stroke-linejoin="miter"/>
<polygon points="254.34,454.13 257.07,459.03 251.62,459.03" fill="#fff" stroke="#ff0000" stroke-width="1.2" stroke-linejoin="miter"/>
<polygon points="253.26,454.72 255.98,459.62 250.54,459.62" fill="#fff" stroke="#ff0000" stroke-width="1.2" stroke-linejoin="miter"/>
<polygon points="252.71,455.37 255.44,460.27 249.99,460.27" fill="#fff" stroke="#ff0000" stroke-width="1.2" stroke-linejoin="miter"/>
<polygon points="251.2,456.28 253.92,461.17 248.47,461.17" fill="#fff" stroke="#ff0000" stroke-width="1.2" stroke-linejoin="miter"/>
<polygon points="250.22,456.64 252.95,461.53 247.5,461.53" fill="#fff" stroke="#ff0000" stroke-width="1.2" stroke-linejoin="miter"/>
<polygon points="249.18,456.61 251.9,461.51 246.46,461.51" fill="#fff" stroke="#ff0000" stroke-width="1.2" stroke-linejoin="miter"/>
<polygon points="248.45,457.85 251.17,462.74 245.73,462.74" fill="#fff" stroke="#ff0000" stroke-width="1.2" stroke-linejoin="miter"/>
<polygon points="247.33,458.46 250.05,463.36 244.61,463.36" fill="#fff" stroke="#ff0000" stroke-width="1.2" stroke-linejoin="miter"/>
<polygon points="246.13,458.77 248.85,463.67 243.4,463.67" fill="#fff" stroke="#ff0000" stroke-width="1.2" stroke-linejoin="miter"/>
<polygon points="245.23,460.17 247.96,465.07 242.51,465.07" fill="#fff" stroke="#ff0000" stroke-width="1.2" stroke-linejoin="miter"/>
<polygon points="244.49,460.04 247.21,464.94 241.77,464.94" fill="#fff" stroke="#ff0000" stroke-width="1.2" stroke-linejoin="miter"/>
<polygon points="243.37,460.65 246.09,465.54 240.65,465.54" fill="#fff" stroke="#ff0000" stroke-width="1.2" stroke-linejoin="miter"/>
<polygon points="242.02,461.63 244.74,466.53 239.3,466.53" fill="#fff" stroke="#ff0000" stroke-width="1.2" stroke-linejoin="miter"/>
<polygon points="240.95,461.45 243.67,466.35 238.22,466.35" fill="#fff" stroke="#ff0000" stroke-width="1.2" stroke-linejoin="miter"/>
<polygon points="239.78,462.55 242.5,467.45 237.06,467.45" fill="#fff" stroke="#ff0000" stroke-width="1.2" stroke-linejoin="miter"/>
<polygon points="239.03,463.46 241.75,468.36 236.31,468.36" fill="#fff" stroke="#ff0000" stroke-width="1.2" stroke-linejoin="miter"/>
<polygon points="237.71,463.87 240.43,468.77 234.99,468.77" fill="#fff" stroke="#ff0000" stroke-width="1.2" stroke-linejoin="miter"/>
<polygon points="236.99,464.15 239.71,469.05 234.27,469.05" fill="#fff" stroke="#ff0000" stroke-width="1.2" stroke-linejoin="miter"/>
<polygon points="236.04,464.89 238.76,469.79 233.32,469.79" fill="#fff" stroke="#ff0000" stroke-width="1.2" stroke-linejoin="miter"/>
<polygon points="234.46,465.6 237.18,470.5 231.74,470.5" fill="#fff" stroke="#ff0000" stroke-width="1.2" stroke-linejoin="miter"/>
<polygon points="233.28,465.83 236,470.73 230.56,470.73" fill="#fff" stroke="#ff0000" stroke-width="1.2" stroke-linejoin="miter"/>
<polygon points="232.57,466.47 235.29,471.37 229.85,471.37" fill="#fff" stroke="#ff0000" stroke-width="1.2" stroke-linejoin="miter"/>
<polygon points="231.27,466.87 234,471.76 228.55,471.76" fill="#fff" stroke="#ff0000" stroke-width="1.2" stroke-linejoin="miter"/>
<polygon points="230.37,467.7 233.09,472.6 227.65,472.6" fill="#fff" stroke="#ff0000" stroke-width="1.2" stroke-linejoin="miter"/>
<polygon points="229.1,467.95 231.82,472.85 226.38,472.85" fill="#fff" stroke="#ff0000" stroke-width="1.2" stroke-linejoin="miter"/>
<polygon points="228.18,468.07 230.9,472.97 225.46,472.97" fill="#fff" stroke="#ff0000" stroke-width="1.2" stroke-linejoin="miter"/>
<polygon points="227.98,468.97 230.71,473.87 225.26,473.87" fill="#fff" stroke="#ff0000" stroke-width="1.2" stroke-linejoin="miter"/>
<polygon points="225.66,469.95 228.38,474.84 222.94,474.84" fill="#fff" stroke="#ff0000" stroke-width="1.2" stroke-linejoin="miter"/>
<polygon points="224.71,470.17 227.43,475.07 221.99,475.07" fill="#fff" stroke="#ff0000" stroke-width="1.2" stroke-linejoin="miter"/>
<polygon points="224.21,470.39 226.94,475.29 221.49,475.29" fill="#fff" stroke="#ff0000" stroke-width="1.2" stroke-linejoin="miter"/>
<polygon points="222.75,470.96 225.47,475.86 220.03,475.86" fill="#fff" stroke="#ff0000" stroke-width="1.2" stroke-linejoin="miter"/>
<polygon points="221.76,471.16 224.49,476.06 219.04,476.06" fill="#fff" stroke="#ff0000" stroke-width="1.2" stroke-linejoin="miter"/>
<polygon points="220.35,472.13 223.08,477.03 217.63,477.03" fill="#fff" stroke="#ff0000" stroke-width="1.2" stroke-linejoin="miter"/>
<polygon points="219.96,472.89 222.68,477.79 217.24,477.79" fill="#fff" stroke="#ff0000" stroke-width="1.2" stroke-linejoin="miter"/>
<polygon points="219.09,473.44 221.81,478.34 216.37,478.34" fill="#fff" stroke="#ff0000" stroke-width="1.2" stroke-linejoin="miter"/>
<polygon points="217.34,473.72 220.06,478.62 214.62,478.62" fill="#fff" stroke="#ff0000" stroke-width="1.2" stroke-linejoin="miter"/>
<polygon points="215.81,474 218.53,478.9 213.08,478.9" fill="#fff" stroke="#ff0000" stroke-width="1.2" stroke-linejoin="miter"/>
<polygon points="215.03,474.9 217.75,479.8 212.31,479.8" fill="#fff" stroke="#ff0000" stroke-width="1.2" stroke-linejoin="miter"/>
<polygon points="214.45,475.18 217.18,480.08 211.73,480.08" fill="#fff" stroke="#ff0000" stroke-width="1.2" stroke-linejoin="miter"/>
<polygon points="213,475.41 215.73,480.3 210.28,480.3" fill="#fff" stroke="#ff0000" stroke-width="1.2" stroke-linejoin="miter"/>
<polygon points="212.06,476.47 214.78,481.37 209.34,481.37" fill="#fff" stroke="#ff0000" stroke-width="1.2" stroke-linejoin="miter"/>
<polygon points="211.15,476.68 213.88,481.58 208.43,481.58" fill="#fff" stroke="#ff0000" stroke-width="1.2" stroke-linejoin="miter"/>
<polygon points="210.54,477.8 213.26,482.7 207.82,482.7" fill="#fff" stroke="#ff0000" stroke-width="1.2" stroke-linejoin="miter"/>
<polygon points="208.84,477.83 211.56,482.73 206.12,482.73" fill="#fff" stroke="#ff0000" stroke-width="1.2" stroke-linejoin="miter"/>
<polygon points="207.71,478.58 210.43,483.48 204.99,483.48" fill="#fff" stroke="#ff0000" stroke-width="1.2" stroke-linejoin="miter"/>
<polygon points="206.73,479.23 209.46,484.13 204.01,484.13" fill="#fff" stroke="#ff0000" stroke-width="1.2" stroke-linejoin="miter"/>
<polygon points="205.91,480.05 208.63,484.95 203.19,484.95" fill="#fff" stroke="#ff0000" stroke-width="1.2" stroke-linejoin="miter"/>
<polygon points="204.97,480.19 207.69,485.08 202.25,485.08" fill="#fff" stroke="#ff0000" stroke-width="1.2" stroke-linejoin="miter"/>
<polygon points="203.7,480.7 206.42,485.6 200.98,485.6" fill="#fff" stroke="#ff0000" stroke-width="1.2" stroke-linejoin="miter"/>
<polygon points="202.39,482.03 205.11,486.93 199.67,486.93" fill="#fff" stroke="#ff0000" stroke-width="1.2" stroke-linejoin="miter"/>
<polygon points="201.44,482.72 204.16,487.62 198.71,487.62" fill="#fff" stroke="#ff0000" stroke-width="1.2" stroke-linejoin="miter"/>
<polygon points="200.5,482.91 203.22,487.8 197.77,487.8" fill="#fff" stroke="#ff0000" stroke-width="1.2" stroke-linejoin="miter"/>
<polygon points="199.97,483.56 202.69,488.45 197.24,488.45" fill="#fff" stroke="#ff0000" stroke-width="1.2" stroke-linejoin="miter"/>
<polygon points="198.8,484.2 201.52,489.1 196.08,489.1" fill="#fff" stroke="#ff0000" stroke-width="1.2" stroke-linejoin="miter"/>
<polygon points="197.57,484.93 200.3,489.83 194.85,489.83" fill="#fff" stroke="#ff0000" stroke-width="1.2" stroke-linejoin="miter"/>
<polygon points="196.56,486.19 199.28,491.09 193.84,491.09" fill="#fff" stroke="#ff0000" stroke-width="1.2" stroke-linejoin="miter"/>
<polygon points="195.75,486.94 198.47,491.84 193.02,491.84" fill="#fff" stroke="#ff0000" stroke-width="1.2" stroke-linejoin="miter"/>
<polygon points="194.03,487.15 196.76,492.05 191.31,492.05" fill="#fff" stroke="#ff0000" stroke-width="1.2" stroke-linejoin="miter"/>
<polygon points="194.05,487.78 196.77,492.68 191.33,492.68" fill="#fff" stroke="#ff0000" stroke-width="1.2" stroke-linejoin="miter"/>
<polygon points="193.25,488.78 195.97,493.68 190.53,493.68" fill="#fff" stroke="#ff0000" stroke-width="1.2" stroke-linejoin="miter"/>
<polygon points="191.88,489.44 194.6,494.34 189.15,494.34" fill="#fff" stroke="#ff0000" stroke-width="1.2" stroke-linejoin="miter"/>
<polygon points="191.83,490.09 194.56,494.99 189.11,494.99" fill="#fff" stroke="#ff0000" stroke-width="1.2" stroke-linejoin="miter"/>
<polygon points="190.11,490.59 192.83,495.49 187.39,495.49" fill="#fff" stroke="#ff0000" stroke-width="1.2" stroke-linejoin="miter"/>
<polygon points="189.09,491.04 191.81,495.94 186.37,495.94" fill="#fff" stroke="#ff0000" stroke-width="1.2" stroke-linejoin="miter"/>
<polygon points="188.02,492.87 190.74,497.76 185.29,497.76" fill="#fff" stroke="#ff0000" stroke-width="1.2" stroke-linejoin="miter"/>
<polygon points="187.41,493.01 190.14,497.91 184.69,497.91" fill="#fff" stroke="#ff0000" stroke-width="1.2" stroke-linejoin="miter"/>
<polygon points="186.44,494.07 189.16,498.97 183.72,498.97" fill="#fff" stroke="#ff0000" stroke-width="1.2" stroke-linejoin="miter"/>
<polygon points="185.29,494.79 188.01,499.69 182.57,499.69" fill="#fff" stroke="#ff0000" stroke-width="1.2" stroke-linejoin="miter"/>
<polygon points="184.43,494.88 187.15,499.78 181.71,499.78" fill="#fff" stroke="#ff0000" stroke-width="1.2" stroke-linejoin="miter"/>
<polygon points="183.61,494.77 186.34,499.67 180.89,499.67" fill="#fff" stroke="#ff0000" stroke-width="1.2" stroke-linejoin="miter"/>
<polygon points="181.92,496.2 184.64,501.1 179.19,501.1" fill="#fff" stroke="#ff0000" stroke-width="1.2" stroke-linejoin="miter"/>
<polygon points="180.8,496.73 183.53,501.63 178.08,501.63" fill="#fff" stroke="#ff0000" stroke-width="1.2" stroke-linejoin="miter"/>
<polygon points="179.88,497.23 182.6,502.13 177.16,502.13" fill="#fff" stroke="#ff0000" stroke-width="1.2" stroke-linejoin="miter"/>
<polygon points="179.88,498.28 182.61,503.18 177.16,503.18" fill="#fff" stroke="#ff0000" stroke-width="1.2" stroke-linejoin="miter"/>
<polygon points="178.06,499.15 180.78,504.05 175.33,504.05" fill="#fff" stroke="#ff0000" stroke-width="1.2" stroke-linejoin="miter"/>
<polygon points="177,499.68 179.72,504.58 174.28,504.58" fill="#fff" stroke="#ff0000" stroke-width="1.2" stroke-linejoin="miter"/>
<polygon points="176.18,500.57 178.9,505.47 173.46,505.47" fill="#fff" stroke="#ff0000" stroke-width="1.2" stroke-linejoin="miter"/>
<polygon points="174.65,500.99 177.38,505.88 171.93,505.88" fill="#fff" stroke="#ff0000" stroke-width="1.2" stroke-linejoin="miter"/>
<polygon points="174.12,501.08 176.84,505.98 171.4,505.98" fill="#fff" stroke="#ff0000" stroke-width="1.2" stroke-linejoin="miter"/>
<polygon points="173.41,501.84 176.13,506.74 170.69,506.74" fill="#fff" stroke="#ff0000" stroke-width="1.2" stroke-linejoin="miter"/>
<polygon points="172.59,502.93 175.31,507.83 169.86,507.83" fill="#fff" stroke="#ff0000" stroke-width="1.2" stroke-linejoin="miter"/>
<polygon points="311.6,415.18 314.68,420.72 308.52,420.72" fill="#fff" stroke="#ff0000" stroke-width="1.1" stroke-linejoin="miter"/>
<circle cx="363.04" cy="445.84" r="1.96" fill="#fff" stroke="#000" stroke-width="1.25"/>
<circle cx="359.61" cy="446.53" r="1.96" fill="#fff" stroke="#000" stroke-width="1.25"/>
<circle cx="356.17" cy="447.22" r="1.96" fill="#fff" stroke="#000" stroke-width="1.25"/>
<circle cx="352.74" cy="447.92" r="1.96" fill="#fff" stroke="#000" stroke-width="1.25"/>
<circle cx="349.31" cy="448.61" r="1.96" fill="#fff" stroke="#000" stroke-width="1.25"/>
<circle cx="345.88" cy="449.31" r="1.96" fill="#fff" stroke="#000" stroke-width="1.25"/>
<circle cx="342.45" cy="450" r="1.96" fill="#fff" stroke="#000" stroke-width="1.25"/>
<circle cx="339.02" cy="450.7" r="1.96" fill="#fff" stroke="#000" stroke-width="1.25"/>
<circle cx="335.59" cy="451.39" r="1.96" fill="#fff" stroke="#000" stroke-width="1.25"/>
<circle cx="332.16" cy="452.09" r="1.96" fill="#fff" stroke="#000" stroke-width="1.25"/>
<circle cx="328.73" cy="452.78" r="1.96" fill="#fff" stroke="#000" stroke-width="1.25"/>
<circle cx="325.3" cy="453.47" r="1.96" fill="#fff" stroke="#000" stroke-width="1.25"/>
<circle cx="321.87" cy="454.17" r="1.96" fill="#fff" stroke="#000" stroke-width="1.25"/>
<circle cx="318.44" cy="454.87" r="1.96" fill="#fff" stroke="#000" stroke-width="1.25"/>
<circle cx="315.01" cy="455.57" r="1.96" fill="#fff" stroke="#000" stroke-width="1.25"/>
<circle cx="311.58" cy="456.27" r="1.96" fill="#fff" stroke="#000" stroke-width="1.25"/>
<circle cx="308.16" cy="456.98" r="1.96" fill="#fff" stroke="#000" stroke-width="1.25"/>
<circle cx="304.73" cy="457.69" r="1.96" fill="#fff" stroke="#000" stroke-width="1.25"/>
<circle cx="301.3" cy="458.41" r="1.96" fill="#fff" stroke="#000" stroke-width="1.25"/>
<circle cx="297.88" cy="459.14" r="1.96" fill="#fff" stroke="#000" stroke-width="1.25"/>
<circle cx="294.46" cy="459.88" r="1.96" fill="#fff" stroke="#000" stroke-width="1.25"/>
<circle cx="291.04" cy="460.62" r="1.96" fill="#fff" stroke="#000" stroke-width="1.25"/>
<circle cx="287.62" cy="461.36" r="1.96" fill="#fff" stroke="#000" stroke-width="1.25"/>
<circle cx="284.2" cy="462.13" r="1.96" fill="#fff" stroke="#000" stroke-width="1.25"/>
<circle cx="280.79" cy="462.91" r="1.96" fill="#fff" stroke="#000" stroke-width="1.25"/>
<circle cx="277.38" cy="463.71" r="1.96" fill="#fff" stroke="#000" stroke-width="1.25"/>
<circle cx="273.98" cy="464.53" r="1.96" fill="#fff" stroke="#000" stroke-width="1.25"/>
<circle cx="270.58" cy="465.37" r="1.96" fill="#fff" stroke="#000" stroke-width="1.25"/>
<circle cx="267.19" cy="466.24" r="1.96" fill="#fff" stroke="#000" stroke-width="1.25"/>
<circle cx="263.82" cy="467.16" r="1.96" fill="#fff" stroke="#000" stroke-width="1.25"/>
<circle cx="260.45" cy="468.13" r="1.96" fill="#fff" stroke="#000" stroke-width="1.25"/>
<circle cx="257.1" cy="469.12" r="1.96" fill="#fff" stroke="#000" stroke-width="1.25"/>
<circle cx="253.74" cy="470.1" r="1.96" fill="#fff" stroke="#000" stroke-width="1.25"/>
<circle cx="250.37" cy="471.05" r="1.96" fill="#fff" stroke="#000" stroke-width="1.25"/>
<circle cx="247" cy="472" r="1.96" fill="#fff" stroke="#000" stroke-width="1.25"/>
<circle cx="243.66" cy="473.04" r="1.96" fill="#fff" stroke="#000" stroke-width="1.25"/>
<circle cx="240.33" cy="474.11" r="1.96" fill="#fff" stroke="#000" stroke-width="1.25"/>
<circle cx="237" cy="475.2" r="1.96" fill="#fff" stroke="#000" stroke-width="1.25"/>
<circle cx="233.3" cy="476.3" r="1.96" fill="#fff" stroke="#000" stroke-width="1.25"/>
<circle cx="229.9" cy="477.1" r="1.96" fill="#fff" stroke="#000" stroke-width="1.25"/>
<circle cx="226.5" cy="478" r="1.96" fill="#fff" stroke="#000" stroke-width="1.25"/>
<circle cx="223.3" cy="479.2" r="1.96" fill="#fff" stroke="#000" stroke-width="1.25"/>
<circle cx="220.5" cy="480.3" r="1.96" fill="#fff" stroke="#000" stroke-width="1.25"/>
<circle cx="217.9" cy="481.5" r="1.96" fill="#fff" stroke="#000" stroke-width="1.25"/>
<circle cx="215.2" cy="483" r="1.96" fill="#fff" stroke="#000" stroke-width="1.25"/>
<circle cx="212.7" cy="484.3" r="1.96" fill="#fff" stroke="#000" stroke-width="1.25"/>
<circle cx="210.4" cy="485.7" r="1.96" fill="#fff" stroke="#000" stroke-width="1.25"/>
<circle cx="208.1" cy="487" r="1.96" fill="#fff" stroke="#000" stroke-width="1.25"/>
<circle cx="206.1" cy="488.3" r="1.96" fill="#fff" stroke="#000" stroke-width="1.25"/>
<circle cx="204" cy="489.7" r="1.96" fill="#fff" stroke="#000" stroke-width="1.25"/>
<circle cx="202" cy="491.2" r="1.96" fill="#fff" stroke="#000" stroke-width="1.25"/>
<circle cx="200.3" cy="492.7" r="1.96" fill="#fff" stroke="#000" stroke-width="1.25"/>
<circle cx="198.6" cy="494.3" r="1.96" fill="#fff" stroke="#000" stroke-width="1.25"/>
<circle cx="197.5" cy="496.1" r="1.96" fill="#fff" stroke="#000" stroke-width="1.25"/>
<circle cx="197.1" cy="498.1" r="1.96" fill="#fff" stroke="#000" stroke-width="1.25"/>
<circle cx="197.8" cy="500" r="1.96" fill="#fff" stroke="#000" stroke-width="1.25"/>
<circle cx="199.2" cy="501.9" r="1.96" fill="#fff" stroke="#000" stroke-width="1.25"/>
<circle cx="201.5" cy="503.3" r="1.96" fill="#fff" stroke="#000" stroke-width="1.25"/>
<circle cx="204.3" cy="504.4" r="1.96" fill="#fff" stroke="#000" stroke-width="1.25"/>
<circle cx="218.7" cy="505.8" r="1.96" fill="#fff" stroke="#000" stroke-width="1.25"/>
<circle cx="224.4" cy="506.3" r="1.96" fill="#fff" stroke="#000" stroke-width="1.25"/>
<polygon points="311.86,414.74 306.84,411.95 306.84,417.52" fill="#fff" stroke="#0000ff" stroke-width="1.1"/>
<polygon points="310.91,415.44 305.9,412.65 305.9,418.22" fill="#fff" stroke="#0000ff" stroke-width="1.1"/>
<polygon points="309.74,416.84 304.73,414.05 304.73,419.63" fill="#fff" stroke="#0000ff" stroke-width="1.1"/>
<polygon points="308.8,418.1 303.79,415.31 303.79,420.88" fill="#fff" stroke="#0000ff" stroke-width="1.1"/>
<polygon points="307.89,419.05 302.88,416.27 302.88,421.84" fill="#fff" stroke="#0000ff" stroke-width="1.1"/>
<polygon points="307.18,420.88 302.16,418.09 302.16,423.67" fill="#fff" stroke="#0000ff" stroke-width="1.1"/>
<polygon points="305.74,421.5 300.73,418.71 300.73,424.29" fill="#fff" stroke="#0000ff" stroke-width="1.1"/>
<polygon points="304.87,422.91 299.85,420.13 299.85,425.7" fill="#fff" stroke="#0000ff" stroke-width="1.1"/>
<polygon points="304.24,423.51 299.23,420.72 299.23,426.29" fill="#fff" stroke="#0000ff" stroke-width="1.1"/>
<polygon points="302.71,424.67 297.69,421.89 297.69,427.46" fill="#fff" stroke="#0000ff" stroke-width="1.1"/>
<polygon points="301.62,425.68 296.6,422.9 296.6,428.47" fill="#fff" stroke="#0000ff" stroke-width="1.1"/>
<polygon points="300.97,426.92 295.95,424.14 295.95,429.71" fill="#fff" stroke="#0000ff" stroke-width="1.1"/>
<polygon points="300.24,428.52 295.22,425.73 295.22,431.3" fill="#fff" stroke="#0000ff" stroke-width="1.1"/>
<polygon points="298.71,429.23 293.69,426.44 293.69,432.02" fill="#fff" stroke="#0000ff" stroke-width="1.1"/>
<polygon points="297.82,430.9 292.81,428.12 292.81,433.69" fill="#fff" stroke="#0000ff" stroke-width="1.1"/>
<polygon points="296.8,431.41 291.78,428.62 291.78,434.2" fill="#fff" stroke="#0000ff" stroke-width="1.1"/>
<polygon points="296,432.96 290.99,430.18 290.99,435.75" fill="#fff" stroke="#0000ff" stroke-width="1.1"/>
<polygon points="294.9,434.38 289.88,431.59 289.88,437.17" fill="#fff" stroke="#0000ff" stroke-width="1.1"/>
<polygon points="294.12,435.27 289.11,432.48 289.11,438.05" fill="#fff" stroke="#0000ff" stroke-width="1.1"/>
<polygon points="292.91,436.3 287.9,433.52 287.9,439.09" fill="#fff" stroke="#0000ff" stroke-width="1.1"/>
<polygon points="292.1,436.95 287.08,434.17 287.08,439.74" fill="#fff" stroke="#0000ff" stroke-width="1.1"/>
<polygon points="291.22,438.2 286.21,435.42 286.21,440.99" fill="#fff" stroke="#0000ff" stroke-width="1.1"/>
<polygon points="290.18,439.42 285.17,436.63 285.17,442.21" fill="#fff" stroke="#0000ff" stroke-width="1.1"/>
<polygon points="289.67,440.96 284.65,438.18 284.65,443.75" fill="#fff" stroke="#0000ff" stroke-width="1.1"/>
<polygon points="288.46,442.25 283.44,439.46 283.44,445.03" fill="#fff" stroke="#0000ff" stroke-width="1.1"/>
<polygon points="287.02,442.7 282.01,439.91 282.01,445.49" fill="#fff" stroke="#0000ff" stroke-width="1.1"/>
<polygon points="286.29,444.56 281.27,441.77 281.27,447.35" fill="#fff" stroke="#0000ff" stroke-width="1.1"/>
<polygon points="285.43,445.7 280.42,442.91 280.42,448.48" fill="#fff" stroke="#0000ff" stroke-width="1.1"/>
<polygon points="284.67,446.36 279.66,443.57 279.66,449.15" fill="#fff" stroke="#0000ff" stroke-width="1.1"/>
<polygon points="283.58,448.28 278.56,445.5 278.56,451.07" fill="#fff" stroke="#0000ff" stroke-width="1.1"/>
<polygon points="282.44,448.56 277.43,445.78 277.43,451.35" fill="#fff" stroke="#0000ff" stroke-width="1.1"/>
<polygon points="281.56,450.07 276.55,447.28 276.55,452.85" fill="#fff" stroke="#0000ff" stroke-width="1.1"/>
<polygon points="280.75,451.13 275.73,448.34 275.73,453.91" fill="#fff" stroke="#0000ff" stroke-width="1.1"/>
<polygon points="279.71,451.99 274.7,449.2 274.7,454.77" fill="#fff" stroke="#0000ff" stroke-width="1.1"/>
<polygon points="278.91,453.97 273.89,451.18 273.89,456.75" fill="#fff" stroke="#0000ff" stroke-width="1.1"/>
<polygon points="278.03,454.42 273.01,451.63 273.01,457.21" fill="#fff" stroke="#0000ff" stroke-width="1.1"/>
<polygon points="276.82,455.22 271.81,452.44 271.81,458.01" fill="#fff" stroke="#0000ff" stroke-width="1.1"/>
<polygon points="275.82,456.98 270.8,454.2 270.8,459.77" fill="#fff" stroke="#0000ff" stroke-width="1.1"/>
<polygon points="274.52,458.18 269.51,455.4 269.51,460.97" fill="#fff" stroke="#0000ff" stroke-width="1.1"/>
<polygon points="273.75,459.41 268.73,456.62 268.73,462.19" fill="#fff" stroke="#0000ff" stroke-width="1.1"/>
<polygon points="272.7,460.33 267.69,457.55 267.69,463.12" fill="#fff" stroke="#0000ff" stroke-width="1.1"/>
<polygon points="271.19,461.09 266.18,458.3 266.18,463.88" fill="#fff" stroke="#0000ff" stroke-width="1.1"/>
<polygon points="270.44,462.46 265.43,459.68 265.43,465.25" fill="#fff" stroke="#0000ff" stroke-width="1.1"/>
<polygon points="269.47,463.77 264.45,460.98 264.45,466.55" fill="#fff" stroke="#0000ff" stroke-width="1.1"/>
<polygon points="268.19,464.41 263.17,461.63 263.17,467.2" fill="#fff" stroke="#0000ff" stroke-width="1.1"/>
<polygon points="267.33,465.43 262.32,462.65 262.32,468.22" fill="#fff" stroke="#0000ff" stroke-width="1.1"/>
<polygon points="266.27,466.37 261.26,463.58 261.26,469.15" fill="#fff" stroke="#0000ff" stroke-width="1.1"/>
<polygon points="265.35,467.41 260.34,464.63 260.34,470.2" fill="#fff" stroke="#0000ff" stroke-width="1.1"/>
<polygon points="264.15,468.46 259.14,465.67 259.14,471.25" fill="#fff" stroke="#0000ff" stroke-width="1.1"/>
<polygon points="263.09,469.13 258.08,466.35 258.08,471.92" fill="#fff" stroke="#0000ff" stroke-width="1.1"/>
<polygon points="261.73,470.31 256.72,467.53 256.72,473.1" fill="#fff" stroke="#0000ff" stroke-width="1.1"/>
<polygon points="260.52,471.63 255.51,468.85 255.51,474.42" fill="#fff" stroke="#0000ff" stroke-width="1.1"/>
<polygon points="259.06,472.03 254.04,469.24 254.04,474.82" fill="#fff" stroke="#0000ff" stroke-width="1.1"/>
<polygon points="257.92,473.32 252.91,470.53 252.91,476.11" fill="#fff" stroke="#0000ff" stroke-width="1.1"/>
<polygon points="256.57,474.23 251.55,471.45 251.55,477.02" fill="#fff" stroke="#0000ff" stroke-width="1.1"/>
<polygon points="255.55,474.93 250.53,472.14 250.53,477.71" fill="#fff" stroke="#0000ff" stroke-width="1.1"/>
<polygon points="254.61,476.24 249.6,473.45 249.6,479.02" fill="#fff" stroke="#0000ff" stroke-width="1.1"/>
<polygon points="253.42,477.03 248.41,474.24 248.41,479.81" fill="#fff" stroke="#0000ff" stroke-width="1.1"/>
<polygon points="252.42,478.06 247.4,475.27 247.4,480.84" fill="#fff" stroke="#0000ff" stroke-width="1.1"/>
<polygon points="250.7,479 245.68,476.21 245.68,481.79" fill="#fff" stroke="#0000ff" stroke-width="1.1"/>
<polygon points="250.15,480.3 245.14,477.51 245.14,483.08" fill="#fff" stroke="#0000ff" stroke-width="1.1"/>
<polygon points="249.43,481.16 244.41,478.37 244.41,483.94" fill="#fff" stroke="#0000ff" stroke-width="1.1"/>
<polygon points="247.86,481.77 242.84,478.99 242.84,484.56" fill="#fff" stroke="#0000ff" stroke-width="1.1"/>
<polygon points="246.74,483.15 241.72,480.37 241.72,485.94" fill="#fff" stroke="#0000ff" stroke-width="1.1"/>
<polygon points="245.88,483.79 240.86,481 240.86,486.58" fill="#fff" stroke="#0000ff" stroke-width="1.1"/>
<polygon points="244.57,485.2 239.56,482.42 239.56,487.99" fill="#fff" stroke="#0000ff" stroke-width="1.1"/>
<polygon points="243.92,486.19 238.9,483.4 238.9,488.97" fill="#fff" stroke="#0000ff" stroke-width="1.1"/>
<polygon points="242.45,487.15 237.43,484.36 237.43,489.93" fill="#fff" stroke="#0000ff" stroke-width="1.1"/>
<polygon points="241.61,488.37 236.59,485.58 236.59,491.16" fill="#fff" stroke="#0000ff" stroke-width="1.1"/>
<polygon points="241.04,490 236.03,487.21 236.03,492.79" fill="#fff" stroke="#0000ff" stroke-width="1.1"/>
<polygon points="240.24,491.31 235.22,488.52 235.22,494.09" fill="#fff" stroke="#0000ff" stroke-width="1.1"/>
<polygon points="239.36,492.49 234.34,489.7 234.34,495.28" fill="#fff" stroke="#0000ff" stroke-width="1.1"/>
<polygon points="238.88,493.83 233.87,491.05 233.87,496.62" fill="#fff" stroke="#0000ff" stroke-width="1.1"/>
<polygon points="238.97,495.29 233.95,492.5 233.95,498.08" fill="#fff" stroke="#0000ff" stroke-width="1.1"/>
<polygon points="238.41,496.73 233.39,493.95 233.39,499.52" fill="#fff" stroke="#0000ff" stroke-width="1.1"/>
<polygon points="239,497.92 233.98,495.13 233.98,500.71" fill="#fff" stroke="#0000ff" stroke-width="1.1"/>
<polygon points="239.68,499.78 234.66,496.99 234.66,502.56" fill="#fff" stroke="#0000ff" stroke-width="1.1"/>
<polygon points="241.28,500.51 236.27,497.72 236.27,503.3" fill="#fff" stroke="#0000ff" stroke-width="1.1"/>
<polygon points="242.39,501.69 237.38,498.91 237.38,504.48" fill="#fff" stroke="#0000ff" stroke-width="1.1"/>
<polygon points="243.29,502.03 238.27,499.24 238.27,504.82" fill="#fff" stroke="#0000ff" stroke-width="1.1"/>
<polygon points="244.99,502.44 239.97,499.65 239.97,505.22" fill="#fff" stroke="#0000ff" stroke-width="1.1"/>
<polygon points="252.1,503.4 247.08,500.61 247.08,506.19" fill="#fff" stroke="#0000ff" stroke-width="1.1"/>
<polygon points="265.2,504.5 260.18,501.71 260.18,507.29" fill="#fff" stroke="#0000ff" stroke-width="1.1"/>
<polygon points="313.2,413.8 307.37,410.56 307.37,417.04" fill="#fff" stroke="#0000ff" stroke-width="1.1"/>
<polygon points="241,336.4 246.83,333.16 246.83,339.64" fill="#fff" stroke="#00ff00" stroke-width="1.25"/>
<polygon points="238.93,340.34 244.77,337.1 244.77,343.58" fill="#fff" stroke="#00ff00" stroke-width="1.25"/>
<polygon points="236.84,344.27 242.68,341.03 242.68,347.51" fill="#fff" stroke="#00ff00" stroke-width="1.25"/>
<polygon points="234.73,348.19 240.56,344.95 240.56,351.43" fill="#fff" stroke="#00ff00" stroke-width="1.25"/>
<polygon points="232.59,352.09 238.42,348.85 238.42,355.33" fill="#fff" stroke="#00ff00" stroke-width="1.25"/>
<polygon points="230.43,355.98 236.26,352.74 236.26,359.22" fill="#fff" stroke="#00ff00" stroke-width="1.25"/>
<polygon points="228.24,359.85 234.07,356.61 234.07,363.09" fill="#fff" stroke="#00ff00" stroke-width="1.25"/>
<polygon points="226.02,363.71 231.86,360.47 231.86,366.95" fill="#fff" stroke="#00ff00" stroke-width="1.25"/>
<polygon points="223.8,367.57 229.63,364.33 229.63,370.81" fill="#fff" stroke="#00ff00" stroke-width="1.25"/>
<polygon points="221.57,371.41 227.4,368.17 227.4,374.65" fill="#fff" stroke="#00ff00" stroke-width="1.25"/>
<polygon points="219.29,375.24 225.13,372 225.13,378.48" fill="#fff" stroke="#00ff00" stroke-width="1.25"/>
<polygon points="216.99,379.05 222.82,375.81 222.82,382.29" fill="#fff" stroke="#00ff00" stroke-width="1.25"/>
<polygon points="214.69,382.86 220.52,379.62 220.52,386.1" fill="#fff" stroke="#00ff00" stroke-width="1.25"/>
<polygon points="212.43,386.69 218.26,383.45 218.26,389.93" fill="#fff" stroke="#00ff00" stroke-width="1.25"/>
<polygon points="210.23,390.56 216.06,387.32 216.06,393.8" fill="#fff" stroke="#00ff00" stroke-width="1.25"/>
<polygon points="208.14,394.49 213.97,391.25 213.97,397.73" fill="#fff" stroke="#00ff00" stroke-width="1.25"/>
<polygon points="206.14,398.46 211.98,395.22 211.98,401.7" fill="#fff" stroke="#00ff00" stroke-width="1.25"/>
<polygon points="204.19,402.46 210.02,399.22 210.02,405.7" fill="#fff" stroke="#00ff00" stroke-width="1.25"/>
<polygon points="202.23,406.46 208.06,403.22 208.06,409.7" fill="#fff" stroke="#00ff00" stroke-width="1.25"/>
<polygon points="200.21,410.42 206.04,407.18 206.04,413.66" fill="#fff" stroke="#00ff00" stroke-width="1.25"/>
<polygon points="198.16,414.37 204,411.13 204,417.61" fill="#fff" stroke="#00ff00" stroke-width="1.25"/>
<polygon points="195.2,420 201.03,416.76 201.03,423.24" fill="#fff" stroke="#00ff00" stroke-width="1.25"/>
<polygon points="192.4,424.5 198.23,421.26 198.23,427.74" fill="#fff" stroke="#00ff00" stroke-width="1.25"/>
<polygon points="189.3,429.6 195.13,426.36 195.13,432.84" fill="#fff" stroke="#00ff00" stroke-width="1.25"/>
<polygon points="186.6,434.4 192.43,431.16 192.43,437.64" fill="#fff" stroke="#00ff00" stroke-width="1.25"/>
<polygon points="183.5,438.9 189.33,435.66 189.33,442.14" fill="#fff" stroke="#00ff00" stroke-width="1.25"/>
<polygon points="180.4,443.4 186.23,440.16 186.23,446.64" fill="#fff" stroke="#00ff00" stroke-width="1.25"/>
<polygon points="176.9,447.5 182.73,444.26 182.73,450.74" fill="#fff" stroke="#00ff00" stroke-width="1.25"/>
<polygon points="173.8,452 179.63,448.76 179.63,455.24" fill="#fff" stroke="#00ff00" stroke-width="1.25"/>
<polygon points="170.4,456.1 176.23,452.86 176.23,459.34" fill="#fff" stroke="#00ff00" stroke-width="1.25"/>
<polygon points="166.6,460.6 172.43,457.36 172.43,463.84" fill="#fff" stroke="#00ff00" stroke-width="1.25"/>
<polygon points="162.5,464.7 168.33,461.46 168.33,467.94" fill="#fff" stroke="#00ff00" stroke-width="1.25"/>
<polygon points="158,468.8 163.83,465.56 163.83,472.04" fill="#fff" stroke="#00ff00" stroke-width="1.25"/>
<polygon points="153.9,472.3 159.73,469.06 159.73,475.54" fill="#fff" stroke="#00ff00" stroke-width="1.25"/>
<polygon points="148.7,476.8 154.53,473.56 154.53,480.04" fill="#fff" stroke="#00ff00" stroke-width="1.25"/>
<polygon points="143.6,480.2 149.43,476.96 149.43,483.44" fill="#fff" stroke="#00ff00" stroke-width="1.25"/>
<polygon points="138.4,483.6 144.23,480.36 144.23,486.84" fill="#fff" stroke="#00ff00" stroke-width="1.25"/>
<polygon points="132.2,487.1 138.03,483.86 138.03,490.34" fill="#fff" stroke="#00ff00" stroke-width="1.25"/>
<polygon points="125.3,491.2 131.13,487.96 131.13,494.44" fill="#fff" stroke="#00ff00" stroke-width="1.25"/>
<polygon points="119.5,493.3 125.33,490.06 125.33,496.54" fill="#fff" stroke="#00ff00" stroke-width="1.25"/>
<polygon points="108.1,497.4 113.93,494.16 113.93,500.64" fill="#fff" stroke="#00ff00" stroke-width="1.25"/>
<polygon points="97.1,501.9 102.93,498.66 102.93,505.14" fill="#fff" stroke="#00ff00" stroke-width="1.25"/>
<polygon points="81,504.3 86.83,501.06 86.83,507.54" fill="#fff" stroke="#00ff00" stroke-width="1.25"/>
<polygon points="57.6,506.7 63.43,503.46 63.43,509.94" fill="#fff" stroke="#00ff00" stroke-width="1.25"/>
<circle cx="211.4" cy="254.2" r="2.25" fill="#fff" stroke="#008000" stroke-width="1.4"/>
<circle cx="209.88" cy="258.91" r="2.25" fill="#fff" stroke="#008000" stroke-width="1.4"/>
<circle cx="208.36" cy="263.62" r="2.25" fill="#fff" stroke="#008000" stroke-width="1.4"/>
<circle cx="206.84" cy="268.33" r="2.25" fill="#fff" stroke="#008000" stroke-width="1.4"/>
<circle cx="205.31" cy="273.04" r="2.25" fill="#fff" stroke="#008000" stroke-width="1.4"/>
<circle cx="203.79" cy="277.75" r="2.25" fill="#fff" stroke="#008000" stroke-width="1.4"/>
<circle cx="202.27" cy="282.46" r="2.25" fill="#fff" stroke="#008000" stroke-width="1.4"/>
<circle cx="200.74" cy="287.17" r="2.25" fill="#fff" stroke="#008000" stroke-width="1.4"/>
<circle cx="199.22" cy="291.88" r="2.25" fill="#fff" stroke="#008000" stroke-width="1.4"/>
<circle cx="197.7" cy="296.59" r="2.25" fill="#fff" stroke="#008000" stroke-width="1.4"/>
<circle cx="196.21" cy="301.31" r="2.25" fill="#fff" stroke="#008000" stroke-width="1.4"/>
<circle cx="194.72" cy="306.03" r="2.25" fill="#fff" stroke="#008000" stroke-width="1.4"/>
<circle cx="193.22" cy="310.75" r="2.25" fill="#fff" stroke="#008000" stroke-width="1.4"/>
<circle cx="191.71" cy="315.46" r="2.25" fill="#fff" stroke="#008000" stroke-width="1.4"/>
<circle cx="190.18" cy="320.17" r="2.25" fill="#fff" stroke="#008000" stroke-width="1.4"/>
<circle cx="188.61" cy="324.86" r="2.25" fill="#fff" stroke="#008000" stroke-width="1.4"/>
<circle cx="187" cy="329.55" r="2.25" fill="#fff" stroke="#008000" stroke-width="1.4"/>
<circle cx="185.33" cy="334.21" r="2.25" fill="#fff" stroke="#008000" stroke-width="1.4"/>
<circle cx="183.61" cy="338.85" r="2.25" fill="#fff" stroke="#008000" stroke-width="1.4"/>
<circle cx="181.84" cy="343.47" r="2.25" fill="#fff" stroke="#008000" stroke-width="1.4"/>
<circle cx="180.05" cy="348.08" r="2.25" fill="#fff" stroke="#008000" stroke-width="1.4"/>
<circle cx="178.23" cy="352.69" r="2.25" fill="#fff" stroke="#008000" stroke-width="1.4"/>
<circle cx="176.42" cy="357.3" r="2.25" fill="#fff" stroke="#008000" stroke-width="1.4"/>
<circle cx="174.63" cy="361.91" r="2.25" fill="#fff" stroke="#008000" stroke-width="1.4"/>
<circle cx="172.86" cy="366.53" r="2.25" fill="#fff" stroke="#008000" stroke-width="1.4"/>
<circle cx="171.13" cy="371.17" r="2.25" fill="#fff" stroke="#008000" stroke-width="1.4"/>
<circle cx="169.42" cy="375.82" r="2.25" fill="#fff" stroke="#008000" stroke-width="1.4"/>
<circle cx="167.71" cy="380.46" r="2.25" fill="#fff" stroke="#008000" stroke-width="1.4"/>
<circle cx="166.02" cy="385.11" r="2.25" fill="#fff" stroke="#008000" stroke-width="1.4"/>
<circle cx="164.33" cy="389.77" r="2.25" fill="#fff" stroke="#008000" stroke-width="1.4"/>
<circle cx="162.64" cy="394.42" r="2.25" fill="#fff" stroke="#008000" stroke-width="1.4"/>
<circle cx="160.94" cy="399.07" r="2.25" fill="#fff" stroke="#008000" stroke-width="1.4"/>
<circle cx="159.24" cy="403.72" r="2.25" fill="#fff" stroke="#008000" stroke-width="1.4"/>
<circle cx="157.55" cy="408.37" r="2.25" fill="#fff" stroke="#008000" stroke-width="1.4"/>
<circle cx="155.85" cy="413.02" r="2.25" fill="#fff" stroke="#008000" stroke-width="1.4"/>
<circle cx="154.05" cy="417.63" r="2.25" fill="#fff" stroke="#008000" stroke-width="1.4"/>
<circle cx="151.6" cy="423.4" r="2.25" fill="#fff" stroke="#008000" stroke-width="1.4"/>
<circle cx="149.6" cy="427.9" r="2.25" fill="#fff" stroke="#008000" stroke-width="1.4"/>
<circle cx="147.5" cy="433.1" r="2.25" fill="#fff" stroke="#008000" stroke-width="1.4"/>
<circle cx="145.4" cy="437.9" r="2.25" fill="#fff" stroke="#008000" stroke-width="1.4"/>
<circle cx="143.4" cy="443" r="2.25" fill="#fff" stroke="#008000" stroke-width="1.4"/>
<circle cx="141.3" cy="447.5" r="2.25" fill="#fff" stroke="#008000" stroke-width="1.4"/>
<circle cx="138.9" cy="452.7" r="2.25" fill="#fff" stroke="#008000" stroke-width="1.4"/>
<circle cx="136.8" cy="457.2" r="2.25" fill="#fff" stroke="#008000" stroke-width="1.4"/>
<circle cx="134.4" cy="462" r="2.25" fill="#fff" stroke="#008000" stroke-width="1.4"/>
<circle cx="132" cy="467.1" r="2.25" fill="#fff" stroke="#008000" stroke-width="1.4"/>
<circle cx="128.9" cy="471.6" r="2.25" fill="#fff" stroke="#008000" stroke-width="1.4"/>
<circle cx="125.8" cy="475.7" r="2.25" fill="#fff" stroke="#008000" stroke-width="1.4"/>
<circle cx="122" cy="480.2" r="2.25" fill="#fff" stroke="#008000" stroke-width="1.4"/>
<circle cx="117.2" cy="484.3" r="2.25" fill="#fff" stroke="#008000" stroke-width="1.4"/>
<circle cx="112.8" cy="488.1" r="2.25" fill="#fff" stroke="#008000" stroke-width="1.4"/>
<circle cx="107.6" cy="492.9" r="2.25" fill="#fff" stroke="#008000" stroke-width="1.4"/>
<circle cx="102.4" cy="497.4" r="2.25" fill="#fff" stroke="#008000" stroke-width="1.4"/>
<circle cx="97.3" cy="501.5" r="2.25" fill="#fff" stroke="#008000" stroke-width="1.4"/>
<circle cx="90.4" cy="505" r="2.25" fill="#fff" stroke="#008000" stroke-width="1.4"/>
<line x1="60" y1="505.4" x2="383.8" y2="441.6" stroke="#ff0000" stroke-width="2" />
</g>
<line x1="69.3" y1="258.2" x2="99.9" y2="258.2" stroke="#000" stroke-width="1.3" />
<circle cx="84.6" cy="258.2" r="2.81" fill="#000" stroke="#000" stroke-width="1"/>
<text x="102.6" y="262.5" font-size="13.7" text-anchor="start" fill="#000" >x = 0.0</text>
<line x1="69.3" y1="274.4" x2="99.9" y2="274.4" stroke="#ff0000" stroke-width="1.3" />
<polygon points="84.6,271.04 88.16,277.46 81.04,277.46" fill="#ff0000" stroke="#ff0000" stroke-width="1" stroke-linejoin="miter"/>
<text x="102.6" y="278.7" font-size="13.7" text-anchor="start" fill="#000" >x = 0.05</text>
<line x1="69.3" y1="290.7" x2="99.9" y2="290.7" stroke="#0000ff" stroke-width="1.3" />
<polygon points="89.06,290.7 82.64,287.14 82.64,294.26" fill="#0000ff" stroke="#0000ff" stroke-width="1"/>
<text x="102.6" y="295" font-size="13.7" text-anchor="start" fill="#000" >x = 0.10</text>
<line x1="69.3" y1="307.1" x2="99.9" y2="307.1" stroke="#00ff00" stroke-width="1.3" />
<polygon points="80.14,307.1 86.56,303.54 86.56,310.66" fill="#00ff00" stroke="#00ff00" stroke-width="1"/>
<text x="102.6" y="311.4" font-size="13.7" text-anchor="start" fill="#000" >x = 0.15</text>
<line x1="69.3" y1="323.4" x2="99.9" y2="323.4" stroke="#008000" stroke-width="1.3" />
<polygon points="84.6,319.98 85.4,322.29 87.85,322.34 85.9,323.82 86.61,326.17 84.6,324.77 82.59,326.17 83.3,323.82 81.35,322.34 83.8,322.29" fill="#008000" stroke="#008000" stroke-width="0.8"/>
<text x="102.6" y="327.7" font-size="13.7" text-anchor="start" fill="#000" >x = 0.20</text>
<text x="238.2" y="266.2" font-size="24" text-anchor="middle" fill="#000" >(b)</text>
<g transform="translate(0,551.5) rotate(0)">
<text x="136.5" y="0" font-size="19.4" text-anchor="start">H/M (10</text>
<text x="203.2" y="-9.6" font-size="12.3" text-anchor="start">5</text>
<text x="213.6" y="0" font-size="19.4" text-anchor="start">Oe (μ</text>
<text x="255.8" y="7.5" font-size="12.5" text-anchor="start">B</text>
<text x="263.8" y="0" font-size="19.4" text-anchor="start">/f.u.)</text>
<text x="302" y="-9.6" font-size="12.3" text-anchor="start">-1</text>
<text x="311.3" y="0" font-size="19.4" text-anchor="start">)</text>
</g>
<g transform="translate(26.3,449.2) rotate(-90)" class="rot">
<text x="-0.3" y="0" font-size="19.4" text-anchor="start">M</text>
<text x="16" y="-9.8" font-size="12.2" text-anchor="start">2</text>
<text x="24.6" y="0" font-size="19.4" text-anchor="start">(10</text>
<text x="53.4" y="-9.8" font-size="12.2" text-anchor="start">-3</text>
<text x="67" y="0" font-size="19.4" text-anchor="start">(μ</text>
<text x="84.2" y="7.7" font-size="12.5" text-anchor="start">B</text>
<text x="92.4" y="0" font-size="19.4" text-anchor="start">/f.u.)</text>
<text x="130.8" y="-9.8" font-size="12.2" text-anchor="start">2</text>
<text x="136.6" y="0" font-size="19.4" text-anchor="start">)</text>
</g>
<rect x="276.6" y="242.4" width="117.4" height="116.3" fill="#fff" stroke="none"/>
<line x1="276.6" y1="242.4" x2="276.6" y2="359.4" stroke="#000" stroke-width="1.5" />
<line x1="276.6" y1="358.7" x2="394" y2="358.7" stroke="#000" stroke-width="1.5" />
<line x1="276.6" y1="312.1" x2="282.6" y2="312.1" stroke="#000" stroke-width="1.3" />
<line x1="276.6" y1="265.5" x2="282.6" y2="265.5" stroke="#000" stroke-width="1.3" />
<line x1="276.6" y1="335.4" x2="280.1" y2="335.4" stroke="#000" stroke-width="1.3" />
<line x1="276.6" y1="288.8" x2="280.1" y2="288.8" stroke="#000" stroke-width="1.3" />
<line x1="312.88" y1="358.7" x2="312.88" y2="352.7" stroke="#000" stroke-width="1.3" />
<line x1="349.16" y1="358.7" x2="349.16" y2="352.7" stroke="#000" stroke-width="1.3" />
<line x1="385.44" y1="358.7" x2="385.44" y2="352.7" stroke="#000" stroke-width="1.3" />
<line x1="294.74" y1="358.7" x2="294.74" y2="355.2" stroke="#000" stroke-width="1.3" />
<line x1="331.02" y1="358.7" x2="331.02" y2="355.2" stroke="#000" stroke-width="1.3" />
<line x1="367.3" y1="358.7" x2="367.3" y2="355.2" stroke="#000" stroke-width="1.3" />
<text x="274.4" y="271.4" font-size="17.5" text-anchor="end" fill="#000" >2</text>
<text x="274.4" y="318" font-size="17.5" text-anchor="end" fill="#000" >1</text>
<text x="274.4" y="364.2" font-size="17.5" text-anchor="end" fill="#000" >0</text>
<text x="276.9" y="374.5" font-size="17.5" text-anchor="middle" fill="#000" >0</text>
<text x="313.18" y="374.5" font-size="17.5" text-anchor="middle" fill="#000" >4</text>
<text x="349.46" y="374.5" font-size="17.5" text-anchor="middle" fill="#000" >8</text>
<text x="384.24" y="374.5" font-size="17.5" text-anchor="middle" fill="#000" >12</text>
<g clip-path="url(#clipIns)">
<circle cx="343.7" cy="355.5" r="1.84" fill="#fff" stroke="#000" stroke-width="1.05"/>
<circle cx="341" cy="353.5" r="1.84" fill="#fff" stroke="#000" stroke-width="1.05"/>
<circle cx="335" cy="350.5" r="1.84" fill="#fff" stroke="#000" stroke-width="1.05"/>
<circle cx="333.7" cy="347.3" r="1.84" fill="#fff" stroke="#000" stroke-width="1.05"/>
<circle cx="333" cy="343.9" r="1.84" fill="#fff" stroke="#000" stroke-width="1.05"/>
<circle cx="332.7" cy="340.1" r="1.84" fill="#fff" stroke="#000" stroke-width="1.05"/>
<circle cx="333" cy="336.3" r="1.84" fill="#fff" stroke="#000" stroke-width="1.05"/>
<circle cx="333.4" cy="332.4" r="1.84" fill="#fff" stroke="#000" stroke-width="1.05"/>
<circle cx="334.1" cy="328.7" r="1.84" fill="#fff" stroke="#000" stroke-width="1.05"/>
<circle cx="334.8" cy="325" r="1.84" fill="#fff" stroke="#000" stroke-width="1.05"/>
<circle cx="335.7" cy="321.1" r="1.84" fill="#fff" stroke="#000" stroke-width="1.05"/>
<circle cx="336.8" cy="317.7" r="1.84" fill="#fff" stroke="#000" stroke-width="1.05"/>
<circle cx="337.9" cy="314.3" r="1.84" fill="#fff" stroke="#000" stroke-width="1.05"/>
<circle cx="339.2" cy="310.8" r="1.84" fill="#fff" stroke="#000" stroke-width="1.05"/>
<circle cx="340.5" cy="307.7" r="1.84" fill="#fff" stroke="#000" stroke-width="1.05"/>
<circle cx="341.9" cy="304.6" r="1.84" fill="#fff" stroke="#000" stroke-width="1.05"/>
<circle cx="343.4" cy="301.6" r="1.84" fill="#fff" stroke="#000" stroke-width="1.05"/>
<circle cx="345.1" cy="298.7" r="1.84" fill="#fff" stroke="#000" stroke-width="1.05"/>
<circle cx="346.7" cy="296.1" r="1.84" fill="#fff" stroke="#000" stroke-width="1.05"/>
<circle cx="348.62" cy="293.3" r="1.84" fill="#fff" stroke="#000" stroke-width="1.05"/>
<circle cx="350.45" cy="290.67" r="1.84" fill="#fff" stroke="#000" stroke-width="1.05"/>
<circle cx="352.28" cy="288.04" r="1.84" fill="#fff" stroke="#000" stroke-width="1.05"/>
<circle cx="354.01" cy="285.59" r="1.84" fill="#fff" stroke="#000" stroke-width="1.05"/>
<circle cx="355.74" cy="283.14" r="1.84" fill="#fff" stroke="#000" stroke-width="1.05"/>
<circle cx="357.48" cy="280.7" r="1.84" fill="#fff" stroke="#000" stroke-width="1.05"/>
<circle cx="359.14" cy="278.44" r="1.84" fill="#fff" stroke="#000" stroke-width="1.05"/>
<circle cx="360.84" cy="276.22" r="1.84" fill="#fff" stroke="#000" stroke-width="1.05"/>
<circle cx="362.56" cy="274.01" r="1.84" fill="#fff" stroke="#000" stroke-width="1.05"/>
<circle cx="364.19" cy="271.99" r="1.84" fill="#fff" stroke="#000" stroke-width="1.05"/>
<circle cx="365.86" cy="269.99" r="1.84" fill="#fff" stroke="#000" stroke-width="1.05"/>
<circle cx="367.55" cy="268.02" r="1.84" fill="#fff" stroke="#000" stroke-width="1.05"/>
<circle cx="369.15" cy="266.22" r="1.84" fill="#fff" stroke="#000" stroke-width="1.05"/>
<circle cx="370.77" cy="264.45" r="1.84" fill="#fff" stroke="#000" stroke-width="1.05"/>
<circle cx="372.41" cy="262.7" r="1.84" fill="#fff" stroke="#000" stroke-width="1.05"/>
<circle cx="373.94" cy="261.12" r="1.84" fill="#fff" stroke="#000" stroke-width="1.05"/>
<circle cx="375.5" cy="259.57" r="1.84" fill="#fff" stroke="#000" stroke-width="1.05"/>
<circle cx="377.06" cy="258.02" r="1.84" fill="#fff" stroke="#000" stroke-width="1.05"/>
<circle cx="378.48" cy="256.62" r="1.84" fill="#fff" stroke="#000" stroke-width="1.05"/>
<circle cx="379.89" cy="255.2" r="1.84" fill="#fff" stroke="#000" stroke-width="1.05"/>
<circle cx="381.29" cy="253.76" r="1.84" fill="#fff" stroke="#000" stroke-width="1.05"/>
<circle cx="382.55" cy="252.48" r="1.84" fill="#fff" stroke="#000" stroke-width="1.05"/>
<circle cx="383.81" cy="251.19" r="1.84" fill="#fff" stroke="#000" stroke-width="1.05"/>
<circle cx="384.94" cy="250.06" r="1.84" fill="#fff" stroke="#000" stroke-width="1.05"/>
<circle cx="386.08" cy="248.94" r="1.84" fill="#fff" stroke="#000" stroke-width="1.05"/>
<circle cx="387.23" cy="247.82" r="1.84" fill="#fff" stroke="#000" stroke-width="1.05"/>
<circle cx="388.39" cy="246.72" r="1.84" fill="#fff" stroke="#000" stroke-width="1.05"/>
<circle cx="389.55" cy="245.62" r="1.84" fill="#fff" stroke="#000" stroke-width="1.05"/>
<circle cx="390.71" cy="244.52" r="1.84" fill="#fff" stroke="#000" stroke-width="1.05"/>
<circle cx="391.88" cy="243.43" r="1.84" fill="#fff" stroke="#000" stroke-width="1.05"/>
<circle cx="393.05" cy="242.33" r="1.84" fill="#fff" stroke="#000" stroke-width="1.05"/>
<circle cx="394.22" cy="241.24" r="1.84" fill="#fff" stroke="#000" stroke-width="1.05"/>
<circle cx="395.39" cy="240.16" r="1.84" fill="#fff" stroke="#000" stroke-width="1.05"/>
<line x1="276.6" y1="350.7" x2="394.2" y2="241.5" stroke="#ff0000" stroke-width="2" />
</g>
<line x1="394" y1="242.4" x2="394" y2="508.9" stroke="#000" stroke-width="1.7" />
<line x1="60.3" y1="242.4" x2="394" y2="242.4" stroke="#000" stroke-width="1.7" />
</svg>
</body></html>
